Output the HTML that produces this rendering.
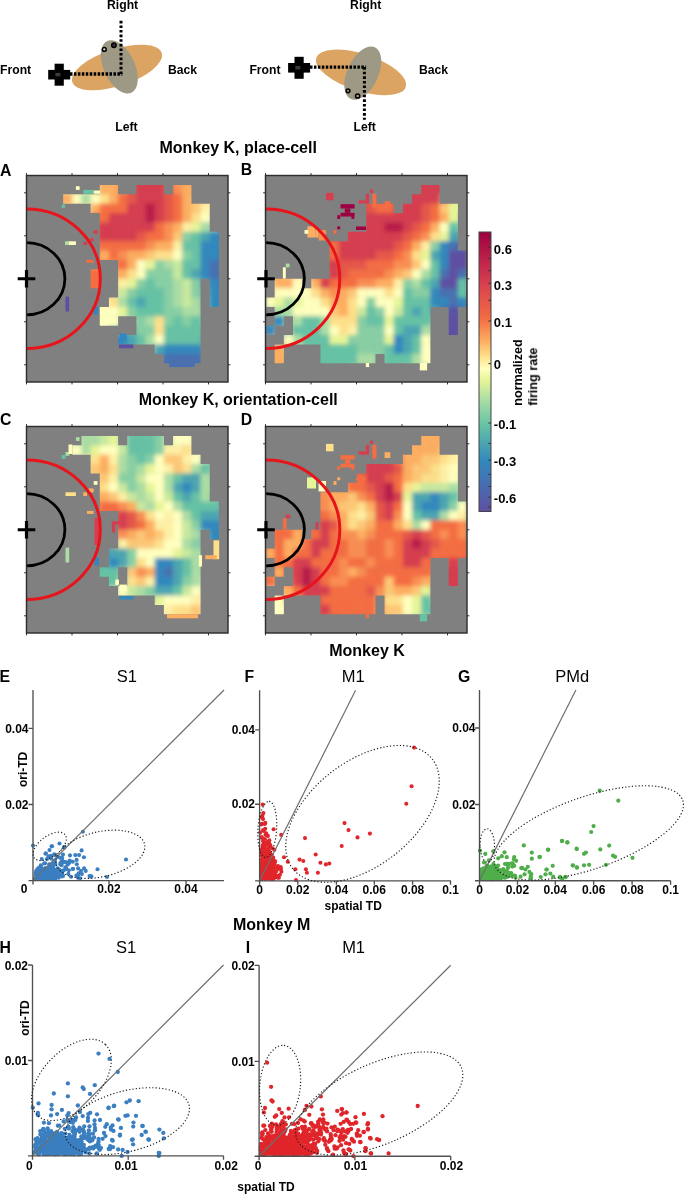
<!DOCTYPE html><html><head><meta charset="utf-8"><style>html,body{margin:0;padding:0;background:#fff;width:685px;height:1194px;overflow:hidden;}svg{display:block;}text{-webkit-font-smoothing:antialiased;}</style></head><body><svg width="685" height="1194" viewBox="0 0 685 1194" font-family="'Liberation Sans', sans-serif"><defs><filter id="blur" x="0" y="0" width="1" height="1"><feGaussianBlur stdDeviation="2.2" edgeMode="duplicate"/></filter><clipPath id="mA"><rect x="99.77" y="184.89" width="18.37" height="9.44"/><rect x="136.41" y="184.89" width="27.53" height="9.44"/><rect x="173.05" y="184.89" width="18.37" height="9.44"/><rect x="63.14" y="194.27" width="128.28" height="9.44"/><rect x="90.61" y="203.66" width="119.12" height="9.44"/><rect x="99.77" y="213.05" width="109.96" height="9.44"/><rect x="99.77" y="222.43" width="109.96" height="9.44"/><rect x="99.77" y="231.82" width="119.12" height="9.44"/><rect x="99.77" y="241.20" width="119.12" height="9.44"/><rect x="99.77" y="250.59" width="119.12" height="9.44"/><rect x="118.09" y="259.98" width="100.80" height="9.44"/><rect x="90.61" y="269.36" width="9.21" height="9.44"/><rect x="118.09" y="269.36" width="100.80" height="9.44"/><rect x="90.61" y="278.75" width="9.21" height="9.44"/><rect x="118.09" y="278.75" width="82.48" height="9.44"/><rect x="209.68" y="278.75" width="9.21" height="9.44"/><rect x="118.09" y="288.14" width="82.48" height="9.44"/><rect x="209.68" y="288.14" width="9.21" height="9.44"/><rect x="108.93" y="297.52" width="91.64" height="9.44"/><rect x="209.68" y="297.52" width="9.21" height="9.44"/><rect x="99.77" y="306.91" width="100.80" height="9.44"/><rect x="99.77" y="316.30" width="18.37" height="9.44"/><rect x="136.41" y="316.30" width="64.16" height="9.44"/><rect x="136.41" y="325.68" width="64.16" height="9.44"/><rect x="118.09" y="335.07" width="82.48" height="9.44"/><rect x="154.73" y="344.45" width="45.85" height="9.44"/><rect x="163.89" y="353.84" width="36.69" height="9.44"/></clipPath><clipPath id="pA"><rect x="26.5" y="175.5" width="201.5" height="206.5"/></clipPath><clipPath id="mB"><rect x="421.20" y="184.89" width="18.37" height="9.44"/><rect x="412.05" y="194.27" width="27.53" height="9.44"/><rect x="366.25" y="203.66" width="27.53" height="9.44"/><rect x="402.89" y="203.66" width="55.00" height="9.44"/><rect x="366.25" y="213.05" width="91.64" height="9.44"/><rect x="366.25" y="222.43" width="91.64" height="9.44"/><rect x="347.93" y="231.82" width="109.96" height="9.44"/><rect x="329.61" y="241.20" width="128.28" height="9.44"/><rect x="329.61" y="250.59" width="137.44" height="9.44"/><rect x="329.61" y="259.98" width="137.44" height="9.44"/><rect x="329.61" y="269.36" width="137.44" height="9.44"/><rect x="274.66" y="278.75" width="27.53" height="9.44"/><rect x="311.30" y="278.75" width="155.75" height="9.44"/><rect x="274.66" y="288.14" width="192.39" height="9.44"/><rect x="265.50" y="297.52" width="201.55" height="9.44"/><rect x="274.66" y="306.91" width="155.75" height="9.44"/><rect x="448.68" y="306.91" width="9.21" height="9.44"/><rect x="274.66" y="316.30" width="9.21" height="9.44"/><rect x="292.98" y="316.30" width="137.44" height="9.44"/><rect x="448.68" y="316.30" width="9.21" height="9.44"/><rect x="265.50" y="325.68" width="9.21" height="9.44"/><rect x="292.98" y="325.68" width="137.44" height="9.44"/><rect x="448.68" y="325.68" width="9.21" height="9.44"/><rect x="283.82" y="335.07" width="146.60" height="9.44"/><rect x="274.66" y="344.45" width="9.21" height="9.44"/><rect x="320.45" y="344.45" width="109.96" height="9.44"/><rect x="274.66" y="353.84" width="9.21" height="9.44"/><rect x="320.45" y="353.84" width="55.00" height="9.44"/><rect x="384.57" y="353.84" width="45.85" height="9.44"/></clipPath><clipPath id="pB"><rect x="265.5" y="175.5" width="201.5" height="206.5"/></clipPath><clipPath id="mC"><rect x="81.45" y="435.89" width="36.69" height="9.44"/><rect x="127.25" y="435.89" width="36.69" height="9.44"/><rect x="173.05" y="435.89" width="18.37" height="9.44"/><rect x="72.30" y="445.27" width="119.12" height="9.44"/><rect x="90.61" y="454.66" width="109.96" height="9.44"/><rect x="90.61" y="464.05" width="119.12" height="9.44"/><rect x="99.77" y="473.43" width="109.96" height="9.44"/><rect x="99.77" y="482.82" width="109.96" height="9.44"/><rect x="99.77" y="492.20" width="109.96" height="9.44"/><rect x="99.77" y="501.59" width="119.12" height="9.44"/><rect x="118.09" y="510.98" width="100.80" height="9.44"/><rect x="118.09" y="520.36" width="100.80" height="9.44"/><rect x="118.09" y="529.75" width="82.48" height="9.44"/><rect x="209.68" y="529.75" width="9.21" height="9.44"/><rect x="118.09" y="539.14" width="82.48" height="9.44"/><rect x="108.93" y="548.52" width="91.64" height="9.44"/><rect x="108.93" y="557.91" width="91.64" height="9.44"/><rect x="99.77" y="567.30" width="18.37" height="9.44"/><rect x="127.25" y="567.30" width="73.32" height="9.44"/><rect x="108.93" y="576.68" width="9.21" height="9.44"/><rect x="127.25" y="576.68" width="73.32" height="9.44"/><rect x="118.09" y="586.07" width="82.48" height="9.44"/><rect x="154.73" y="595.45" width="45.85" height="9.44"/><rect x="163.89" y="604.84" width="36.69" height="9.44"/></clipPath><clipPath id="pC"><rect x="26.5" y="426.5" width="201.5" height="206.5"/></clipPath><clipPath id="mD"><rect x="421.20" y="435.89" width="18.37" height="9.44"/><rect x="412.05" y="445.27" width="27.53" height="9.44"/><rect x="402.89" y="454.66" width="55.00" height="9.44"/><rect x="366.25" y="464.05" width="91.64" height="9.44"/><rect x="357.09" y="473.43" width="100.80" height="9.44"/><rect x="347.93" y="482.82" width="109.96" height="9.44"/><rect x="320.45" y="492.20" width="137.44" height="9.44"/><rect x="320.45" y="501.59" width="146.60" height="9.44"/><rect x="320.45" y="510.98" width="146.60" height="9.44"/><rect x="320.45" y="520.36" width="146.60" height="9.44"/><rect x="274.66" y="529.75" width="27.53" height="9.44"/><rect x="311.30" y="529.75" width="155.75" height="9.44"/><rect x="274.66" y="539.14" width="192.39" height="9.44"/><rect x="265.50" y="548.52" width="201.55" height="9.44"/><rect x="274.66" y="557.91" width="155.75" height="9.44"/><rect x="448.68" y="557.91" width="9.21" height="9.44"/><rect x="274.66" y="567.30" width="9.21" height="9.44"/><rect x="292.98" y="567.30" width="137.44" height="9.44"/><rect x="448.68" y="567.30" width="9.21" height="9.44"/><rect x="265.50" y="576.68" width="9.21" height="9.44"/><rect x="292.98" y="576.68" width="137.44" height="9.44"/><rect x="448.68" y="576.68" width="9.21" height="9.44"/><rect x="283.82" y="586.07" width="146.60" height="9.44"/><rect x="274.66" y="595.45" width="9.21" height="9.44"/><rect x="320.45" y="595.45" width="55.00" height="9.44"/><rect x="384.57" y="595.45" width="45.85" height="9.44"/><rect x="274.66" y="604.84" width="9.21" height="9.44"/><rect x="320.45" y="604.84" width="55.00" height="9.44"/><rect x="384.57" y="604.84" width="45.85" height="9.44"/></clipPath><clipPath id="pD"><rect x="265.5" y="426.5" width="201.5" height="206.5"/></clipPath><linearGradient id="cb" x1="0" y1="0" x2="0" y2="1"><stop offset="0" stop-color="#9e0142"/><stop offset="0.18" stop-color="#d53e4f"/><stop offset="0.31" stop-color="#f46d43"/><stop offset="0.39" stop-color="#fdae61"/><stop offset="0.445" stop-color="#fee08b"/><stop offset="0.49" stop-color="#ffffbf"/><stop offset="0.53" stop-color="#e6f598"/><stop offset="0.6" stop-color="#abdda4"/><stop offset="0.69" stop-color="#66c2a5"/><stop offset="0.82" stop-color="#3288bd"/><stop offset="1.0" stop-color="#5e4fa2"/></linearGradient></defs><ellipse cx="117" cy="67.5" rx="47" ry="18.5" transform="rotate(-18 117 67.5)" fill="#dba463"/>
<ellipse cx="119.3" cy="66.8" rx="15.5" ry="28.5" transform="rotate(-25 119.3 66.8)" fill="#9d9984"/>
<rect x="54.6" y="63.7" width="9.2" height="22" fill="#000"/>
<rect x="48.2" y="69.9" width="22" height="9.6" fill="#000"/>
<rect x="55.400000000000006" y="72.9" width="5" height="3.4" fill="#3a3a3a"/>
<line x1="70" y1="74" x2="122.3" y2="74" stroke="#000" stroke-width="3.4" stroke-dasharray="2.5 1.45"/>
<line x1="121" y1="20.8" x2="121" y2="74" stroke="#000" stroke-width="3" stroke-dasharray="2.6 2"/>
<circle cx="104.3" cy="49.4" r="1.9" fill="#d8d4c8" stroke="#000" stroke-width="1.5"/>
<circle cx="113.9" cy="45.3" r="2.2" fill="#333" stroke="#000" stroke-width="1.5"/>
<ellipse cx="361" cy="72.4" rx="47" ry="18.5" transform="rotate(18 361 72.4)" fill="#dba463"/>
<ellipse cx="362.8" cy="73.2" rx="15.5" ry="28.5" transform="rotate(25 362.8 73.2)" fill="#9d9984"/>
<rect x="294.5" y="56.8" width="9.2" height="22" fill="#000"/>
<rect x="288.1" y="63.0" width="22" height="9.6" fill="#000"/>
<rect x="295.3" y="66.0" width="5" height="3.4" fill="#3a3a3a"/>
<line x1="310" y1="67.1" x2="366.1" y2="67.1" stroke="#000" stroke-width="3.4" stroke-dasharray="2.5 1.45"/>
<line x1="364.4" y1="67.1" x2="364.4" y2="119.7" stroke="#000" stroke-width="3" stroke-dasharray="2.6 2"/>
<circle cx="348" cy="90.8" r="1.9" fill="none" stroke="#000" stroke-width="1.5"/>
<circle cx="357.6" cy="96" r="2.1" fill="none" stroke="#000" stroke-width="1.5"/>
<rect x="26.5" y="175.5" width="201.5" height="206.5" fill="#808080"/>
<g clip-path="url(#mA)"><g filter="url(#blur)"><rect x="26.50" y="175.50" width="9.46" height="9.69" fill="#fdae61"/><rect x="35.66" y="175.50" width="9.46" height="9.69" fill="#fdae61"/><rect x="44.82" y="175.50" width="9.46" height="9.69" fill="#fdae61"/><rect x="53.98" y="175.50" width="9.46" height="9.69" fill="#fec278"/><rect x="63.14" y="175.50" width="9.46" height="9.69" fill="#f4ca83"/><rect x="72.30" y="175.50" width="9.46" height="9.69" fill="#ece19f"/><rect x="81.45" y="175.50" width="9.46" height="9.69" fill="#ebd590"/><rect x="90.61" y="175.50" width="9.46" height="9.69" fill="#fdae61"/><rect x="99.77" y="175.50" width="9.46" height="9.69" fill="#fdae61"/><rect x="108.93" y="175.50" width="9.46" height="9.69" fill="#fdae61"/><rect x="118.09" y="175.50" width="9.46" height="9.69" fill="#fdae61"/><rect x="127.25" y="175.50" width="9.46" height="9.69" fill="#d53e4f"/><rect x="136.41" y="175.50" width="9.46" height="9.69" fill="#d53e4f"/><rect x="145.57" y="175.50" width="9.46" height="9.69" fill="#d53e4f"/><rect x="154.73" y="175.50" width="9.46" height="9.69" fill="#d53e4f"/><rect x="163.89" y="175.50" width="9.46" height="9.69" fill="#e76650"/><rect x="173.05" y="175.50" width="9.46" height="9.69" fill="#fb9e5a"/><rect x="182.20" y="175.50" width="9.46" height="9.69" fill="#fb9e5a"/><rect x="191.36" y="175.50" width="9.46" height="9.69" fill="#fdae61"/><rect x="200.52" y="175.50" width="9.46" height="9.69" fill="#fdae61"/><rect x="209.68" y="175.50" width="9.46" height="9.69" fill="#fed387"/><rect x="218.84" y="175.50" width="9.46" height="9.69" fill="#feeb9f"/><rect x="26.50" y="184.89" width="9.46" height="9.69" fill="#fdae61"/><rect x="35.66" y="184.89" width="9.46" height="9.69" fill="#fdae61"/><rect x="44.82" y="184.89" width="9.46" height="9.69" fill="#fdae61"/><rect x="53.98" y="184.89" width="9.46" height="9.69" fill="#fdae61"/><rect x="63.14" y="184.89" width="9.46" height="9.69" fill="#fed690"/><rect x="72.30" y="184.89" width="9.46" height="9.69" fill="#e2d997"/><rect x="81.45" y="184.89" width="9.46" height="9.69" fill="#e3f4b6"/><rect x="90.61" y="184.89" width="9.46" height="9.69" fill="#e9da94"/><rect x="99.77" y="184.89" width="9.46" height="9.69" fill="#fdae61"/><rect x="108.93" y="184.89" width="9.46" height="9.69" fill="#fdae61"/><rect x="118.09" y="184.89" width="9.46" height="9.69" fill="#f58854"/><rect x="127.25" y="184.89" width="9.46" height="9.69" fill="#e1504b"/><rect x="136.41" y="184.89" width="9.46" height="9.69" fill="#d53e4f"/><rect x="145.57" y="184.89" width="9.46" height="9.69" fill="#d53e4f"/><rect x="154.73" y="184.89" width="9.46" height="9.69" fill="#d53e4f"/><rect x="163.89" y="184.89" width="9.46" height="9.69" fill="#e65c4c"/><rect x="173.05" y="184.89" width="9.46" height="9.69" fill="#f98e52"/><rect x="182.20" y="184.89" width="9.46" height="9.69" fill="#fdae61"/><rect x="191.36" y="184.89" width="9.46" height="9.69" fill="#fdae61"/><rect x="200.52" y="184.89" width="9.46" height="9.69" fill="#fdc87b"/><rect x="209.68" y="184.89" width="9.46" height="9.69" fill="#fee699"/><rect x="218.84" y="184.89" width="9.46" height="9.69" fill="#fef0a5"/><rect x="26.50" y="194.27" width="9.46" height="9.69" fill="#fdae61"/><rect x="35.66" y="194.27" width="9.46" height="9.69" fill="#fdae61"/><rect x="44.82" y="194.27" width="9.46" height="9.69" fill="#fdae61"/><rect x="53.98" y="194.27" width="9.46" height="9.69" fill="#fdae61"/><rect x="63.14" y="194.27" width="9.46" height="9.69" fill="#fdae61"/><rect x="72.30" y="194.27" width="9.46" height="9.69" fill="#ffffbf"/><rect x="81.45" y="194.27" width="9.46" height="9.69" fill="#abdda4"/><rect x="90.61" y="194.27" width="9.46" height="9.69" fill="#ffffbf"/><rect x="99.77" y="194.27" width="9.46" height="9.69" fill="#fee08b"/><rect x="108.93" y="194.27" width="9.46" height="9.69" fill="#fdae61"/><rect x="118.09" y="194.27" width="9.46" height="9.69" fill="#f46d43"/><rect x="127.25" y="194.27" width="9.46" height="9.69" fill="#e5564a"/><rect x="136.41" y="194.27" width="9.46" height="9.69" fill="#d53e4f"/><rect x="145.57" y="194.27" width="9.46" height="9.69" fill="#d53e4f"/><rect x="154.73" y="194.27" width="9.46" height="9.69" fill="#d53e4f"/><rect x="163.89" y="194.27" width="9.46" height="9.69" fill="#e5564a"/><rect x="173.05" y="194.27" width="9.46" height="9.69" fill="#f46d43"/><rect x="182.20" y="194.27" width="9.46" height="9.69" fill="#fdae61"/><rect x="191.36" y="194.27" width="9.46" height="9.69" fill="#fdc073"/><rect x="200.52" y="194.27" width="9.46" height="9.69" fill="#fedc8e"/><rect x="209.68" y="194.27" width="9.46" height="9.69" fill="#fef0a5"/><rect x="218.84" y="194.27" width="9.46" height="9.69" fill="#fef4ac"/><rect x="26.50" y="203.66" width="9.46" height="9.69" fill="#fdae61"/><rect x="35.66" y="203.66" width="9.46" height="9.69" fill="#fdae61"/><rect x="44.82" y="203.66" width="9.46" height="9.69" fill="#fdae61"/><rect x="53.98" y="203.66" width="9.46" height="9.69" fill="#fdae61"/><rect x="63.14" y="203.66" width="9.46" height="9.69" fill="#fed690"/><rect x="72.30" y="203.66" width="9.46" height="9.69" fill="#e2d997"/><rect x="81.45" y="203.66" width="9.46" height="9.69" fill="#eae2a1"/><rect x="90.61" y="203.66" width="9.46" height="9.69" fill="#fdae61"/><rect x="99.77" y="203.66" width="9.46" height="9.69" fill="#f46d43"/><rect x="108.93" y="203.66" width="9.46" height="9.69" fill="#f46d43"/><rect x="118.09" y="203.66" width="9.46" height="9.69" fill="#f46d43"/><rect x="127.25" y="203.66" width="9.46" height="9.69" fill="#d53e4f"/><rect x="136.41" y="203.66" width="9.46" height="9.69" fill="#d53e4f"/><rect x="145.57" y="203.66" width="9.46" height="9.69" fill="#b81e4a"/><rect x="154.73" y="203.66" width="9.46" height="9.69" fill="#d53e4f"/><rect x="163.89" y="203.66" width="9.46" height="9.69" fill="#e5564a"/><rect x="173.05" y="203.66" width="9.46" height="9.69" fill="#f46d43"/><rect x="182.20" y="203.66" width="9.46" height="9.69" fill="#fdae61"/><rect x="191.36" y="203.66" width="9.46" height="9.69" fill="#fdc776"/><rect x="200.52" y="203.66" width="9.46" height="9.69" fill="#fef0a5"/><rect x="209.68" y="203.66" width="9.46" height="9.69" fill="#fef8b2"/><rect x="218.84" y="203.66" width="9.46" height="9.69" fill="#f5f2ac"/><rect x="26.50" y="213.05" width="9.46" height="9.69" fill="#fdae61"/><rect x="35.66" y="213.05" width="9.46" height="9.69" fill="#fdae61"/><rect x="44.82" y="213.05" width="9.46" height="9.69" fill="#fdae61"/><rect x="53.98" y="213.05" width="9.46" height="9.69" fill="#fec278"/><rect x="63.14" y="213.05" width="9.46" height="9.69" fill="#f4ca83"/><rect x="72.30" y="213.05" width="9.46" height="9.69" fill="#f2d08a"/><rect x="81.45" y="213.05" width="9.46" height="9.69" fill="#fdae61"/><rect x="90.61" y="213.05" width="9.46" height="9.69" fill="#ee724e"/><rect x="99.77" y="213.05" width="9.46" height="9.69" fill="#f46d43"/><rect x="108.93" y="213.05" width="9.46" height="9.69" fill="#d53e4f"/><rect x="118.09" y="213.05" width="9.46" height="9.69" fill="#d53e4f"/><rect x="127.25" y="213.05" width="9.46" height="9.69" fill="#d53e4f"/><rect x="136.41" y="213.05" width="9.46" height="9.69" fill="#d53e4f"/><rect x="145.57" y="213.05" width="9.46" height="9.69" fill="#b81e4a"/><rect x="154.73" y="213.05" width="9.46" height="9.69" fill="#d53e4f"/><rect x="163.89" y="213.05" width="9.46" height="9.69" fill="#e5564a"/><rect x="173.05" y="213.05" width="9.46" height="9.69" fill="#f46d43"/><rect x="182.20" y="213.05" width="9.46" height="9.69" fill="#fdae61"/><rect x="191.36" y="213.05" width="9.46" height="9.69" fill="#fee08b"/><rect x="200.52" y="213.05" width="9.46" height="9.69" fill="#ffffbf"/><rect x="209.68" y="213.05" width="9.46" height="9.69" fill="#e3efad"/><rect x="218.84" y="213.05" width="9.46" height="9.69" fill="#a7ccb4"/><rect x="26.50" y="222.43" width="9.46" height="9.69" fill="#fdae61"/><rect x="35.66" y="222.43" width="9.46" height="9.69" fill="#fdae61"/><rect x="44.82" y="222.43" width="9.46" height="9.69" fill="#fdb86d"/><rect x="53.98" y="222.43" width="9.46" height="9.69" fill="#fabe74"/><rect x="63.14" y="222.43" width="9.46" height="9.69" fill="#f8c27a"/><rect x="72.30" y="222.43" width="9.46" height="9.69" fill="#fdae61"/><rect x="81.45" y="222.43" width="9.46" height="9.69" fill="#eb6f51"/><rect x="90.61" y="222.43" width="9.46" height="9.69" fill="#df4e4b"/><rect x="99.77" y="222.43" width="9.46" height="9.69" fill="#d53e4f"/><rect x="108.93" y="222.43" width="9.46" height="9.69" fill="#d53e4f"/><rect x="118.09" y="222.43" width="9.46" height="9.69" fill="#d53e4f"/><rect x="127.25" y="222.43" width="9.46" height="9.69" fill="#d53e4f"/><rect x="136.41" y="222.43" width="9.46" height="9.69" fill="#d53e4f"/><rect x="145.57" y="222.43" width="9.46" height="9.69" fill="#d53e4f"/><rect x="154.73" y="222.43" width="9.46" height="9.69" fill="#f46d43"/><rect x="163.89" y="222.43" width="9.46" height="9.69" fill="#f98e52"/><rect x="173.05" y="222.43" width="9.46" height="9.69" fill="#fdae61"/><rect x="182.20" y="222.43" width="9.46" height="9.69" fill="#fef0a5"/><rect x="191.36" y="222.43" width="9.46" height="9.69" fill="#e6f598"/><rect x="200.52" y="222.43" width="9.46" height="9.69" fill="#abdda4"/><rect x="209.68" y="222.43" width="9.46" height="9.69" fill="#8ac2b4"/><rect x="218.84" y="222.43" width="9.46" height="9.69" fill="#3288bd"/><rect x="26.50" y="231.82" width="9.46" height="9.69" fill="#fdae61"/><rect x="35.66" y="231.82" width="9.46" height="9.69" fill="#fdb367"/><rect x="44.82" y="231.82" width="9.46" height="9.69" fill="#fcb76b"/><rect x="53.98" y="231.82" width="9.46" height="9.69" fill="#faaa66"/><rect x="63.14" y="231.82" width="9.46" height="9.69" fill="#fdae61"/><rect x="72.30" y="231.82" width="9.46" height="9.69" fill="#ee7a54"/><rect x="81.45" y="231.82" width="9.46" height="9.69" fill="#e45a4d"/><rect x="90.61" y="231.82" width="9.46" height="9.69" fill="#df4e4b"/><rect x="99.77" y="231.82" width="9.46" height="9.69" fill="#d53e4f"/><rect x="108.93" y="231.82" width="9.46" height="9.69" fill="#d53e4f"/><rect x="118.09" y="231.82" width="9.46" height="9.69" fill="#d53e4f"/><rect x="127.25" y="231.82" width="9.46" height="9.69" fill="#d53e4f"/><rect x="136.41" y="231.82" width="9.46" height="9.69" fill="#e5564a"/><rect x="145.57" y="231.82" width="9.46" height="9.69" fill="#f46d43"/><rect x="154.73" y="231.82" width="9.46" height="9.69" fill="#f46d43"/><rect x="163.89" y="231.82" width="9.46" height="9.69" fill="#f98e52"/><rect x="173.05" y="231.82" width="9.46" height="9.69" fill="#fdc776"/><rect x="182.20" y="231.82" width="9.46" height="9.69" fill="#88cfa4"/><rect x="191.36" y="231.82" width="9.46" height="9.69" fill="#66c2a5"/><rect x="200.52" y="231.82" width="9.46" height="9.69" fill="#4ca5b1"/><rect x="209.68" y="231.82" width="9.46" height="9.69" fill="#3288bd"/><rect x="218.84" y="231.82" width="9.46" height="9.69" fill="#3288bd"/><rect x="26.50" y="241.20" width="9.46" height="9.69" fill="#fdb164"/><rect x="35.66" y="241.20" width="9.46" height="9.69" fill="#fdb366"/><rect x="44.82" y="241.20" width="9.46" height="9.69" fill="#f99a5b"/><rect x="53.98" y="241.20" width="9.46" height="9.69" fill="#f7834d"/><rect x="63.14" y="241.20" width="9.46" height="9.69" fill="#f46d43"/><rect x="72.30" y="241.20" width="9.46" height="9.69" fill="#ee6d4b"/><rect x="81.45" y="241.20" width="9.46" height="9.69" fill="#ec6f4f"/><rect x="90.61" y="241.20" width="9.46" height="9.69" fill="#ed7351"/><rect x="99.77" y="241.20" width="9.46" height="9.69" fill="#f46d43"/><rect x="108.93" y="241.20" width="9.46" height="9.69" fill="#f46d43"/><rect x="118.09" y="241.20" width="9.46" height="9.69" fill="#f46d43"/><rect x="127.25" y="241.20" width="9.46" height="9.69" fill="#f46d43"/><rect x="136.41" y="241.20" width="9.46" height="9.69" fill="#f46d43"/><rect x="145.57" y="241.20" width="9.46" height="9.69" fill="#f98e52"/><rect x="154.73" y="241.20" width="9.46" height="9.69" fill="#fdae61"/><rect x="163.89" y="241.20" width="9.46" height="9.69" fill="#fdae61"/><rect x="173.05" y="241.20" width="9.46" height="9.69" fill="#fef0a5"/><rect x="182.20" y="241.20" width="9.46" height="9.69" fill="#66c2a5"/><rect x="191.36" y="241.20" width="9.46" height="9.69" fill="#66c2a5"/><rect x="200.52" y="241.20" width="9.46" height="9.69" fill="#3288bd"/><rect x="209.68" y="241.20" width="9.46" height="9.69" fill="#3288bd"/><rect x="218.84" y="241.20" width="9.46" height="9.69" fill="#3288bd"/><rect x="26.50" y="250.59" width="9.46" height="9.69" fill="#fdb265"/><rect x="35.66" y="250.59" width="9.46" height="9.69" fill="#f99356"/><rect x="44.82" y="250.59" width="9.46" height="9.69" fill="#f57446"/><rect x="53.98" y="250.59" width="9.46" height="9.69" fill="#f46d43"/><rect x="63.14" y="250.59" width="9.46" height="9.69" fill="#f46d43"/><rect x="72.30" y="250.59" width="9.46" height="9.69" fill="#f46d43"/><rect x="81.45" y="250.59" width="9.46" height="9.69" fill="#f47f4e"/><rect x="90.61" y="250.59" width="9.46" height="9.69" fill="#f88e52"/><rect x="99.77" y="250.59" width="9.46" height="9.69" fill="#fdae61"/><rect x="108.93" y="250.59" width="9.46" height="9.69" fill="#f46d43"/><rect x="118.09" y="250.59" width="9.46" height="9.69" fill="#f98e52"/><rect x="127.25" y="250.59" width="9.46" height="9.69" fill="#fdae61"/><rect x="136.41" y="250.59" width="9.46" height="9.69" fill="#fdae61"/><rect x="145.57" y="250.59" width="9.46" height="9.69" fill="#fdc776"/><rect x="154.73" y="250.59" width="9.46" height="9.69" fill="#fee08b"/><rect x="163.89" y="250.59" width="9.46" height="9.69" fill="#fee08b"/><rect x="173.05" y="250.59" width="9.46" height="9.69" fill="#ffffbf"/><rect x="182.20" y="250.59" width="9.46" height="9.69" fill="#88cfa4"/><rect x="191.36" y="250.59" width="9.46" height="9.69" fill="#66c2a5"/><rect x="200.52" y="250.59" width="9.46" height="9.69" fill="#3288bd"/><rect x="209.68" y="250.59" width="9.46" height="9.69" fill="#3288bd"/><rect x="218.84" y="250.59" width="9.46" height="9.69" fill="#3980b9"/><rect x="26.50" y="259.98" width="9.46" height="9.69" fill="#f88851"/><rect x="35.66" y="259.98" width="9.46" height="9.69" fill="#f46f44"/><rect x="44.82" y="259.98" width="9.46" height="9.69" fill="#f46d43"/><rect x="53.98" y="259.98" width="9.46" height="9.69" fill="#f46d43"/><rect x="63.14" y="259.98" width="9.46" height="9.69" fill="#f46d43"/><rect x="72.30" y="259.98" width="9.46" height="9.69" fill="#f46d43"/><rect x="81.45" y="259.98" width="9.46" height="9.69" fill="#f46d43"/><rect x="90.61" y="259.98" width="9.46" height="9.69" fill="#f88e52"/><rect x="99.77" y="259.98" width="9.46" height="9.69" fill="#f7834d"/><rect x="108.93" y="259.98" width="9.46" height="9.69" fill="#f98e52"/><rect x="118.09" y="259.98" width="9.46" height="9.69" fill="#f46d43"/><rect x="127.25" y="259.98" width="9.46" height="9.69" fill="#fdae61"/><rect x="136.41" y="259.98" width="9.46" height="9.69" fill="#ffffbf"/><rect x="145.57" y="259.98" width="9.46" height="9.69" fill="#e6f598"/><rect x="154.73" y="259.98" width="9.46" height="9.69" fill="#88cfa4"/><rect x="163.89" y="259.98" width="9.46" height="9.69" fill="#abdda4"/><rect x="173.05" y="259.98" width="9.46" height="9.69" fill="#c8e99e"/><rect x="182.20" y="259.98" width="9.46" height="9.69" fill="#66c2a5"/><rect x="191.36" y="259.98" width="9.46" height="9.69" fill="#66c2a5"/><rect x="200.52" y="259.98" width="9.46" height="9.69" fill="#3288bd"/><rect x="209.68" y="259.98" width="9.46" height="9.69" fill="#4870b0"/><rect x="218.84" y="259.98" width="9.46" height="9.69" fill="#4178b4"/><rect x="26.50" y="269.36" width="9.46" height="9.69" fill="#f46e43"/><rect x="35.66" y="269.36" width="9.46" height="9.69" fill="#f46d43"/><rect x="44.82" y="269.36" width="9.46" height="9.69" fill="#f46d43"/><rect x="53.98" y="269.36" width="9.46" height="9.69" fill="#f46d43"/><rect x="63.14" y="269.36" width="9.46" height="9.69" fill="#f46d43"/><rect x="72.30" y="269.36" width="9.46" height="9.69" fill="#f46d43"/><rect x="81.45" y="269.36" width="9.46" height="9.69" fill="#f46d43"/><rect x="90.61" y="269.36" width="9.46" height="9.69" fill="#f46d43"/><rect x="99.77" y="269.36" width="9.46" height="9.69" fill="#f46d43"/><rect x="108.93" y="269.36" width="9.46" height="9.69" fill="#faae6e"/><rect x="118.09" y="269.36" width="9.46" height="9.69" fill="#fdae61"/><rect x="127.25" y="269.36" width="9.46" height="9.69" fill="#fee08b"/><rect x="136.41" y="269.36" width="9.46" height="9.69" fill="#ffffbf"/><rect x="145.57" y="269.36" width="9.46" height="9.69" fill="#88cfa4"/><rect x="154.73" y="269.36" width="9.46" height="9.69" fill="#88cfa4"/><rect x="163.89" y="269.36" width="9.46" height="9.69" fill="#88cfa4"/><rect x="173.05" y="269.36" width="9.46" height="9.69" fill="#c8e99e"/><rect x="182.20" y="269.36" width="9.46" height="9.69" fill="#66c2a5"/><rect x="191.36" y="269.36" width="9.46" height="9.69" fill="#4ca5b1"/><rect x="200.52" y="269.36" width="9.46" height="9.69" fill="#3288bd"/><rect x="209.68" y="269.36" width="9.46" height="9.69" fill="#4870b0"/><rect x="218.84" y="269.36" width="9.46" height="9.69" fill="#4178b4"/><rect x="26.50" y="278.75" width="9.46" height="9.69" fill="#f46d43"/><rect x="35.66" y="278.75" width="9.46" height="9.69" fill="#f46d43"/><rect x="44.82" y="278.75" width="9.46" height="9.69" fill="#f46d43"/><rect x="53.98" y="278.75" width="9.46" height="9.69" fill="#f46d43"/><rect x="63.14" y="278.75" width="9.46" height="9.69" fill="#f46d43"/><rect x="72.30" y="278.75" width="9.46" height="9.69" fill="#f46d43"/><rect x="81.45" y="278.75" width="9.46" height="9.69" fill="#f46d43"/><rect x="90.61" y="278.75" width="9.46" height="9.69" fill="#f46d43"/><rect x="99.77" y="278.75" width="9.46" height="9.69" fill="#f46d43"/><rect x="108.93" y="278.75" width="9.46" height="9.69" fill="#ecd88c"/><rect x="118.09" y="278.75" width="9.46" height="9.69" fill="#fef0a5"/><rect x="127.25" y="278.75" width="9.46" height="9.69" fill="#e6f598"/><rect x="136.41" y="278.75" width="9.46" height="9.69" fill="#88cfa4"/><rect x="145.57" y="278.75" width="9.46" height="9.69" fill="#66c2a5"/><rect x="154.73" y="278.75" width="9.46" height="9.69" fill="#88cfa4"/><rect x="163.89" y="278.75" width="9.46" height="9.69" fill="#88cfa4"/><rect x="173.05" y="278.75" width="9.46" height="9.69" fill="#abdda4"/><rect x="182.20" y="278.75" width="9.46" height="9.69" fill="#c8e99e"/><rect x="191.36" y="278.75" width="9.46" height="9.69" fill="#88cfa4"/><rect x="200.52" y="278.75" width="9.46" height="9.69" fill="#519db2"/><rect x="209.68" y="278.75" width="9.46" height="9.69" fill="#3288bd"/><rect x="218.84" y="278.75" width="9.46" height="9.69" fill="#3980b9"/><rect x="26.50" y="288.14" width="9.46" height="9.69" fill="#f46d43"/><rect x="35.66" y="288.14" width="9.46" height="9.69" fill="#f46d43"/><rect x="44.82" y="288.14" width="9.46" height="9.69" fill="#f46d43"/><rect x="53.98" y="288.14" width="9.46" height="9.69" fill="#f46d43"/><rect x="63.14" y="288.14" width="9.46" height="9.69" fill="#f46d43"/><rect x="72.30" y="288.14" width="9.46" height="9.69" fill="#f46d43"/><rect x="81.45" y="288.14" width="9.46" height="9.69" fill="#f46d43"/><rect x="90.61" y="288.14" width="9.46" height="9.69" fill="#f46d43"/><rect x="99.77" y="288.14" width="9.46" height="9.69" fill="#f9a667"/><rect x="108.93" y="288.14" width="9.46" height="9.69" fill="#dce69c"/><rect x="118.09" y="288.14" width="9.46" height="9.69" fill="#c8e99e"/><rect x="127.25" y="288.14" width="9.46" height="9.69" fill="#88cfa4"/><rect x="136.41" y="288.14" width="9.46" height="9.69" fill="#66c2a5"/><rect x="145.57" y="288.14" width="9.46" height="9.69" fill="#66c2a5"/><rect x="154.73" y="288.14" width="9.46" height="9.69" fill="#66c2a5"/><rect x="163.89" y="288.14" width="9.46" height="9.69" fill="#88cfa4"/><rect x="173.05" y="288.14" width="9.46" height="9.69" fill="#abdda4"/><rect x="182.20" y="288.14" width="9.46" height="9.69" fill="#c8e99e"/><rect x="191.36" y="288.14" width="9.46" height="9.69" fill="#88cfa4"/><rect x="200.52" y="288.14" width="9.46" height="9.69" fill="#63aeb0"/><rect x="209.68" y="288.14" width="9.46" height="9.69" fill="#3288bd"/><rect x="218.84" y="288.14" width="9.46" height="9.69" fill="#3288bd"/><rect x="26.50" y="297.52" width="9.46" height="9.69" fill="#f46d43"/><rect x="35.66" y="297.52" width="9.46" height="9.69" fill="#f46d43"/><rect x="44.82" y="297.52" width="9.46" height="9.69" fill="#f46d43"/><rect x="53.98" y="297.52" width="9.46" height="9.69" fill="#f46d43"/><rect x="63.14" y="297.52" width="9.46" height="9.69" fill="#f46d43"/><rect x="72.30" y="297.52" width="9.46" height="9.69" fill="#f46d43"/><rect x="81.45" y="297.52" width="9.46" height="9.69" fill="#fab681"/><rect x="90.61" y="297.52" width="9.46" height="9.69" fill="#ffffbf"/><rect x="99.77" y="297.52" width="9.46" height="9.69" fill="#fff5ae"/><rect x="108.93" y="297.52" width="9.46" height="9.69" fill="#fee08b"/><rect x="118.09" y="297.52" width="9.46" height="9.69" fill="#abdda4"/><rect x="127.25" y="297.52" width="9.46" height="9.69" fill="#66c2a5"/><rect x="136.41" y="297.52" width="9.46" height="9.69" fill="#4ca5b1"/><rect x="145.57" y="297.52" width="9.46" height="9.69" fill="#66c2a5"/><rect x="154.73" y="297.52" width="9.46" height="9.69" fill="#66c2a5"/><rect x="163.89" y="297.52" width="9.46" height="9.69" fill="#88cfa4"/><rect x="173.05" y="297.52" width="9.46" height="9.69" fill="#abdda4"/><rect x="182.20" y="297.52" width="9.46" height="9.69" fill="#c8e99e"/><rect x="191.36" y="297.52" width="9.46" height="9.69" fill="#abdda4"/><rect x="200.52" y="297.52" width="9.46" height="9.69" fill="#74b8ae"/><rect x="209.68" y="297.52" width="9.46" height="9.69" fill="#3288bd"/><rect x="218.84" y="297.52" width="9.46" height="9.69" fill="#3288bd"/><rect x="26.50" y="306.91" width="9.46" height="9.69" fill="#f46d43"/><rect x="35.66" y="306.91" width="9.46" height="9.69" fill="#f46d43"/><rect x="44.82" y="306.91" width="9.46" height="9.69" fill="#f46d43"/><rect x="53.98" y="306.91" width="9.46" height="9.69" fill="#f46d43"/><rect x="63.14" y="306.91" width="9.46" height="9.69" fill="#f46d43"/><rect x="72.30" y="306.91" width="9.46" height="9.69" fill="#fbc890"/><rect x="81.45" y="306.91" width="9.46" height="9.69" fill="#ffffbf"/><rect x="90.61" y="306.91" width="9.46" height="9.69" fill="#ffffbf"/><rect x="99.77" y="306.91" width="9.46" height="9.69" fill="#ffffbf"/><rect x="108.93" y="306.91" width="9.46" height="9.69" fill="#ffffbf"/><rect x="118.09" y="306.91" width="9.46" height="9.69" fill="#e6f598"/><rect x="127.25" y="306.91" width="9.46" height="9.69" fill="#88cfa4"/><rect x="136.41" y="306.91" width="9.46" height="9.69" fill="#66c2a5"/><rect x="145.57" y="306.91" width="9.46" height="9.69" fill="#66c2a5"/><rect x="154.73" y="306.91" width="9.46" height="9.69" fill="#66c2a5"/><rect x="163.89" y="306.91" width="9.46" height="9.69" fill="#88cfa4"/><rect x="173.05" y="306.91" width="9.46" height="9.69" fill="#88cfa4"/><rect x="182.20" y="306.91" width="9.46" height="9.69" fill="#abdda4"/><rect x="191.36" y="306.91" width="9.46" height="9.69" fill="#abdda4"/><rect x="200.52" y="306.91" width="9.46" height="9.69" fill="#7cc1aa"/><rect x="209.68" y="306.91" width="9.46" height="9.69" fill="#3288bd"/><rect x="218.84" y="306.91" width="9.46" height="9.69" fill="#3288bd"/><rect x="26.50" y="316.30" width="9.46" height="9.69" fill="#f46d43"/><rect x="35.66" y="316.30" width="9.46" height="9.69" fill="#f46d43"/><rect x="44.82" y="316.30" width="9.46" height="9.69" fill="#f46d43"/><rect x="53.98" y="316.30" width="9.46" height="9.69" fill="#f46d43"/><rect x="63.14" y="316.30" width="9.46" height="9.69" fill="#fbcd94"/><rect x="72.30" y="316.30" width="9.46" height="9.69" fill="#ffffbf"/><rect x="81.45" y="316.30" width="9.46" height="9.69" fill="#ffffbf"/><rect x="90.61" y="316.30" width="9.46" height="9.69" fill="#ffffbf"/><rect x="99.77" y="316.30" width="9.46" height="9.69" fill="#ffffbf"/><rect x="108.93" y="316.30" width="9.46" height="9.69" fill="#ffffbf"/><rect x="118.09" y="316.30" width="9.46" height="9.69" fill="#dbf0ae"/><rect x="127.25" y="316.30" width="9.46" height="9.69" fill="#94d4a2"/><rect x="136.41" y="316.30" width="9.46" height="9.69" fill="#88cfa4"/><rect x="145.57" y="316.30" width="9.46" height="9.69" fill="#abdda4"/><rect x="154.73" y="316.30" width="9.46" height="9.69" fill="#fee08b"/><rect x="163.89" y="316.30" width="9.46" height="9.69" fill="#88cfa4"/><rect x="173.05" y="316.30" width="9.46" height="9.69" fill="#66c2a5"/><rect x="182.20" y="316.30" width="9.46" height="9.69" fill="#88cfa4"/><rect x="191.36" y="316.30" width="9.46" height="9.69" fill="#66c2a5"/><rect x="200.52" y="316.30" width="9.46" height="9.69" fill="#7dcba5"/><rect x="209.68" y="316.30" width="9.46" height="9.69" fill="#5aacb0"/><rect x="218.84" y="316.30" width="9.46" height="9.69" fill="#3288bd"/><rect x="26.50" y="325.68" width="9.46" height="9.69" fill="#f46d43"/><rect x="35.66" y="325.68" width="9.46" height="9.69" fill="#f46d43"/><rect x="44.82" y="325.68" width="9.46" height="9.69" fill="#f46d43"/><rect x="53.98" y="325.68" width="9.46" height="9.69" fill="#fbce95"/><rect x="63.14" y="325.68" width="9.46" height="9.69" fill="#ffffbf"/><rect x="72.30" y="325.68" width="9.46" height="9.69" fill="#ffffbf"/><rect x="81.45" y="325.68" width="9.46" height="9.69" fill="#ffffbf"/><rect x="90.61" y="325.68" width="9.46" height="9.69" fill="#ffffbf"/><rect x="99.77" y="325.68" width="9.46" height="9.69" fill="#ffffbf"/><rect x="108.93" y="325.68" width="9.46" height="9.69" fill="#bbd7be"/><rect x="118.09" y="325.68" width="9.46" height="9.69" fill="#7fb9ba"/><rect x="127.25" y="325.68" width="9.46" height="9.69" fill="#64b6ac"/><rect x="136.41" y="325.68" width="9.46" height="9.69" fill="#88cfa4"/><rect x="145.57" y="325.68" width="9.46" height="9.69" fill="#88cfa4"/><rect x="154.73" y="325.68" width="9.46" height="9.69" fill="#fee08b"/><rect x="163.89" y="325.68" width="9.46" height="9.69" fill="#66c2a5"/><rect x="173.05" y="325.68" width="9.46" height="9.69" fill="#66c2a5"/><rect x="182.20" y="325.68" width="9.46" height="9.69" fill="#66c2a5"/><rect x="191.36" y="325.68" width="9.46" height="9.69" fill="#66c2a5"/><rect x="200.52" y="325.68" width="9.46" height="9.69" fill="#66c2a5"/><rect x="209.68" y="325.68" width="9.46" height="9.69" fill="#68bfa8"/><rect x="218.84" y="325.68" width="9.46" height="9.69" fill="#53a8b0"/><rect x="26.50" y="335.07" width="9.46" height="9.69" fill="#f46d43"/><rect x="35.66" y="335.07" width="9.46" height="9.69" fill="#f46d43"/><rect x="44.82" y="335.07" width="9.46" height="9.69" fill="#fbce96"/><rect x="53.98" y="335.07" width="9.46" height="9.69" fill="#ffffbf"/><rect x="63.14" y="335.07" width="9.46" height="9.69" fill="#ffffbf"/><rect x="72.30" y="335.07" width="9.46" height="9.69" fill="#ffffbf"/><rect x="81.45" y="335.07" width="9.46" height="9.69" fill="#ffffbf"/><rect x="90.61" y="335.07" width="9.46" height="9.69" fill="#ffffbf"/><rect x="99.77" y="335.07" width="9.46" height="9.69" fill="#9fc7be"/><rect x="108.93" y="335.07" width="9.46" height="9.69" fill="#3288bd"/><rect x="118.09" y="335.07" width="9.46" height="9.69" fill="#3288bd"/><rect x="127.25" y="335.07" width="9.46" height="9.69" fill="#4ca5b1"/><rect x="136.41" y="335.07" width="9.46" height="9.69" fill="#66c2a5"/><rect x="145.57" y="335.07" width="9.46" height="9.69" fill="#abdda4"/><rect x="154.73" y="335.07" width="9.46" height="9.69" fill="#ffffbf"/><rect x="163.89" y="335.07" width="9.46" height="9.69" fill="#66c2a5"/><rect x="173.05" y="335.07" width="9.46" height="9.69" fill="#66c2a5"/><rect x="182.20" y="335.07" width="9.46" height="9.69" fill="#66c2a5"/><rect x="191.36" y="335.07" width="9.46" height="9.69" fill="#66c2a5"/><rect x="200.52" y="335.07" width="9.46" height="9.69" fill="#55afad"/><rect x="209.68" y="335.07" width="9.46" height="9.69" fill="#57acac"/><rect x="218.84" y="335.07" width="9.46" height="9.69" fill="#58aaac"/><rect x="26.50" y="344.45" width="9.46" height="9.69" fill="#f46d43"/><rect x="35.66" y="344.45" width="9.46" height="9.69" fill="#fbce96"/><rect x="44.82" y="344.45" width="9.46" height="9.69" fill="#ffffbf"/><rect x="53.98" y="344.45" width="9.46" height="9.69" fill="#ffffbf"/><rect x="63.14" y="344.45" width="9.46" height="9.69" fill="#ffffbf"/><rect x="72.30" y="344.45" width="9.46" height="9.69" fill="#ffffbf"/><rect x="81.45" y="344.45" width="9.46" height="9.69" fill="#ffffbf"/><rect x="90.61" y="344.45" width="9.46" height="9.69" fill="#9ac4be"/><rect x="99.77" y="344.45" width="9.46" height="9.69" fill="#3288bd"/><rect x="108.93" y="344.45" width="9.46" height="9.69" fill="#3288bd"/><rect x="118.09" y="344.45" width="9.46" height="9.69" fill="#3f96b7"/><rect x="127.25" y="344.45" width="9.46" height="9.69" fill="#4ca5b1"/><rect x="136.41" y="344.45" width="9.46" height="9.69" fill="#74c1a9"/><rect x="145.57" y="344.45" width="9.46" height="9.69" fill="#97d1ae"/><rect x="154.73" y="344.45" width="9.46" height="9.69" fill="#4ca5b1"/><rect x="163.89" y="344.45" width="9.46" height="9.69" fill="#3288bd"/><rect x="173.05" y="344.45" width="9.46" height="9.69" fill="#3288bd"/><rect x="182.20" y="344.45" width="9.46" height="9.69" fill="#3288bd"/><rect x="191.36" y="344.45" width="9.46" height="9.69" fill="#3288bd"/><rect x="200.52" y="344.45" width="9.46" height="9.69" fill="#4b93b1"/><rect x="209.68" y="344.45" width="9.46" height="9.69" fill="#4995b1"/><rect x="218.84" y="344.45" width="9.46" height="9.69" fill="#4d95b0"/><rect x="26.50" y="353.84" width="9.46" height="9.69" fill="#fbce96"/><rect x="35.66" y="353.84" width="9.46" height="9.69" fill="#ffffbf"/><rect x="44.82" y="353.84" width="9.46" height="9.69" fill="#ffffbf"/><rect x="53.98" y="353.84" width="9.46" height="9.69" fill="#ffffbf"/><rect x="63.14" y="353.84" width="9.46" height="9.69" fill="#ffffbf"/><rect x="72.30" y="353.84" width="9.46" height="9.69" fill="#ffffbf"/><rect x="81.45" y="353.84" width="9.46" height="9.69" fill="#99c4be"/><rect x="90.61" y="353.84" width="9.46" height="9.69" fill="#3288bd"/><rect x="99.77" y="353.84" width="9.46" height="9.69" fill="#3288bd"/><rect x="108.93" y="353.84" width="9.46" height="9.69" fill="#388fba"/><rect x="118.09" y="353.84" width="9.46" height="9.69" fill="#3f96b7"/><rect x="127.25" y="353.84" width="9.46" height="9.69" fill="#55aab0"/><rect x="136.41" y="353.84" width="9.46" height="9.69" fill="#69b7ae"/><rect x="145.57" y="353.84" width="9.46" height="9.69" fill="#4ca5b1"/><rect x="154.73" y="353.84" width="9.46" height="9.69" fill="#428ab5"/><rect x="163.89" y="353.84" width="9.46" height="9.69" fill="#4870b0"/><rect x="173.05" y="353.84" width="9.46" height="9.69" fill="#4870b0"/><rect x="182.20" y="353.84" width="9.46" height="9.69" fill="#4870b0"/><rect x="191.36" y="353.84" width="9.46" height="9.69" fill="#4870b0"/><rect x="200.52" y="353.84" width="9.46" height="9.69" fill="#3d7cb6"/><rect x="209.68" y="353.84" width="9.46" height="9.69" fill="#4580b2"/><rect x="218.84" y="353.84" width="9.46" height="9.69" fill="#4683b2"/><rect x="26.50" y="363.23" width="9.46" height="9.69" fill="#ffffbf"/><rect x="35.66" y="363.23" width="9.46" height="9.69" fill="#ffffbf"/><rect x="44.82" y="363.23" width="9.46" height="9.69" fill="#ffffbf"/><rect x="53.98" y="363.23" width="9.46" height="9.69" fill="#ffffbf"/><rect x="63.14" y="363.23" width="9.46" height="9.69" fill="#ffffbf"/><rect x="72.30" y="363.23" width="9.46" height="9.69" fill="#99c4be"/><rect x="81.45" y="363.23" width="9.46" height="9.69" fill="#3288bd"/><rect x="90.61" y="363.23" width="9.46" height="9.69" fill="#3288bd"/><rect x="99.77" y="363.23" width="9.46" height="9.69" fill="#358cbc"/><rect x="108.93" y="363.23" width="9.46" height="9.69" fill="#388fba"/><rect x="118.09" y="363.23" width="9.46" height="9.69" fill="#449ab6"/><rect x="127.25" y="363.23" width="9.46" height="9.69" fill="#52a7b2"/><rect x="136.41" y="363.23" width="9.46" height="9.69" fill="#4ca5b1"/><rect x="145.57" y="363.23" width="9.46" height="9.69" fill="#478ab2"/><rect x="154.73" y="363.23" width="9.46" height="9.69" fill="#4870b0"/><rect x="163.89" y="363.23" width="9.46" height="9.69" fill="#4870b0"/><rect x="173.05" y="363.23" width="9.46" height="9.69" fill="#4870b0"/><rect x="182.20" y="363.23" width="9.46" height="9.69" fill="#4870b0"/><rect x="191.36" y="363.23" width="9.46" height="9.69" fill="#4870b0"/><rect x="200.52" y="363.23" width="9.46" height="9.69" fill="#4870b0"/><rect x="209.68" y="363.23" width="9.46" height="9.69" fill="#4276b3"/><rect x="218.84" y="363.23" width="9.46" height="9.69" fill="#4577b2"/><rect x="26.50" y="372.61" width="9.46" height="9.69" fill="#ffffbf"/><rect x="35.66" y="372.61" width="9.46" height="9.69" fill="#ffffbf"/><rect x="44.82" y="372.61" width="9.46" height="9.69" fill="#ffffbf"/><rect x="53.98" y="372.61" width="9.46" height="9.69" fill="#ffffbf"/><rect x="63.14" y="372.61" width="9.46" height="9.69" fill="#b2d2be"/><rect x="72.30" y="372.61" width="9.46" height="9.69" fill="#3288bd"/><rect x="81.45" y="372.61" width="9.46" height="9.69" fill="#3288bd"/><rect x="90.61" y="372.61" width="9.46" height="9.69" fill="#348abc"/><rect x="99.77" y="372.61" width="9.46" height="9.69" fill="#358cbc"/><rect x="108.93" y="372.61" width="9.46" height="9.69" fill="#3b92b9"/><rect x="118.09" y="372.61" width="9.46" height="9.69" fill="#479db5"/><rect x="127.25" y="372.61" width="9.46" height="9.69" fill="#4ca5b1"/><rect x="136.41" y="372.61" width="9.46" height="9.69" fill="#498ab1"/><rect x="145.57" y="372.61" width="9.46" height="9.69" fill="#4870b0"/><rect x="154.73" y="372.61" width="9.46" height="9.69" fill="#4870b0"/><rect x="163.89" y="372.61" width="9.46" height="9.69" fill="#4870b0"/><rect x="173.05" y="372.61" width="9.46" height="9.69" fill="#4870b0"/><rect x="182.20" y="372.61" width="9.46" height="9.69" fill="#4870b0"/><rect x="191.36" y="372.61" width="9.46" height="9.69" fill="#4870b0"/><rect x="200.52" y="372.61" width="9.46" height="9.69" fill="#4870b0"/><rect x="209.68" y="372.61" width="9.46" height="9.69" fill="#4870b0"/><rect x="218.84" y="372.61" width="9.46" height="9.69" fill="#4573b2"/></g></g>
<rect x="75.9" y="186.2" width="3.70" height="3.70" fill="#ffffbf"/>
<rect x="83.3" y="189.9" width="10.40" height="3.90" fill="#66c2a5"/>
<rect x="93.7" y="190.5" width="6.30" height="3.30" fill="#ffffbf"/>
<rect x="61.7" y="204.5" width="3.30" height="3.30" fill="#66c2a5"/>
<rect x="65" y="241.3" width="3.50" height="3.70" fill="#abdda4"/>
<rect x="68.5" y="241.3" width="7.40" height="3.70" fill="#ffffbf"/>
<rect x="93.7" y="230" width="3.80" height="3.80" fill="#d53e4f"/>
<rect x="90" y="238.3" width="3.70" height="3.00" fill="#d53e4f"/>
<rect x="83.3" y="242" width="3.70" height="3.00" fill="#d53e4f"/>
<rect x="86.3" y="259.9" width="7.40" height="2.90" fill="#f46d43"/>
<rect x="65.5" y="296.6" width="3.70" height="14.90" fill="#5e4fa2"/>
<rect x="93.7" y="306.3" width="4.50" height="8.20" fill="#3288bd"/>
<rect x="119" y="344.5" width="14.40" height="3.80" fill="#5e4fa2"/>
<rect x="119.5" y="333.6" width="7.30" height="6.50" fill="#3288bd"/>
<rect x="169.3" y="363" width="25.40" height="4.10" fill="#4870b0"/>
<g clip-path="url(#pA)" fill="none"><ellipse cx="26.5" cy="278.75" rx="38.4" ry="36.2" stroke="#000" stroke-width="2.8"/><ellipse cx="26.5" cy="278.75" rx="73.8" ry="69.7" stroke="#e8141c" stroke-width="3"/></g>
<rect x="26.5" y="175.5" width="201.5" height="206.5" fill="none" stroke="#2e2e2e" stroke-width="1.45"/>
<path d="M26.5,175.5v-2.4M26.5,382.0v2.4M72.0,175.5v-2.4M72.0,382.0v2.4M117.5,175.5v-2.4M117.5,382.0v2.4M163.0,175.5v-2.4M163.0,382.0v2.4M208.5,175.5v-2.4M208.5,382.0v2.4M26.5,192.8h-2.4M228.0,192.8h2.4M26.5,235.8h-2.4M228.0,235.8h2.4M26.5,278.8h-2.4M228.0,278.8h2.4M26.5,321.8h-2.4M228.0,321.8h2.4M26.5,364.8h-2.4M228.0,364.8h2.4" stroke="#2e2e2e" stroke-width="1" fill="none"/>
<path d="M17.7,278.75h17.6M26.5,269.95v17.6" stroke="#000" stroke-width="3.2"/>
<rect x="265.5" y="175.5" width="201.5" height="206.5" fill="#808080"/>
<g clip-path="url(#mB)"><g filter="url(#blur)"><rect x="265.50" y="175.50" width="9.46" height="9.69" fill="#f46d43"/><rect x="274.66" y="175.50" width="9.46" height="9.69" fill="#f46d43"/><rect x="283.82" y="175.50" width="9.46" height="9.69" fill="#e95d47"/><rect x="292.98" y="175.50" width="9.46" height="9.69" fill="#d53e4f"/><rect x="302.14" y="175.50" width="9.46" height="9.69" fill="#d53e4f"/><rect x="311.30" y="175.50" width="9.46" height="9.69" fill="#da464d"/><rect x="320.45" y="175.50" width="9.46" height="9.69" fill="#e4544a"/><rect x="329.61" y="175.50" width="9.46" height="9.69" fill="#e4544a"/><rect x="338.77" y="175.50" width="9.46" height="9.69" fill="#e5564a"/><rect x="347.93" y="175.50" width="9.46" height="9.69" fill="#e75949"/><rect x="357.09" y="175.50" width="9.46" height="9.69" fill="#e85b49"/><rect x="366.25" y="175.50" width="9.46" height="9.69" fill="#ec6047"/><rect x="375.41" y="175.50" width="9.46" height="9.69" fill="#ed6346"/><rect x="384.57" y="175.50" width="9.46" height="9.69" fill="#e55649"/><rect x="393.73" y="175.50" width="9.46" height="9.69" fill="#d53e4f"/><rect x="402.89" y="175.50" width="9.46" height="9.69" fill="#d53e4f"/><rect x="412.05" y="175.50" width="9.46" height="9.69" fill="#d53e4f"/><rect x="421.20" y="175.50" width="9.46" height="9.69" fill="#d53e4f"/><rect x="430.36" y="175.50" width="9.46" height="9.69" fill="#d53e4f"/><rect x="439.52" y="175.50" width="9.46" height="9.69" fill="#d53e4f"/><rect x="448.68" y="175.50" width="9.46" height="9.69" fill="#d53e4f"/><rect x="457.84" y="175.50" width="9.46" height="9.69" fill="#e1936e"/><rect x="265.50" y="184.89" width="9.46" height="9.69" fill="#f46d43"/><rect x="274.66" y="184.89" width="9.46" height="9.69" fill="#f46d43"/><rect x="283.82" y="184.89" width="9.46" height="9.69" fill="#f46c43"/><rect x="292.98" y="184.89" width="9.46" height="9.69" fill="#e95d47"/><rect x="302.14" y="184.89" width="9.46" height="9.69" fill="#d53e4f"/><rect x="311.30" y="184.89" width="9.46" height="9.69" fill="#d53e4f"/><rect x="320.45" y="184.89" width="9.46" height="9.69" fill="#dc494d"/><rect x="329.61" y="184.89" width="9.46" height="9.69" fill="#e3534b"/><rect x="338.77" y="184.89" width="9.46" height="9.69" fill="#e3534b"/><rect x="347.93" y="184.89" width="9.46" height="9.69" fill="#e5564a"/><rect x="357.09" y="184.89" width="9.46" height="9.69" fill="#e95c48"/><rect x="366.25" y="184.89" width="9.46" height="9.69" fill="#eb5f47"/><rect x="375.41" y="184.89" width="9.46" height="9.69" fill="#f06745"/><rect x="384.57" y="184.89" width="9.46" height="9.69" fill="#ed6346"/><rect x="393.73" y="184.89" width="9.46" height="9.69" fill="#e1504a"/><rect x="402.89" y="184.89" width="9.46" height="9.69" fill="#d53e4f"/><rect x="412.05" y="184.89" width="9.46" height="9.69" fill="#d53e4f"/><rect x="421.20" y="184.89" width="9.46" height="9.69" fill="#d53e4f"/><rect x="430.36" y="184.89" width="9.46" height="9.69" fill="#d53e4f"/><rect x="439.52" y="184.89" width="9.46" height="9.69" fill="#d53e4f"/><rect x="448.68" y="184.89" width="9.46" height="9.69" fill="#e2916d"/><rect x="457.84" y="184.89" width="9.46" height="9.69" fill="#ecea90"/><rect x="265.50" y="194.27" width="9.46" height="9.69" fill="#f46d43"/><rect x="274.66" y="194.27" width="9.46" height="9.69" fill="#f46d43"/><rect x="283.82" y="194.27" width="9.46" height="9.69" fill="#f46d43"/><rect x="292.98" y="194.27" width="9.46" height="9.69" fill="#f36c43"/><rect x="302.14" y="194.27" width="9.46" height="9.69" fill="#e95c47"/><rect x="311.30" y="194.27" width="9.46" height="9.69" fill="#d53e4f"/><rect x="320.45" y="194.27" width="9.46" height="9.69" fill="#d53e4f"/><rect x="329.61" y="194.27" width="9.46" height="9.69" fill="#db474d"/><rect x="338.77" y="194.27" width="9.46" height="9.69" fill="#e2514b"/><rect x="347.93" y="194.27" width="9.46" height="9.69" fill="#e1504b"/><rect x="357.09" y="194.27" width="9.46" height="9.69" fill="#e5564a"/><rect x="366.25" y="194.27" width="9.46" height="9.69" fill="#ec6246"/><rect x="375.41" y="194.27" width="9.46" height="9.69" fill="#ef6545"/><rect x="384.57" y="194.27" width="9.46" height="9.69" fill="#f46d43"/><rect x="393.73" y="194.27" width="9.46" height="9.69" fill="#e45649"/><rect x="402.89" y="194.27" width="9.46" height="9.69" fill="#d53e4f"/><rect x="412.05" y="194.27" width="9.46" height="9.69" fill="#d53e4f"/><rect x="421.20" y="194.27" width="9.46" height="9.69" fill="#d53e4f"/><rect x="430.36" y="194.27" width="9.46" height="9.69" fill="#d53e4f"/><rect x="439.52" y="194.27" width="9.46" height="9.69" fill="#e78763"/><rect x="448.68" y="194.27" width="9.46" height="9.69" fill="#f2de87"/><rect x="457.84" y="194.27" width="9.46" height="9.69" fill="#e6f598"/><rect x="265.50" y="203.66" width="9.46" height="9.69" fill="#f46d43"/><rect x="274.66" y="203.66" width="9.46" height="9.69" fill="#f46d43"/><rect x="283.82" y="203.66" width="9.46" height="9.69" fill="#f46d43"/><rect x="292.98" y="203.66" width="9.46" height="9.69" fill="#f46d43"/><rect x="302.14" y="203.66" width="9.46" height="9.69" fill="#f26a44"/><rect x="311.30" y="203.66" width="9.46" height="9.69" fill="#e85a48"/><rect x="320.45" y="203.66" width="9.46" height="9.69" fill="#d53e4f"/><rect x="329.61" y="203.66" width="9.46" height="9.69" fill="#d53e4f"/><rect x="338.77" y="203.66" width="9.46" height="9.69" fill="#da454d"/><rect x="347.93" y="203.66" width="9.46" height="9.69" fill="#df4d4c"/><rect x="357.09" y="203.66" width="9.46" height="9.69" fill="#dd4a4c"/><rect x="366.25" y="203.66" width="9.46" height="9.69" fill="#e5564a"/><rect x="375.41" y="203.66" width="9.46" height="9.69" fill="#f46d43"/><rect x="384.57" y="203.66" width="9.46" height="9.69" fill="#f46d43"/><rect x="393.73" y="203.66" width="9.46" height="9.69" fill="#db474d"/><rect x="402.89" y="203.66" width="9.46" height="9.69" fill="#d53e4f"/><rect x="412.05" y="203.66" width="9.46" height="9.69" fill="#d53e4f"/><rect x="421.20" y="203.66" width="9.46" height="9.69" fill="#e5564a"/><rect x="430.36" y="203.66" width="9.46" height="9.69" fill="#f46d43"/><rect x="439.52" y="203.66" width="9.46" height="9.69" fill="#fdc776"/><rect x="448.68" y="203.66" width="9.46" height="9.69" fill="#e6f598"/><rect x="457.84" y="203.66" width="9.46" height="9.69" fill="#e6f598"/><rect x="265.50" y="213.05" width="9.46" height="9.69" fill="#f78a54"/><rect x="274.66" y="213.05" width="9.46" height="9.69" fill="#f46d43"/><rect x="283.82" y="213.05" width="9.46" height="9.69" fill="#f46d43"/><rect x="292.98" y="213.05" width="9.46" height="9.69" fill="#f46d43"/><rect x="302.14" y="213.05" width="9.46" height="9.69" fill="#f46d43"/><rect x="311.30" y="213.05" width="9.46" height="9.69" fill="#f06744"/><rect x="320.45" y="213.05" width="9.46" height="9.69" fill="#e65848"/><rect x="329.61" y="213.05" width="9.46" height="9.69" fill="#d53e4f"/><rect x="338.77" y="213.05" width="9.46" height="9.69" fill="#d53e4f"/><rect x="347.93" y="213.05" width="9.46" height="9.69" fill="#d8424e"/><rect x="357.09" y="213.05" width="9.46" height="9.69" fill="#da464d"/><rect x="366.25" y="213.05" width="9.46" height="9.69" fill="#d53e4f"/><rect x="375.41" y="213.05" width="9.46" height="9.69" fill="#d53e4f"/><rect x="384.57" y="213.05" width="9.46" height="9.69" fill="#d53e4f"/><rect x="393.73" y="213.05" width="9.46" height="9.69" fill="#d53e4f"/><rect x="402.89" y="213.05" width="9.46" height="9.69" fill="#d53e4f"/><rect x="412.05" y="213.05" width="9.46" height="9.69" fill="#d53e4f"/><rect x="421.20" y="213.05" width="9.46" height="9.69" fill="#e5564a"/><rect x="430.36" y="213.05" width="9.46" height="9.69" fill="#f46d43"/><rect x="439.52" y="213.05" width="9.46" height="9.69" fill="#fdae61"/><rect x="448.68" y="213.05" width="9.46" height="9.69" fill="#e6f598"/><rect x="457.84" y="213.05" width="9.46" height="9.69" fill="#bbe49c"/><rect x="265.50" y="222.43" width="9.46" height="9.69" fill="#fdb96f"/><rect x="274.66" y="222.43" width="9.46" height="9.69" fill="#f8935a"/><rect x="283.82" y="222.43" width="9.46" height="9.69" fill="#f36c43"/><rect x="292.98" y="222.43" width="9.46" height="9.69" fill="#f46c43"/><rect x="302.14" y="222.43" width="9.46" height="9.69" fill="#f46d43"/><rect x="311.30" y="222.43" width="9.46" height="9.69" fill="#f46d43"/><rect x="320.45" y="222.43" width="9.46" height="9.69" fill="#ec6146"/><rect x="329.61" y="222.43" width="9.46" height="9.69" fill="#e3534a"/><rect x="338.77" y="222.43" width="9.46" height="9.69" fill="#d53e4f"/><rect x="347.93" y="222.43" width="9.46" height="9.69" fill="#d53e4f"/><rect x="357.09" y="222.43" width="9.46" height="9.69" fill="#d53e4f"/><rect x="366.25" y="222.43" width="9.46" height="9.69" fill="#d53e4f"/><rect x="375.41" y="222.43" width="9.46" height="9.69" fill="#d53e4f"/><rect x="384.57" y="222.43" width="9.46" height="9.69" fill="#b81e4a"/><rect x="393.73" y="222.43" width="9.46" height="9.69" fill="#b81e4a"/><rect x="402.89" y="222.43" width="9.46" height="9.69" fill="#d53e4f"/><rect x="412.05" y="222.43" width="9.46" height="9.69" fill="#e5564a"/><rect x="421.20" y="222.43" width="9.46" height="9.69" fill="#f46d43"/><rect x="430.36" y="222.43" width="9.46" height="9.69" fill="#fdae61"/><rect x="439.52" y="222.43" width="9.46" height="9.69" fill="#ffffbf"/><rect x="448.68" y="222.43" width="9.46" height="9.69" fill="#66c2a5"/><rect x="457.84" y="222.43" width="9.46" height="9.69" fill="#88c9a5"/><rect x="265.50" y="231.82" width="9.46" height="9.69" fill="#fdb86d"/><rect x="274.66" y="231.82" width="9.46" height="9.69" fill="#fdbb71"/><rect x="283.82" y="231.82" width="9.46" height="9.69" fill="#f8945d"/><rect x="292.98" y="231.82" width="9.46" height="9.69" fill="#f26a44"/><rect x="302.14" y="231.82" width="9.46" height="9.69" fill="#f36b43"/><rect x="311.30" y="231.82" width="9.46" height="9.69" fill="#f46d43"/><rect x="320.45" y="231.82" width="9.46" height="9.69" fill="#f46d43"/><rect x="329.61" y="231.82" width="9.46" height="9.69" fill="#e45649"/><rect x="338.77" y="231.82" width="9.46" height="9.69" fill="#dd4a4c"/><rect x="347.93" y="231.82" width="9.46" height="9.69" fill="#d53e4f"/><rect x="357.09" y="231.82" width="9.46" height="9.69" fill="#d53e4f"/><rect x="366.25" y="231.82" width="9.46" height="9.69" fill="#d53e4f"/><rect x="375.41" y="231.82" width="9.46" height="9.69" fill="#d53e4f"/><rect x="384.57" y="231.82" width="9.46" height="9.69" fill="#d53e4f"/><rect x="393.73" y="231.82" width="9.46" height="9.69" fill="#d53e4f"/><rect x="402.89" y="231.82" width="9.46" height="9.69" fill="#e5564a"/><rect x="412.05" y="231.82" width="9.46" height="9.69" fill="#f46d43"/><rect x="421.20" y="231.82" width="9.46" height="9.69" fill="#f98e52"/><rect x="430.36" y="231.82" width="9.46" height="9.69" fill="#fee08b"/><rect x="439.52" y="231.82" width="9.46" height="9.69" fill="#e6f598"/><rect x="448.68" y="231.82" width="9.46" height="9.69" fill="#4ca5b1"/><rect x="457.84" y="231.82" width="9.46" height="9.69" fill="#539dad"/><rect x="265.50" y="241.20" width="9.46" height="9.69" fill="#fdb66a"/><rect x="274.66" y="241.20" width="9.46" height="9.69" fill="#fdba70"/><rect x="283.82" y="241.20" width="9.46" height="9.69" fill="#fdc078"/><rect x="292.98" y="241.20" width="9.46" height="9.69" fill="#f69561"/><rect x="302.14" y="241.20" width="9.46" height="9.69" fill="#ef6645"/><rect x="311.30" y="241.20" width="9.46" height="9.69" fill="#f16844"/><rect x="320.45" y="241.20" width="9.46" height="9.69" fill="#f46d43"/><rect x="329.61" y="241.20" width="9.46" height="9.69" fill="#f46d43"/><rect x="338.77" y="241.20" width="9.46" height="9.69" fill="#d53e4f"/><rect x="347.93" y="241.20" width="9.46" height="9.69" fill="#d53e4f"/><rect x="357.09" y="241.20" width="9.46" height="9.69" fill="#d53e4f"/><rect x="366.25" y="241.20" width="9.46" height="9.69" fill="#d53e4f"/><rect x="375.41" y="241.20" width="9.46" height="9.69" fill="#d53e4f"/><rect x="384.57" y="241.20" width="9.46" height="9.69" fill="#d53e4f"/><rect x="393.73" y="241.20" width="9.46" height="9.69" fill="#e5564a"/><rect x="402.89" y="241.20" width="9.46" height="9.69" fill="#f46d43"/><rect x="412.05" y="241.20" width="9.46" height="9.69" fill="#fdae61"/><rect x="421.20" y="241.20" width="9.46" height="9.69" fill="#fef0a5"/><rect x="430.36" y="241.20" width="9.46" height="9.69" fill="#88cfa4"/><rect x="439.52" y="241.20" width="9.46" height="9.69" fill="#3288bd"/><rect x="448.68" y="241.20" width="9.46" height="9.69" fill="#4870b0"/><rect x="457.84" y="241.20" width="9.46" height="9.69" fill="#546da9"/><rect x="265.50" y="250.59" width="9.46" height="9.69" fill="#fdb266"/><rect x="274.66" y="250.59" width="9.46" height="9.69" fill="#fdb86d"/><rect x="283.82" y="250.59" width="9.46" height="9.69" fill="#fec47b"/><rect x="292.98" y="250.59" width="9.46" height="9.69" fill="#fbc481"/><rect x="302.14" y="250.59" width="9.46" height="9.69" fill="#f28e63"/><rect x="311.30" y="250.59" width="9.46" height="9.69" fill="#ea5d47"/><rect x="320.45" y="250.59" width="9.46" height="9.69" fill="#ea5d47"/><rect x="329.61" y="250.59" width="9.46" height="9.69" fill="#f46d43"/><rect x="338.77" y="250.59" width="9.46" height="9.69" fill="#d53e4f"/><rect x="347.93" y="250.59" width="9.46" height="9.69" fill="#d53e4f"/><rect x="357.09" y="250.59" width="9.46" height="9.69" fill="#d53e4f"/><rect x="366.25" y="250.59" width="9.46" height="9.69" fill="#d53e4f"/><rect x="375.41" y="250.59" width="9.46" height="9.69" fill="#e5564a"/><rect x="384.57" y="250.59" width="9.46" height="9.69" fill="#e5564a"/><rect x="393.73" y="250.59" width="9.46" height="9.69" fill="#f46d43"/><rect x="402.89" y="250.59" width="9.46" height="9.69" fill="#f98e52"/><rect x="412.05" y="250.59" width="9.46" height="9.69" fill="#fee08b"/><rect x="421.20" y="250.59" width="9.46" height="9.69" fill="#e6f598"/><rect x="430.36" y="250.59" width="9.46" height="9.69" fill="#4ca5b1"/><rect x="439.52" y="250.59" width="9.46" height="9.69" fill="#3288bd"/><rect x="448.68" y="250.59" width="9.46" height="9.69" fill="#5e4fa2"/><rect x="457.84" y="250.59" width="9.46" height="9.69" fill="#5e4fa2"/><rect x="265.50" y="259.98" width="9.46" height="9.69" fill="#fdae61"/><rect x="274.66" y="259.98" width="9.46" height="9.69" fill="#fdb76b"/><rect x="283.82" y="259.98" width="9.46" height="9.69" fill="#fec47b"/><rect x="292.98" y="259.98" width="9.46" height="9.69" fill="#fed28b"/><rect x="302.14" y="259.98" width="9.46" height="9.69" fill="#f7b67d"/><rect x="311.30" y="259.98" width="9.46" height="9.69" fill="#ea775c"/><rect x="320.45" y="259.98" width="9.46" height="9.69" fill="#df4e4b"/><rect x="329.61" y="259.98" width="9.46" height="9.69" fill="#d53e4f"/><rect x="338.77" y="259.98" width="9.46" height="9.69" fill="#e5564a"/><rect x="347.93" y="259.98" width="9.46" height="9.69" fill="#e5564a"/><rect x="357.09" y="259.98" width="9.46" height="9.69" fill="#e5564a"/><rect x="366.25" y="259.98" width="9.46" height="9.69" fill="#f46d43"/><rect x="375.41" y="259.98" width="9.46" height="9.69" fill="#f46d43"/><rect x="384.57" y="259.98" width="9.46" height="9.69" fill="#f46d43"/><rect x="393.73" y="259.98" width="9.46" height="9.69" fill="#f98e52"/><rect x="402.89" y="259.98" width="9.46" height="9.69" fill="#f98e52"/><rect x="412.05" y="259.98" width="9.46" height="9.69" fill="#fdc776"/><rect x="421.20" y="259.98" width="9.46" height="9.69" fill="#ffffbf"/><rect x="430.36" y="259.98" width="9.46" height="9.69" fill="#66c2a5"/><rect x="439.52" y="259.98" width="9.46" height="9.69" fill="#3288bd"/><rect x="448.68" y="259.98" width="9.46" height="9.69" fill="#5e4fa2"/><rect x="457.84" y="259.98" width="9.46" height="9.69" fill="#5e4fa2"/><rect x="265.50" y="269.36" width="9.46" height="9.69" fill="#fdae61"/><rect x="274.66" y="269.36" width="9.46" height="9.69" fill="#fdae61"/><rect x="283.82" y="269.36" width="9.46" height="9.69" fill="#fec980"/><rect x="292.98" y="269.36" width="9.46" height="9.69" fill="#fed690"/><rect x="302.14" y="269.36" width="9.46" height="9.69" fill="#fed690"/><rect x="311.30" y="269.36" width="9.46" height="9.69" fill="#e97658"/><rect x="320.45" y="269.36" width="9.46" height="9.69" fill="#e35e50"/><rect x="329.61" y="269.36" width="9.46" height="9.69" fill="#d53e4f"/><rect x="338.77" y="269.36" width="9.46" height="9.69" fill="#e5564a"/><rect x="347.93" y="269.36" width="9.46" height="9.69" fill="#f46d43"/><rect x="357.09" y="269.36" width="9.46" height="9.69" fill="#f46d43"/><rect x="366.25" y="269.36" width="9.46" height="9.69" fill="#f46d43"/><rect x="375.41" y="269.36" width="9.46" height="9.69" fill="#f46d43"/><rect x="384.57" y="269.36" width="9.46" height="9.69" fill="#f98e52"/><rect x="393.73" y="269.36" width="9.46" height="9.69" fill="#fdae61"/><rect x="402.89" y="269.36" width="9.46" height="9.69" fill="#fdc776"/><rect x="412.05" y="269.36" width="9.46" height="9.69" fill="#ffffbf"/><rect x="421.20" y="269.36" width="9.46" height="9.69" fill="#abdda4"/><rect x="430.36" y="269.36" width="9.46" height="9.69" fill="#66c2a5"/><rect x="439.52" y="269.36" width="9.46" height="9.69" fill="#4870b0"/><rect x="448.68" y="269.36" width="9.46" height="9.69" fill="#5e4fa2"/><rect x="457.84" y="269.36" width="9.46" height="9.69" fill="#4870b0"/><rect x="265.50" y="278.75" width="9.46" height="9.69" fill="#fed690"/><rect x="274.66" y="278.75" width="9.46" height="9.69" fill="#fdae61"/><rect x="283.82" y="278.75" width="9.46" height="9.69" fill="#fdae61"/><rect x="292.98" y="278.75" width="9.46" height="9.69" fill="#ffffbf"/><rect x="302.14" y="278.75" width="9.46" height="9.69" fill="#fee9a2"/><rect x="311.30" y="278.75" width="9.46" height="9.69" fill="#fdae61"/><rect x="320.45" y="278.75" width="9.46" height="9.69" fill="#d53e4f"/><rect x="329.61" y="278.75" width="9.46" height="9.69" fill="#f46d43"/><rect x="338.77" y="278.75" width="9.46" height="9.69" fill="#f46d43"/><rect x="347.93" y="278.75" width="9.46" height="9.69" fill="#f46d43"/><rect x="357.09" y="278.75" width="9.46" height="9.69" fill="#f98e52"/><rect x="366.25" y="278.75" width="9.46" height="9.69" fill="#f98e52"/><rect x="375.41" y="278.75" width="9.46" height="9.69" fill="#fdae61"/><rect x="384.57" y="278.75" width="9.46" height="9.69" fill="#fdae61"/><rect x="393.73" y="278.75" width="9.46" height="9.69" fill="#fef0a5"/><rect x="402.89" y="278.75" width="9.46" height="9.69" fill="#88cfa4"/><rect x="412.05" y="278.75" width="9.46" height="9.69" fill="#abdda4"/><rect x="421.20" y="278.75" width="9.46" height="9.69" fill="#66c2a5"/><rect x="430.36" y="278.75" width="9.46" height="9.69" fill="#4ca5b1"/><rect x="439.52" y="278.75" width="9.46" height="9.69" fill="#5e4fa2"/><rect x="448.68" y="278.75" width="9.46" height="9.69" fill="#5e4fa2"/><rect x="457.84" y="278.75" width="9.46" height="9.69" fill="#66c2a5"/><rect x="265.50" y="288.14" width="9.46" height="9.69" fill="#f8e89e"/><rect x="274.66" y="288.14" width="9.46" height="9.69" fill="#ffffbf"/><rect x="283.82" y="288.14" width="9.46" height="9.69" fill="#ffffbf"/><rect x="292.98" y="288.14" width="9.46" height="9.69" fill="#ffffbf"/><rect x="302.14" y="288.14" width="9.46" height="9.69" fill="#ffffbf"/><rect x="311.30" y="288.14" width="9.46" height="9.69" fill="#fee08b"/><rect x="320.45" y="288.14" width="9.46" height="9.69" fill="#fdae61"/><rect x="329.61" y="288.14" width="9.46" height="9.69" fill="#f98e52"/><rect x="338.77" y="288.14" width="9.46" height="9.69" fill="#fdae61"/><rect x="347.93" y="288.14" width="9.46" height="9.69" fill="#fdc776"/><rect x="357.09" y="288.14" width="9.46" height="9.69" fill="#ffffbf"/><rect x="366.25" y="288.14" width="9.46" height="9.69" fill="#ffffbf"/><rect x="375.41" y="288.14" width="9.46" height="9.69" fill="#ffffbf"/><rect x="384.57" y="288.14" width="9.46" height="9.69" fill="#fee08b"/><rect x="393.73" y="288.14" width="9.46" height="9.69" fill="#ffffbf"/><rect x="402.89" y="288.14" width="9.46" height="9.69" fill="#66c2a5"/><rect x="412.05" y="288.14" width="9.46" height="9.69" fill="#88cfa4"/><rect x="421.20" y="288.14" width="9.46" height="9.69" fill="#88cfa4"/><rect x="430.36" y="288.14" width="9.46" height="9.69" fill="#3288bd"/><rect x="439.52" y="288.14" width="9.46" height="9.69" fill="#4870b0"/><rect x="448.68" y="288.14" width="9.46" height="9.69" fill="#4870b0"/><rect x="457.84" y="288.14" width="9.46" height="9.69" fill="#66c2a5"/><rect x="265.50" y="297.52" width="9.46" height="9.69" fill="#ffffbf"/><rect x="274.66" y="297.52" width="9.46" height="9.69" fill="#e6f598"/><rect x="283.82" y="297.52" width="9.46" height="9.69" fill="#abdda4"/><rect x="292.98" y="297.52" width="9.46" height="9.69" fill="#e6f598"/><rect x="302.14" y="297.52" width="9.46" height="9.69" fill="#ffffbf"/><rect x="311.30" y="297.52" width="9.46" height="9.69" fill="#ffffbf"/><rect x="320.45" y="297.52" width="9.46" height="9.69" fill="#fee08b"/><rect x="329.61" y="297.52" width="9.46" height="9.69" fill="#fdae61"/><rect x="338.77" y="297.52" width="9.46" height="9.69" fill="#fdae61"/><rect x="347.93" y="297.52" width="9.46" height="9.69" fill="#fee08b"/><rect x="357.09" y="297.52" width="9.46" height="9.69" fill="#ffffbf"/><rect x="366.25" y="297.52" width="9.46" height="9.69" fill="#88cfa4"/><rect x="375.41" y="297.52" width="9.46" height="9.69" fill="#ffffbf"/><rect x="384.57" y="297.52" width="9.46" height="9.69" fill="#ffffbf"/><rect x="393.73" y="297.52" width="9.46" height="9.69" fill="#e6f598"/><rect x="402.89" y="297.52" width="9.46" height="9.69" fill="#66c2a5"/><rect x="412.05" y="297.52" width="9.46" height="9.69" fill="#66c2a5"/><rect x="421.20" y="297.52" width="9.46" height="9.69" fill="#66c2a5"/><rect x="430.36" y="297.52" width="9.46" height="9.69" fill="#3288bd"/><rect x="439.52" y="297.52" width="9.46" height="9.69" fill="#3288bd"/><rect x="448.68" y="297.52" width="9.46" height="9.69" fill="#4870b0"/><rect x="457.84" y="297.52" width="9.46" height="9.69" fill="#3288bd"/><rect x="265.50" y="306.91" width="9.46" height="9.69" fill="#b0d6ae"/><rect x="274.66" y="306.91" width="9.46" height="9.69" fill="#abdda4"/><rect x="283.82" y="306.91" width="9.46" height="9.69" fill="#abdda4"/><rect x="292.98" y="306.91" width="9.46" height="9.69" fill="#ffffbf"/><rect x="302.14" y="306.91" width="9.46" height="9.69" fill="#ffffbf"/><rect x="311.30" y="306.91" width="9.46" height="9.69" fill="#ffffbf"/><rect x="320.45" y="306.91" width="9.46" height="9.69" fill="#ffffbf"/><rect x="329.61" y="306.91" width="9.46" height="9.69" fill="#fdc776"/><rect x="338.77" y="306.91" width="9.46" height="9.69" fill="#fdae61"/><rect x="347.93" y="306.91" width="9.46" height="9.69" fill="#fee08b"/><rect x="357.09" y="306.91" width="9.46" height="9.69" fill="#c8e99e"/><rect x="366.25" y="306.91" width="9.46" height="9.69" fill="#66c2a5"/><rect x="375.41" y="306.91" width="9.46" height="9.69" fill="#88cfa4"/><rect x="384.57" y="306.91" width="9.46" height="9.69" fill="#ffffbf"/><rect x="393.73" y="306.91" width="9.46" height="9.69" fill="#c8e99e"/><rect x="402.89" y="306.91" width="9.46" height="9.69" fill="#66c2a5"/><rect x="412.05" y="306.91" width="9.46" height="9.69" fill="#4ca5b1"/><rect x="421.20" y="306.91" width="9.46" height="9.69" fill="#66c2a5"/><rect x="430.36" y="306.91" width="9.46" height="9.69" fill="#51abaf"/><rect x="439.52" y="306.91" width="9.46" height="9.69" fill="#486cb0"/><rect x="448.68" y="306.91" width="9.46" height="9.69" fill="#5e4fa2"/><rect x="457.84" y="306.91" width="9.46" height="9.69" fill="#4e66ac"/><rect x="265.50" y="316.30" width="9.46" height="9.69" fill="#5aa4b5"/><rect x="274.66" y="316.30" width="9.46" height="9.69" fill="#3288bd"/><rect x="283.82" y="316.30" width="9.46" height="9.69" fill="#99d0ad"/><rect x="292.98" y="316.30" width="9.46" height="9.69" fill="#abdda4"/><rect x="302.14" y="316.30" width="9.46" height="9.69" fill="#66c2a5"/><rect x="311.30" y="316.30" width="9.46" height="9.69" fill="#66c2a5"/><rect x="320.45" y="316.30" width="9.46" height="9.69" fill="#abdda4"/><rect x="329.61" y="316.30" width="9.46" height="9.69" fill="#fee08b"/><rect x="338.77" y="316.30" width="9.46" height="9.69" fill="#fee08b"/><rect x="347.93" y="316.30" width="9.46" height="9.69" fill="#fee08b"/><rect x="357.09" y="316.30" width="9.46" height="9.69" fill="#88cfa4"/><rect x="366.25" y="316.30" width="9.46" height="9.69" fill="#66c2a5"/><rect x="375.41" y="316.30" width="9.46" height="9.69" fill="#66c2a5"/><rect x="384.57" y="316.30" width="9.46" height="9.69" fill="#e6f598"/><rect x="393.73" y="316.30" width="9.46" height="9.69" fill="#66c2a5"/><rect x="402.89" y="316.30" width="9.46" height="9.69" fill="#66c2a5"/><rect x="412.05" y="316.30" width="9.46" height="9.69" fill="#66c2a5"/><rect x="421.20" y="316.30" width="9.46" height="9.69" fill="#66c2a5"/><rect x="430.36" y="316.30" width="9.46" height="9.69" fill="#7dcba5"/><rect x="439.52" y="316.30" width="9.46" height="9.69" fill="#5e4fa2"/><rect x="448.68" y="316.30" width="9.46" height="9.69" fill="#5e4fa2"/><rect x="457.84" y="316.30" width="9.46" height="9.69" fill="#5e4fa2"/><rect x="265.50" y="325.68" width="9.46" height="9.69" fill="#3288bd"/><rect x="274.66" y="325.68" width="9.46" height="9.69" fill="#76b0be"/><rect x="283.82" y="325.68" width="9.46" height="9.69" fill="#96cdaf"/><rect x="292.98" y="325.68" width="9.46" height="9.69" fill="#66c2a5"/><rect x="302.14" y="325.68" width="9.46" height="9.69" fill="#66c2a5"/><rect x="311.30" y="325.68" width="9.46" height="9.69" fill="#66c2a5"/><rect x="320.45" y="325.68" width="9.46" height="9.69" fill="#abdda4"/><rect x="329.61" y="325.68" width="9.46" height="9.69" fill="#ffffbf"/><rect x="338.77" y="325.68" width="9.46" height="9.69" fill="#fee08b"/><rect x="347.93" y="325.68" width="9.46" height="9.69" fill="#fef0a5"/><rect x="357.09" y="325.68" width="9.46" height="9.69" fill="#88cfa4"/><rect x="366.25" y="325.68" width="9.46" height="9.69" fill="#88cfa4"/><rect x="375.41" y="325.68" width="9.46" height="9.69" fill="#88cfa4"/><rect x="384.57" y="325.68" width="9.46" height="9.69" fill="#ffffbf"/><rect x="393.73" y="325.68" width="9.46" height="9.69" fill="#66c2a5"/><rect x="402.89" y="325.68" width="9.46" height="9.69" fill="#4ca5b1"/><rect x="412.05" y="325.68" width="9.46" height="9.69" fill="#4ca5b1"/><rect x="421.20" y="325.68" width="9.46" height="9.69" fill="#abdda4"/><rect x="430.36" y="325.68" width="9.46" height="9.69" fill="#b0dfad"/><rect x="439.52" y="325.68" width="9.46" height="9.69" fill="#5e4fa2"/><rect x="448.68" y="325.68" width="9.46" height="9.69" fill="#5e4fa2"/><rect x="457.84" y="325.68" width="9.46" height="9.69" fill="#5e4fa2"/><rect x="265.50" y="335.07" width="9.46" height="9.69" fill="#989b8f"/><rect x="274.66" y="335.07" width="9.46" height="9.69" fill="#babc9f"/><rect x="283.82" y="335.07" width="9.46" height="9.69" fill="#ffffbf"/><rect x="292.98" y="335.07" width="9.46" height="9.69" fill="#abdda4"/><rect x="302.14" y="335.07" width="9.46" height="9.69" fill="#66c2a5"/><rect x="311.30" y="335.07" width="9.46" height="9.69" fill="#66c2a5"/><rect x="320.45" y="335.07" width="9.46" height="9.69" fill="#66c2a5"/><rect x="329.61" y="335.07" width="9.46" height="9.69" fill="#e6f598"/><rect x="338.77" y="335.07" width="9.46" height="9.69" fill="#e6f598"/><rect x="347.93" y="335.07" width="9.46" height="9.69" fill="#88cfa4"/><rect x="357.09" y="335.07" width="9.46" height="9.69" fill="#88cfa4"/><rect x="366.25" y="335.07" width="9.46" height="9.69" fill="#88cfa4"/><rect x="375.41" y="335.07" width="9.46" height="9.69" fill="#88cfa4"/><rect x="384.57" y="335.07" width="9.46" height="9.69" fill="#e6f598"/><rect x="393.73" y="335.07" width="9.46" height="9.69" fill="#3288bd"/><rect x="402.89" y="335.07" width="9.46" height="9.69" fill="#4ca5b1"/><rect x="412.05" y="335.07" width="9.46" height="9.69" fill="#66c2a5"/><rect x="421.20" y="335.07" width="9.46" height="9.69" fill="#ffffbf"/><rect x="430.36" y="335.07" width="9.46" height="9.69" fill="#e3f4b6"/><rect x="439.52" y="335.07" width="9.46" height="9.69" fill="#5e4fa2"/><rect x="448.68" y="335.07" width="9.46" height="9.69" fill="#5e4fa2"/><rect x="457.84" y="335.07" width="9.46" height="9.69" fill="#5e4fa2"/><rect x="265.50" y="344.45" width="9.46" height="9.69" fill="#fdae61"/><rect x="274.66" y="344.45" width="9.46" height="9.69" fill="#fdae61"/><rect x="283.82" y="344.45" width="9.46" height="9.69" fill="#e9ce89"/><rect x="292.98" y="344.45" width="9.46" height="9.69" fill="#b0dfad"/><rect x="302.14" y="344.45" width="9.46" height="9.69" fill="#7dcba5"/><rect x="311.30" y="344.45" width="9.46" height="9.69" fill="#66c2a5"/><rect x="320.45" y="344.45" width="9.46" height="9.69" fill="#66c2a5"/><rect x="329.61" y="344.45" width="9.46" height="9.69" fill="#66c2a5"/><rect x="338.77" y="344.45" width="9.46" height="9.69" fill="#66c2a5"/><rect x="347.93" y="344.45" width="9.46" height="9.69" fill="#66c2a5"/><rect x="357.09" y="344.45" width="9.46" height="9.69" fill="#88cfa4"/><rect x="366.25" y="344.45" width="9.46" height="9.69" fill="#88cfa4"/><rect x="375.41" y="344.45" width="9.46" height="9.69" fill="#88cfa4"/><rect x="384.57" y="344.45" width="9.46" height="9.69" fill="#66c2a5"/><rect x="393.73" y="344.45" width="9.46" height="9.69" fill="#3288bd"/><rect x="402.89" y="344.45" width="9.46" height="9.69" fill="#4ca5b1"/><rect x="412.05" y="344.45" width="9.46" height="9.69" fill="#66c2a5"/><rect x="421.20" y="344.45" width="9.46" height="9.69" fill="#ffffbf"/><rect x="430.36" y="344.45" width="9.46" height="9.69" fill="#ffffbf"/><rect x="439.52" y="344.45" width="9.46" height="9.69" fill="#b9b6b2"/><rect x="448.68" y="344.45" width="9.46" height="9.69" fill="#5e4fa2"/><rect x="457.84" y="344.45" width="9.46" height="9.69" fill="#5e4fa2"/><rect x="265.50" y="353.84" width="9.46" height="9.69" fill="#fdae61"/><rect x="274.66" y="353.84" width="9.46" height="9.69" fill="#fdae61"/><rect x="283.82" y="353.84" width="9.46" height="9.69" fill="#fdae61"/><rect x="292.98" y="353.84" width="9.46" height="9.69" fill="#d0c486"/><rect x="302.14" y="353.84" width="9.46" height="9.69" fill="#79caa7"/><rect x="311.30" y="353.84" width="9.46" height="9.69" fill="#66c2a5"/><rect x="320.45" y="353.84" width="9.46" height="9.69" fill="#66c2a5"/><rect x="329.61" y="353.84" width="9.46" height="9.69" fill="#66c2a5"/><rect x="338.77" y="353.84" width="9.46" height="9.69" fill="#66c2a5"/><rect x="347.93" y="353.84" width="9.46" height="9.69" fill="#66c2a5"/><rect x="357.09" y="353.84" width="9.46" height="9.69" fill="#abdda4"/><rect x="366.25" y="353.84" width="9.46" height="9.69" fill="#abdda4"/><rect x="375.41" y="353.84" width="9.46" height="9.69" fill="#81cda4"/><rect x="384.57" y="353.84" width="9.46" height="9.69" fill="#66c2a5"/><rect x="393.73" y="353.84" width="9.46" height="9.69" fill="#66c2a5"/><rect x="402.89" y="353.84" width="9.46" height="9.69" fill="#66c2a5"/><rect x="412.05" y="353.84" width="9.46" height="9.69" fill="#abdda4"/><rect x="421.20" y="353.84" width="9.46" height="9.69" fill="#ffffbf"/><rect x="430.36" y="353.84" width="9.46" height="9.69" fill="#ffffbf"/><rect x="439.52" y="353.84" width="9.46" height="9.69" fill="#ffffbf"/><rect x="448.68" y="353.84" width="9.46" height="9.69" fill="#b1aab1"/><rect x="457.84" y="353.84" width="9.46" height="9.69" fill="#5e4fa2"/><rect x="265.50" y="363.23" width="9.46" height="9.69" fill="#fdae61"/><rect x="274.66" y="363.23" width="9.46" height="9.69" fill="#fdae61"/><rect x="283.82" y="363.23" width="9.46" height="9.69" fill="#fdae61"/><rect x="292.98" y="363.23" width="9.46" height="9.69" fill="#fdae61"/><rect x="302.14" y="363.23" width="9.46" height="9.69" fill="#66c2a5"/><rect x="311.30" y="363.23" width="9.46" height="9.69" fill="#66c2a5"/><rect x="320.45" y="363.23" width="9.46" height="9.69" fill="#66c2a5"/><rect x="329.61" y="363.23" width="9.46" height="9.69" fill="#66c2a5"/><rect x="338.77" y="363.23" width="9.46" height="9.69" fill="#66c2a5"/><rect x="347.93" y="363.23" width="9.46" height="9.69" fill="#7dcba5"/><rect x="357.09" y="363.23" width="9.46" height="9.69" fill="#94d4a4"/><rect x="366.25" y="363.23" width="9.46" height="9.69" fill="#abdda4"/><rect x="375.41" y="363.23" width="9.46" height="9.69" fill="#88d0a4"/><rect x="384.57" y="363.23" width="9.46" height="9.69" fill="#66c2a5"/><rect x="393.73" y="363.23" width="9.46" height="9.69" fill="#66c2a5"/><rect x="402.89" y="363.23" width="9.46" height="9.69" fill="#7dcba5"/><rect x="412.05" y="363.23" width="9.46" height="9.69" fill="#b0dfad"/><rect x="421.20" y="363.23" width="9.46" height="9.69" fill="#d5eeb2"/><rect x="430.36" y="363.23" width="9.46" height="9.69" fill="#ffffbf"/><rect x="439.52" y="363.23" width="9.46" height="9.69" fill="#ffffbf"/><rect x="448.68" y="363.23" width="9.46" height="9.69" fill="#ffffbf"/><rect x="457.84" y="363.23" width="9.46" height="9.69" fill="#c3beb4"/><rect x="265.50" y="372.61" width="9.46" height="9.69" fill="#fdae61"/><rect x="274.66" y="372.61" width="9.46" height="9.69" fill="#fdae61"/><rect x="283.82" y="372.61" width="9.46" height="9.69" fill="#fdae61"/><rect x="292.98" y="372.61" width="9.46" height="9.69" fill="#fdae61"/><rect x="302.14" y="372.61" width="9.46" height="9.69" fill="#66c2a5"/><rect x="311.30" y="372.61" width="9.46" height="9.69" fill="#66c2a5"/><rect x="320.45" y="372.61" width="9.46" height="9.69" fill="#66c2a5"/><rect x="329.61" y="372.61" width="9.46" height="9.69" fill="#66c2a5"/><rect x="338.77" y="372.61" width="9.46" height="9.69" fill="#6ec5a5"/><rect x="347.93" y="372.61" width="9.46" height="9.69" fill="#7dcba5"/><rect x="357.09" y="372.61" width="9.46" height="9.69" fill="#94d4a4"/><rect x="366.25" y="372.61" width="9.46" height="9.69" fill="#98d6a4"/><rect x="375.41" y="372.61" width="9.46" height="9.69" fill="#88d0a4"/><rect x="384.57" y="372.61" width="9.46" height="9.69" fill="#72c6a5"/><rect x="393.73" y="372.61" width="9.46" height="9.69" fill="#6ec5a5"/><rect x="402.89" y="372.61" width="9.46" height="9.69" fill="#86cfa8"/><rect x="412.05" y="372.61" width="9.46" height="9.69" fill="#abddac"/><rect x="421.20" y="372.61" width="9.46" height="9.69" fill="#d7efb5"/><rect x="430.36" y="372.61" width="9.46" height="9.69" fill="#eaf6b8"/><rect x="439.52" y="372.61" width="9.46" height="9.69" fill="#ffffbf"/><rect x="448.68" y="372.61" width="9.46" height="9.69" fill="#ffffbf"/><rect x="457.84" y="372.61" width="9.46" height="9.69" fill="#ffffbf"/></g></g>
<rect x="326" y="192.9" width="7.50" height="7.40" fill="#d53e4f"/>
<rect x="307.4" y="226.4" width="8.20" height="11.10" fill="#fdae61"/>
<rect x="315.6" y="230" width="3.00" height="7.50" fill="#fdae61"/>
<rect x="318.6" y="230" width="7.40" height="10.50" fill="#f98e52"/>
<rect x="356" y="226.5" width="10.00" height="3.50" fill="#9e0142"/>
<rect x="358.5" y="200.3" width="7.30" height="3.30" fill="#d53e4f"/>
<rect x="365.8" y="193.8" width="3.30" height="9.80" fill="#d53e4f"/>
<rect x="369.9" y="189.7" width="3.30" height="3.30" fill="#d53e4f"/>
<rect x="372.4" y="193.8" width="4.00" height="13.90" fill="#f46d43"/>
<rect x="337.2" y="215.2" width="3.00" height="3.70" fill="#9e0142"/>
<rect x="337.2" y="226.4" width="3.00" height="2.90" fill="#9e0142"/>
<rect x="333.5" y="230" width="3.00" height="3.80" fill="#f46d43"/>
<rect x="285.8" y="263.6" width="3.80" height="3.70" fill="#abdda4"/>
<rect x="282.9" y="267.3" width="2.90" height="11.20" fill="#ffffbf"/>
<rect x="365.8" y="363" width="3.30" height="4.10" fill="#ffffbf"/>
<rect x="419.8" y="363" width="7.30" height="7.40" fill="#ffffbf"/>
<rect x="384.6" y="201.2" width="5.70" height="6.50" fill="#f46d43"/>
<rect x="304.5" y="230" width="3.70" height="3.80" fill="#ffffbf"/>
<rect x="340.5" y="204.2" width="14.10" height="4.30" fill="#9e0142"/>
<rect x="344.8" y="208.5" width="5.50" height="4.30" fill="#9e0142"/>
<rect x="340.5" y="212.8" width="14.10" height="3.70" fill="#9e0142"/>
<rect x="351.4" y="215.2" width="2.90" height="3.70" fill="#9e0142"/>
<g clip-path="url(#pB)" fill="none"><ellipse cx="266" cy="278.75" rx="38.4" ry="36.2" stroke="#000" stroke-width="2.8"/><ellipse cx="266" cy="278.75" rx="73.8" ry="69.7" stroke="#e8141c" stroke-width="3"/></g>
<rect x="265.5" y="175.5" width="201.5" height="206.5" fill="none" stroke="#2e2e2e" stroke-width="1.45"/>
<path d="M265.5,175.5v-2.4M265.5,382.0v2.4M311.0,175.5v-2.4M311.0,382.0v2.4M356.5,175.5v-2.4M356.5,382.0v2.4M402.0,175.5v-2.4M402.0,382.0v2.4M447.5,175.5v-2.4M447.5,382.0v2.4M265.5,192.8h-2.4M467.0,192.8h2.4M265.5,235.8h-2.4M467.0,235.8h2.4M265.5,278.8h-2.4M467.0,278.8h2.4M265.5,321.8h-2.4M467.0,321.8h2.4M265.5,364.8h-2.4M467.0,364.8h2.4" stroke="#2e2e2e" stroke-width="1" fill="none"/>
<path d="M257.2,278.75h17.6M266,269.95v17.6" stroke="#000" stroke-width="3.2"/>
<rect x="26.5" y="426.5" width="201.5" height="206.5" fill="#808080"/>
<g clip-path="url(#mC)"><g filter="url(#blur)"><rect x="26.50" y="426.50" width="9.46" height="9.69" fill="#ffffbf"/><rect x="35.66" y="426.50" width="9.46" height="9.69" fill="#ffffbf"/><rect x="44.82" y="426.50" width="9.46" height="9.69" fill="#ffffbf"/><rect x="53.98" y="426.50" width="9.46" height="9.69" fill="#ffffbf"/><rect x="63.14" y="426.50" width="9.46" height="9.69" fill="#d0ecb0"/><rect x="72.30" y="426.50" width="9.46" height="9.69" fill="#abdda4"/><rect x="81.45" y="426.50" width="9.46" height="9.69" fill="#abdda4"/><rect x="90.61" y="426.50" width="9.46" height="9.69" fill="#b5e1a2"/><rect x="99.77" y="426.50" width="9.46" height="9.69" fill="#c8e99e"/><rect x="108.93" y="426.50" width="9.46" height="9.69" fill="#d7ef9b"/><rect x="118.09" y="426.50" width="9.46" height="9.69" fill="#a6dc9e"/><rect x="127.25" y="426.50" width="9.46" height="9.69" fill="#66c2a5"/><rect x="136.41" y="426.50" width="9.46" height="9.69" fill="#66c2a5"/><rect x="145.57" y="426.50" width="9.46" height="9.69" fill="#71c6a5"/><rect x="154.73" y="426.50" width="9.46" height="9.69" fill="#77c8a4"/><rect x="163.89" y="426.50" width="9.46" height="9.69" fill="#c4e7b2"/><rect x="173.05" y="426.50" width="9.46" height="9.69" fill="#ffffbf"/><rect x="182.20" y="426.50" width="9.46" height="9.69" fill="#ffffbf"/><rect x="191.36" y="426.50" width="9.46" height="9.69" fill="#ffffbf"/><rect x="200.52" y="426.50" width="9.46" height="9.69" fill="#fff7b2"/><rect x="209.68" y="426.50" width="9.46" height="9.69" fill="#fffab7"/><rect x="218.84" y="426.50" width="9.46" height="9.69" fill="#ffffbf"/><rect x="26.50" y="435.89" width="9.46" height="9.69" fill="#ffffbf"/><rect x="35.66" y="435.89" width="9.46" height="9.69" fill="#ffffbf"/><rect x="44.82" y="435.89" width="9.46" height="9.69" fill="#ffffbf"/><rect x="53.98" y="435.89" width="9.46" height="9.69" fill="#ffffbf"/><rect x="63.14" y="435.89" width="9.46" height="9.69" fill="#ffffbf"/><rect x="72.30" y="435.89" width="9.46" height="9.69" fill="#c7e8ad"/><rect x="81.45" y="435.89" width="9.46" height="9.69" fill="#abdda4"/><rect x="90.61" y="435.89" width="9.46" height="9.69" fill="#abdda4"/><rect x="99.77" y="435.89" width="9.46" height="9.69" fill="#c8e99e"/><rect x="108.93" y="435.89" width="9.46" height="9.69" fill="#e6f598"/><rect x="118.09" y="435.89" width="9.46" height="9.69" fill="#b2e0a6"/><rect x="127.25" y="435.89" width="9.46" height="9.69" fill="#66c2a5"/><rect x="136.41" y="435.89" width="9.46" height="9.69" fill="#66c2a5"/><rect x="145.57" y="435.89" width="9.46" height="9.69" fill="#66c2a5"/><rect x="154.73" y="435.89" width="9.46" height="9.69" fill="#88cfa4"/><rect x="163.89" y="435.89" width="9.46" height="9.69" fill="#cfe6aa"/><rect x="173.05" y="435.89" width="9.46" height="9.69" fill="#ffffbf"/><rect x="182.20" y="435.89" width="9.46" height="9.69" fill="#ffffbf"/><rect x="191.36" y="435.89" width="9.46" height="9.69" fill="#fef0a5"/><rect x="200.52" y="435.89" width="9.46" height="9.69" fill="#fff8b4"/><rect x="209.68" y="435.89" width="9.46" height="9.69" fill="#ffffbf"/><rect x="218.84" y="435.89" width="9.46" height="9.69" fill="#b2e0b1"/><rect x="26.50" y="445.27" width="9.46" height="9.69" fill="#ffffbf"/><rect x="35.66" y="445.27" width="9.46" height="9.69" fill="#ffffbf"/><rect x="44.82" y="445.27" width="9.46" height="9.69" fill="#ffffbf"/><rect x="53.98" y="445.27" width="9.46" height="9.69" fill="#ffffbf"/><rect x="63.14" y="445.27" width="9.46" height="9.69" fill="#ffffbf"/><rect x="72.30" y="445.27" width="9.46" height="9.69" fill="#ffffbf"/><rect x="81.45" y="445.27" width="9.46" height="9.69" fill="#abdda4"/><rect x="90.61" y="445.27" width="9.46" height="9.69" fill="#e6f598"/><rect x="99.77" y="445.27" width="9.46" height="9.69" fill="#ffffbf"/><rect x="108.93" y="445.27" width="9.46" height="9.69" fill="#ffffbf"/><rect x="118.09" y="445.27" width="9.46" height="9.69" fill="#c8e99e"/><rect x="127.25" y="445.27" width="9.46" height="9.69" fill="#66c2a5"/><rect x="136.41" y="445.27" width="9.46" height="9.69" fill="#66c2a5"/><rect x="145.57" y="445.27" width="9.46" height="9.69" fill="#66c2a5"/><rect x="154.73" y="445.27" width="9.46" height="9.69" fill="#88cfa4"/><rect x="163.89" y="445.27" width="9.46" height="9.69" fill="#fef0a5"/><rect x="173.05" y="445.27" width="9.46" height="9.69" fill="#fef0a5"/><rect x="182.20" y="445.27" width="9.46" height="9.69" fill="#fee08b"/><rect x="191.36" y="445.27" width="9.46" height="9.69" fill="#fef4ac"/><rect x="200.52" y="445.27" width="9.46" height="9.69" fill="#ffffbf"/><rect x="209.68" y="445.27" width="9.46" height="9.69" fill="#b2e0b0"/><rect x="218.84" y="445.27" width="9.46" height="9.69" fill="#66c2a5"/><rect x="26.50" y="454.66" width="9.46" height="9.69" fill="#ffffbf"/><rect x="35.66" y="454.66" width="9.46" height="9.69" fill="#ffffbf"/><rect x="44.82" y="454.66" width="9.46" height="9.69" fill="#ffffbf"/><rect x="53.98" y="454.66" width="9.46" height="9.69" fill="#ffffbf"/><rect x="63.14" y="454.66" width="9.46" height="9.69" fill="#ffffbf"/><rect x="72.30" y="454.66" width="9.46" height="9.69" fill="#d5eeb2"/><rect x="81.45" y="454.66" width="9.46" height="9.69" fill="#e9e599"/><rect x="90.61" y="454.66" width="9.46" height="9.69" fill="#fee08b"/><rect x="99.77" y="454.66" width="9.46" height="9.69" fill="#fdae61"/><rect x="108.93" y="454.66" width="9.46" height="9.69" fill="#fef0a5"/><rect x="118.09" y="454.66" width="9.46" height="9.69" fill="#abdda4"/><rect x="127.25" y="454.66" width="9.46" height="9.69" fill="#88cfa4"/><rect x="136.41" y="454.66" width="9.46" height="9.69" fill="#66c2a5"/><rect x="145.57" y="454.66" width="9.46" height="9.69" fill="#88cfa4"/><rect x="154.73" y="454.66" width="9.46" height="9.69" fill="#ffffbf"/><rect x="163.89" y="454.66" width="9.46" height="9.69" fill="#fdc776"/><rect x="173.05" y="454.66" width="9.46" height="9.69" fill="#fdc776"/><rect x="182.20" y="454.66" width="9.46" height="9.69" fill="#fef0a5"/><rect x="191.36" y="454.66" width="9.46" height="9.69" fill="#ffffbf"/><rect x="200.52" y="454.66" width="9.46" height="9.69" fill="#b0dfad"/><rect x="209.68" y="454.66" width="9.46" height="9.69" fill="#66c2a5"/><rect x="218.84" y="454.66" width="9.46" height="9.69" fill="#77c9a5"/><rect x="26.50" y="464.05" width="9.46" height="9.69" fill="#ffffbf"/><rect x="35.66" y="464.05" width="9.46" height="9.69" fill="#ffffbf"/><rect x="44.82" y="464.05" width="9.46" height="9.69" fill="#ffffbf"/><rect x="53.98" y="464.05" width="9.46" height="9.69" fill="#ffffbf"/><rect x="63.14" y="464.05" width="9.46" height="9.69" fill="#eaf6b8"/><rect x="72.30" y="464.05" width="9.46" height="9.69" fill="#f1e29a"/><rect x="81.45" y="464.05" width="9.46" height="9.69" fill="#fed480"/><rect x="90.61" y="464.05" width="9.46" height="9.69" fill="#fdc776"/><rect x="99.77" y="464.05" width="9.46" height="9.69" fill="#fdae61"/><rect x="108.93" y="464.05" width="9.46" height="9.69" fill="#fee08b"/><rect x="118.09" y="464.05" width="9.46" height="9.69" fill="#abdda4"/><rect x="127.25" y="464.05" width="9.46" height="9.69" fill="#88cfa4"/><rect x="136.41" y="464.05" width="9.46" height="9.69" fill="#abdda4"/><rect x="145.57" y="464.05" width="9.46" height="9.69" fill="#e6f598"/><rect x="154.73" y="464.05" width="9.46" height="9.69" fill="#ffffbf"/><rect x="163.89" y="464.05" width="9.46" height="9.69" fill="#fef0a5"/><rect x="173.05" y="464.05" width="9.46" height="9.69" fill="#fdc776"/><rect x="182.20" y="464.05" width="9.46" height="9.69" fill="#fee08b"/><rect x="191.36" y="464.05" width="9.46" height="9.69" fill="#abdda4"/><rect x="200.52" y="464.05" width="9.46" height="9.69" fill="#66c2a5"/><rect x="209.68" y="464.05" width="9.46" height="9.69" fill="#88d0a4"/><rect x="218.84" y="464.05" width="9.46" height="9.69" fill="#81cca5"/><rect x="26.50" y="473.43" width="9.46" height="9.69" fill="#ffffbf"/><rect x="35.66" y="473.43" width="9.46" height="9.69" fill="#ffffbf"/><rect x="44.82" y="473.43" width="9.46" height="9.69" fill="#ffffbf"/><rect x="53.98" y="473.43" width="9.46" height="9.69" fill="#f4fbbc"/><rect x="63.14" y="473.43" width="9.46" height="9.69" fill="#f7e29a"/><rect x="72.30" y="473.43" width="9.46" height="9.69" fill="#fdcd7b"/><rect x="81.45" y="473.43" width="9.46" height="9.69" fill="#fdc776"/><rect x="90.61" y="473.43" width="9.46" height="9.69" fill="#fdc776"/><rect x="99.77" y="473.43" width="9.46" height="9.69" fill="#fdc776"/><rect x="108.93" y="473.43" width="9.46" height="9.69" fill="#fef0a5"/><rect x="118.09" y="473.43" width="9.46" height="9.69" fill="#88cfa4"/><rect x="127.25" y="473.43" width="9.46" height="9.69" fill="#88cfa4"/><rect x="136.41" y="473.43" width="9.46" height="9.69" fill="#c8e99e"/><rect x="145.57" y="473.43" width="9.46" height="9.69" fill="#ffffbf"/><rect x="154.73" y="473.43" width="9.46" height="9.69" fill="#ffffbf"/><rect x="163.89" y="473.43" width="9.46" height="9.69" fill="#abdda4"/><rect x="173.05" y="473.43" width="9.46" height="9.69" fill="#66c2a5"/><rect x="182.20" y="473.43" width="9.46" height="9.69" fill="#4ca5b1"/><rect x="191.36" y="473.43" width="9.46" height="9.69" fill="#4ca5b1"/><rect x="200.52" y="473.43" width="9.46" height="9.69" fill="#abdda4"/><rect x="209.68" y="473.43" width="9.46" height="9.69" fill="#94d4a4"/><rect x="218.84" y="473.43" width="9.46" height="9.69" fill="#98d6a4"/><rect x="26.50" y="482.82" width="9.46" height="9.69" fill="#ffffbf"/><rect x="35.66" y="482.82" width="9.46" height="9.69" fill="#ffffbf"/><rect x="44.82" y="482.82" width="9.46" height="9.69" fill="#fafdbd"/><rect x="53.98" y="482.82" width="9.46" height="9.69" fill="#fbe39a"/><rect x="63.14" y="482.82" width="9.46" height="9.69" fill="#fdca79"/><rect x="72.30" y="482.82" width="9.46" height="9.69" fill="#fdc776"/><rect x="81.45" y="482.82" width="9.46" height="9.69" fill="#fcc072"/><rect x="90.61" y="482.82" width="9.46" height="9.69" fill="#fdc776"/><rect x="99.77" y="482.82" width="9.46" height="9.69" fill="#fee08b"/><rect x="108.93" y="482.82" width="9.46" height="9.69" fill="#ffffbf"/><rect x="118.09" y="482.82" width="9.46" height="9.69" fill="#c8e99e"/><rect x="127.25" y="482.82" width="9.46" height="9.69" fill="#88cfa4"/><rect x="136.41" y="482.82" width="9.46" height="9.69" fill="#abdda4"/><rect x="145.57" y="482.82" width="9.46" height="9.69" fill="#e6f598"/><rect x="154.73" y="482.82" width="9.46" height="9.69" fill="#ffffbf"/><rect x="163.89" y="482.82" width="9.46" height="9.69" fill="#abdda4"/><rect x="173.05" y="482.82" width="9.46" height="9.69" fill="#4ca5b1"/><rect x="182.20" y="482.82" width="9.46" height="9.69" fill="#3288bd"/><rect x="191.36" y="482.82" width="9.46" height="9.69" fill="#4ca5b1"/><rect x="200.52" y="482.82" width="9.46" height="9.69" fill="#abdda4"/><rect x="209.68" y="482.82" width="9.46" height="9.69" fill="#abdda4"/><rect x="218.84" y="482.82" width="9.46" height="9.69" fill="#8bd1a4"/><rect x="26.50" y="492.20" width="9.46" height="9.69" fill="#ffffbf"/><rect x="35.66" y="492.20" width="9.46" height="9.69" fill="#fcfebe"/><rect x="44.82" y="492.20" width="9.46" height="9.69" fill="#fce39a"/><rect x="53.98" y="492.20" width="9.46" height="9.69" fill="#fdc977"/><rect x="63.14" y="492.20" width="9.46" height="9.69" fill="#fdc776"/><rect x="72.30" y="492.20" width="9.46" height="9.69" fill="#fbaf68"/><rect x="81.45" y="492.20" width="9.46" height="9.69" fill="#fbaa64"/><rect x="90.61" y="492.20" width="9.46" height="9.69" fill="#faa965"/><rect x="99.77" y="492.20" width="9.46" height="9.69" fill="#fdae61"/><rect x="108.93" y="492.20" width="9.46" height="9.69" fill="#fdc776"/><rect x="118.09" y="492.20" width="9.46" height="9.69" fill="#fef0a5"/><rect x="127.25" y="492.20" width="9.46" height="9.69" fill="#c8e99e"/><rect x="136.41" y="492.20" width="9.46" height="9.69" fill="#abdda4"/><rect x="145.57" y="492.20" width="9.46" height="9.69" fill="#c8e99e"/><rect x="154.73" y="492.20" width="9.46" height="9.69" fill="#ffffbf"/><rect x="163.89" y="492.20" width="9.46" height="9.69" fill="#c8e99e"/><rect x="173.05" y="492.20" width="9.46" height="9.69" fill="#66c2a5"/><rect x="182.20" y="492.20" width="9.46" height="9.69" fill="#4ca5b1"/><rect x="191.36" y="492.20" width="9.46" height="9.69" fill="#66c2a5"/><rect x="200.52" y="492.20" width="9.46" height="9.69" fill="#abdda4"/><rect x="209.68" y="492.20" width="9.46" height="9.69" fill="#88d0a4"/><rect x="218.84" y="492.20" width="9.46" height="9.69" fill="#66c2a5"/><rect x="26.50" y="501.59" width="9.46" height="9.69" fill="#fefebf"/><rect x="35.66" y="501.59" width="9.46" height="9.69" fill="#fde39a"/><rect x="44.82" y="501.59" width="9.46" height="9.69" fill="#fdc877"/><rect x="53.98" y="501.59" width="9.46" height="9.69" fill="#fdc776"/><rect x="63.14" y="501.59" width="9.46" height="9.69" fill="#faa160"/><rect x="72.30" y="501.59" width="9.46" height="9.69" fill="#f89156"/><rect x="81.45" y="501.59" width="9.46" height="9.69" fill="#f88c53"/><rect x="90.61" y="501.59" width="9.46" height="9.69" fill="#f88e52"/><rect x="99.77" y="501.59" width="9.46" height="9.69" fill="#f46d43"/><rect x="108.93" y="501.59" width="9.46" height="9.69" fill="#f46d43"/><rect x="118.09" y="501.59" width="9.46" height="9.69" fill="#f98e52"/><rect x="127.25" y="501.59" width="9.46" height="9.69" fill="#fdae61"/><rect x="136.41" y="501.59" width="9.46" height="9.69" fill="#c8e99e"/><rect x="145.57" y="501.59" width="9.46" height="9.69" fill="#abdda4"/><rect x="154.73" y="501.59" width="9.46" height="9.69" fill="#e6f598"/><rect x="163.89" y="501.59" width="9.46" height="9.69" fill="#ffffbf"/><rect x="173.05" y="501.59" width="9.46" height="9.69" fill="#abdda4"/><rect x="182.20" y="501.59" width="9.46" height="9.69" fill="#66c2a5"/><rect x="191.36" y="501.59" width="9.46" height="9.69" fill="#66c2a5"/><rect x="200.52" y="501.59" width="9.46" height="9.69" fill="#66c2a5"/><rect x="209.68" y="501.59" width="9.46" height="9.69" fill="#66c2a5"/><rect x="218.84" y="501.59" width="9.46" height="9.69" fill="#59b4ab"/><rect x="26.50" y="510.98" width="9.46" height="9.69" fill="#fddc91"/><rect x="35.66" y="510.98" width="9.46" height="9.69" fill="#fdc776"/><rect x="44.82" y="510.98" width="9.46" height="9.69" fill="#fdc776"/><rect x="53.98" y="510.98" width="9.46" height="9.69" fill="#f8975a"/><rect x="63.14" y="510.98" width="9.46" height="9.69" fill="#f6814d"/><rect x="72.30" y="510.98" width="9.46" height="9.69" fill="#f67d4b"/><rect x="81.45" y="510.98" width="9.46" height="9.69" fill="#f67d4a"/><rect x="90.61" y="510.98" width="9.46" height="9.69" fill="#f46d43"/><rect x="99.77" y="510.98" width="9.46" height="9.69" fill="#f46d43"/><rect x="108.93" y="510.98" width="9.46" height="9.69" fill="#e9614b"/><rect x="118.09" y="510.98" width="9.46" height="9.69" fill="#d53e4f"/><rect x="127.25" y="510.98" width="9.46" height="9.69" fill="#e5564a"/><rect x="136.41" y="510.98" width="9.46" height="9.69" fill="#f98e52"/><rect x="145.57" y="510.98" width="9.46" height="9.69" fill="#fee08b"/><rect x="154.73" y="510.98" width="9.46" height="9.69" fill="#ffffbf"/><rect x="163.89" y="510.98" width="9.46" height="9.69" fill="#fef0a5"/><rect x="173.05" y="510.98" width="9.46" height="9.69" fill="#ffffbf"/><rect x="182.20" y="510.98" width="9.46" height="9.69" fill="#abdda4"/><rect x="191.36" y="510.98" width="9.46" height="9.69" fill="#66c2a5"/><rect x="200.52" y="510.98" width="9.46" height="9.69" fill="#4ca5b1"/><rect x="209.68" y="510.98" width="9.46" height="9.69" fill="#4ca5b1"/><rect x="218.84" y="510.98" width="9.46" height="9.69" fill="#4ca5b1"/><rect x="26.50" y="520.36" width="9.46" height="9.69" fill="#fdc776"/><rect x="35.66" y="520.36" width="9.46" height="9.69" fill="#fdc776"/><rect x="44.82" y="520.36" width="9.46" height="9.69" fill="#e89b62"/><rect x="53.98" y="520.36" width="9.46" height="9.69" fill="#e58153"/><rect x="63.14" y="520.36" width="9.46" height="9.69" fill="#f57547"/><rect x="72.30" y="520.36" width="9.46" height="9.69" fill="#f57547"/><rect x="81.45" y="520.36" width="9.46" height="9.69" fill="#f46d43"/><rect x="90.61" y="520.36" width="9.46" height="9.69" fill="#f46d43"/><rect x="99.77" y="520.36" width="9.46" height="9.69" fill="#ed6e4f"/><rect x="108.93" y="520.36" width="9.46" height="9.69" fill="#e15950"/><rect x="118.09" y="520.36" width="9.46" height="9.69" fill="#d53e4f"/><rect x="127.25" y="520.36" width="9.46" height="9.69" fill="#e5564a"/><rect x="136.41" y="520.36" width="9.46" height="9.69" fill="#f46d43"/><rect x="145.57" y="520.36" width="9.46" height="9.69" fill="#fdae61"/><rect x="154.73" y="520.36" width="9.46" height="9.69" fill="#fef0a5"/><rect x="163.89" y="520.36" width="9.46" height="9.69" fill="#fef0a5"/><rect x="173.05" y="520.36" width="9.46" height="9.69" fill="#ffffbf"/><rect x="182.20" y="520.36" width="9.46" height="9.69" fill="#c8e99e"/><rect x="191.36" y="520.36" width="9.46" height="9.69" fill="#88cfa4"/><rect x="200.52" y="520.36" width="9.46" height="9.69" fill="#3288bd"/><rect x="209.68" y="520.36" width="9.46" height="9.69" fill="#3288bd"/><rect x="218.84" y="520.36" width="9.46" height="9.69" fill="#3b92b9"/><rect x="26.50" y="529.75" width="9.46" height="9.69" fill="#fdc776"/><rect x="35.66" y="529.75" width="9.46" height="9.69" fill="#d0a671"/><rect x="44.82" y="529.75" width="9.46" height="9.69" fill="#c0916a"/><rect x="53.98" y="529.75" width="9.46" height="9.69" fill="#c58d65"/><rect x="63.14" y="529.75" width="9.46" height="9.69" fill="#c58c65"/><rect x="72.30" y="529.75" width="9.46" height="9.69" fill="#f46d43"/><rect x="81.45" y="529.75" width="9.46" height="9.69" fill="#9e877b"/><rect x="90.61" y="529.75" width="9.46" height="9.69" fill="#4ca5b1"/><rect x="99.77" y="529.75" width="9.46" height="9.69" fill="#b09181"/><rect x="108.93" y="529.75" width="9.46" height="9.69" fill="#ef946d"/><rect x="118.09" y="529.75" width="9.46" height="9.69" fill="#f98e52"/><rect x="127.25" y="529.75" width="9.46" height="9.69" fill="#fdae61"/><rect x="136.41" y="529.75" width="9.46" height="9.69" fill="#fdc776"/><rect x="145.57" y="529.75" width="9.46" height="9.69" fill="#fdae61"/><rect x="154.73" y="529.75" width="9.46" height="9.69" fill="#fdc776"/><rect x="163.89" y="529.75" width="9.46" height="9.69" fill="#fef0a5"/><rect x="173.05" y="529.75" width="9.46" height="9.69" fill="#ffffbf"/><rect x="182.20" y="529.75" width="9.46" height="9.69" fill="#c8e99e"/><rect x="191.36" y="529.75" width="9.46" height="9.69" fill="#abdda4"/><rect x="200.52" y="529.75" width="9.46" height="9.69" fill="#63aeb0"/><rect x="209.68" y="529.75" width="9.46" height="9.69" fill="#3288bd"/><rect x="218.84" y="529.75" width="9.46" height="9.69" fill="#3288bd"/><rect x="26.50" y="539.14" width="9.46" height="9.69" fill="#bab17f"/><rect x="35.66" y="539.14" width="9.46" height="9.69" fill="#9da481"/><rect x="44.82" y="539.14" width="9.46" height="9.69" fill="#9ba481"/><rect x="53.98" y="539.14" width="9.46" height="9.69" fill="#95a785"/><rect x="63.14" y="539.14" width="9.46" height="9.69" fill="#95a684"/><rect x="72.30" y="539.14" width="9.46" height="9.69" fill="#66c2a5"/><rect x="81.45" y="539.14" width="9.46" height="9.69" fill="#52acae"/><rect x="90.61" y="539.14" width="9.46" height="9.69" fill="#469eb4"/><rect x="99.77" y="539.14" width="9.46" height="9.69" fill="#4ca5b1"/><rect x="108.93" y="539.14" width="9.46" height="9.69" fill="#a4b296"/><rect x="118.09" y="539.14" width="9.46" height="9.69" fill="#fef0a5"/><rect x="127.25" y="539.14" width="9.46" height="9.69" fill="#fdc776"/><rect x="136.41" y="539.14" width="9.46" height="9.69" fill="#fdc776"/><rect x="145.57" y="539.14" width="9.46" height="9.69" fill="#fdc776"/><rect x="154.73" y="539.14" width="9.46" height="9.69" fill="#fee08b"/><rect x="163.89" y="539.14" width="9.46" height="9.69" fill="#ffffbf"/><rect x="173.05" y="539.14" width="9.46" height="9.69" fill="#ffffbf"/><rect x="182.20" y="539.14" width="9.46" height="9.69" fill="#abdda4"/><rect x="191.36" y="539.14" width="9.46" height="9.69" fill="#88cfa4"/><rect x="200.52" y="539.14" width="9.46" height="9.69" fill="#84c4aa"/><rect x="209.68" y="539.14" width="9.46" height="9.69" fill="#3288bd"/><rect x="218.84" y="539.14" width="9.46" height="9.69" fill="#3288bd"/><rect x="26.50" y="548.52" width="9.46" height="9.69" fill="#84b191"/><rect x="35.66" y="548.52" width="9.46" height="9.69" fill="#80b393"/><rect x="44.82" y="548.52" width="9.46" height="9.69" fill="#7bb697"/><rect x="53.98" y="548.52" width="9.46" height="9.69" fill="#76b99a"/><rect x="63.14" y="548.52" width="9.46" height="9.69" fill="#66c2a5"/><rect x="72.30" y="548.52" width="9.46" height="9.69" fill="#66c2a5"/><rect x="81.45" y="548.52" width="9.46" height="9.69" fill="#66c2a5"/><rect x="90.61" y="548.52" width="9.46" height="9.69" fill="#51aaaf"/><rect x="99.77" y="548.52" width="9.46" height="9.69" fill="#3f96b7"/><rect x="108.93" y="548.52" width="9.46" height="9.69" fill="#4ca5b1"/><rect x="118.09" y="548.52" width="9.46" height="9.69" fill="#4ca5b1"/><rect x="127.25" y="548.52" width="9.46" height="9.69" fill="#88cfa4"/><rect x="136.41" y="548.52" width="9.46" height="9.69" fill="#ffffbf"/><rect x="145.57" y="548.52" width="9.46" height="9.69" fill="#ffffbf"/><rect x="154.73" y="548.52" width="9.46" height="9.69" fill="#ffffbf"/><rect x="163.89" y="548.52" width="9.46" height="9.69" fill="#ffffbf"/><rect x="173.05" y="548.52" width="9.46" height="9.69" fill="#e6f598"/><rect x="182.20" y="548.52" width="9.46" height="9.69" fill="#c8e99e"/><rect x="191.36" y="548.52" width="9.46" height="9.69" fill="#abdda4"/><rect x="200.52" y="548.52" width="9.46" height="9.69" fill="#9fd8a4"/><rect x="209.68" y="548.52" width="9.46" height="9.69" fill="#70b5af"/><rect x="218.84" y="548.52" width="9.46" height="9.69" fill="#3288bd"/><rect x="26.50" y="557.91" width="9.46" height="9.69" fill="#72bb9d"/><rect x="35.66" y="557.91" width="9.46" height="9.69" fill="#6fbd9f"/><rect x="44.82" y="557.91" width="9.46" height="9.69" fill="#6bbfa1"/><rect x="53.98" y="557.91" width="9.46" height="9.69" fill="#66c2a5"/><rect x="63.14" y="557.91" width="9.46" height="9.69" fill="#66c2a5"/><rect x="72.30" y="557.91" width="9.46" height="9.69" fill="#66c2a5"/><rect x="81.45" y="557.91" width="9.46" height="9.69" fill="#66c2a5"/><rect x="90.61" y="557.91" width="9.46" height="9.69" fill="#66c2a5"/><rect x="99.77" y="557.91" width="9.46" height="9.69" fill="#52acae"/><rect x="108.93" y="557.91" width="9.46" height="9.69" fill="#3288bd"/><rect x="118.09" y="557.91" width="9.46" height="9.69" fill="#4ca5b1"/><rect x="127.25" y="557.91" width="9.46" height="9.69" fill="#88cfa4"/><rect x="136.41" y="557.91" width="9.46" height="9.69" fill="#fee08b"/><rect x="145.57" y="557.91" width="9.46" height="9.69" fill="#ffffbf"/><rect x="154.73" y="557.91" width="9.46" height="9.69" fill="#3288bd"/><rect x="163.89" y="557.91" width="9.46" height="9.69" fill="#3288bd"/><rect x="173.05" y="557.91" width="9.46" height="9.69" fill="#4ca5b1"/><rect x="182.20" y="557.91" width="9.46" height="9.69" fill="#66c2a5"/><rect x="191.36" y="557.91" width="9.46" height="9.69" fill="#abdda4"/><rect x="200.52" y="557.91" width="9.46" height="9.69" fill="#abdda4"/><rect x="209.68" y="557.91" width="9.46" height="9.69" fill="#a7dba4"/><rect x="218.84" y="557.91" width="9.46" height="9.69" fill="#7fbeae"/><rect x="26.50" y="567.30" width="9.46" height="9.69" fill="#6ac0a3"/><rect x="35.66" y="567.30" width="9.46" height="9.69" fill="#68c1a4"/><rect x="44.82" y="567.30" width="9.46" height="9.69" fill="#66c2a5"/><rect x="53.98" y="567.30" width="9.46" height="9.69" fill="#66c2a5"/><rect x="63.14" y="567.30" width="9.46" height="9.69" fill="#66c2a5"/><rect x="72.30" y="567.30" width="9.46" height="9.69" fill="#66c2a5"/><rect x="81.45" y="567.30" width="9.46" height="9.69" fill="#66c2a5"/><rect x="90.61" y="567.30" width="9.46" height="9.69" fill="#66c2a5"/><rect x="99.77" y="567.30" width="9.46" height="9.69" fill="#66c2a5"/><rect x="108.93" y="567.30" width="9.46" height="9.69" fill="#66c2a5"/><rect x="118.09" y="567.30" width="9.46" height="9.69" fill="#8bbca0"/><rect x="127.25" y="567.30" width="9.46" height="9.69" fill="#fdc776"/><rect x="136.41" y="567.30" width="9.46" height="9.69" fill="#f98e52"/><rect x="145.57" y="567.30" width="9.46" height="9.69" fill="#fdae61"/><rect x="154.73" y="567.30" width="9.46" height="9.69" fill="#3288bd"/><rect x="163.89" y="567.30" width="9.46" height="9.69" fill="#4870b0"/><rect x="173.05" y="567.30" width="9.46" height="9.69" fill="#4ca5b1"/><rect x="182.20" y="567.30" width="9.46" height="9.69" fill="#66c2a5"/><rect x="191.36" y="567.30" width="9.46" height="9.69" fill="#abdda4"/><rect x="200.52" y="567.30" width="9.46" height="9.69" fill="#abdda4"/><rect x="209.68" y="567.30" width="9.46" height="9.69" fill="#b4e1a7"/><rect x="218.84" y="567.30" width="9.46" height="9.69" fill="#b6e1a7"/><rect x="26.50" y="576.68" width="9.46" height="9.69" fill="#67c2a5"/><rect x="35.66" y="576.68" width="9.46" height="9.69" fill="#66c2a5"/><rect x="44.82" y="576.68" width="9.46" height="9.69" fill="#66c2a5"/><rect x="53.98" y="576.68" width="9.46" height="9.69" fill="#66c2a5"/><rect x="63.14" y="576.68" width="9.46" height="9.69" fill="#66c2a5"/><rect x="72.30" y="576.68" width="9.46" height="9.69" fill="#66c2a5"/><rect x="81.45" y="576.68" width="9.46" height="9.69" fill="#66c2a5"/><rect x="90.61" y="576.68" width="9.46" height="9.69" fill="#66c2a5"/><rect x="99.77" y="576.68" width="9.46" height="9.69" fill="#66c2a5"/><rect x="108.93" y="576.68" width="9.46" height="9.69" fill="#66c2a5"/><rect x="118.09" y="576.68" width="9.46" height="9.69" fill="#c2d89c"/><rect x="127.25" y="576.68" width="9.46" height="9.69" fill="#fee08b"/><rect x="136.41" y="576.68" width="9.46" height="9.69" fill="#fdc776"/><rect x="145.57" y="576.68" width="9.46" height="9.69" fill="#fef0a5"/><rect x="154.73" y="576.68" width="9.46" height="9.69" fill="#3288bd"/><rect x="163.89" y="576.68" width="9.46" height="9.69" fill="#3288bd"/><rect x="173.05" y="576.68" width="9.46" height="9.69" fill="#4ca5b1"/><rect x="182.20" y="576.68" width="9.46" height="9.69" fill="#88cfa4"/><rect x="191.36" y="576.68" width="9.46" height="9.69" fill="#abdda4"/><rect x="200.52" y="576.68" width="9.46" height="9.69" fill="#c7e8ad"/><rect x="209.68" y="576.68" width="9.46" height="9.69" fill="#c7e7aa"/><rect x="218.84" y="576.68" width="9.46" height="9.69" fill="#cae6a8"/><rect x="26.50" y="586.07" width="9.46" height="9.69" fill="#66c2a5"/><rect x="35.66" y="586.07" width="9.46" height="9.69" fill="#66c2a5"/><rect x="44.82" y="586.07" width="9.46" height="9.69" fill="#66c2a5"/><rect x="53.98" y="586.07" width="9.46" height="9.69" fill="#66c2a5"/><rect x="63.14" y="586.07" width="9.46" height="9.69" fill="#66c2a5"/><rect x="72.30" y="586.07" width="9.46" height="9.69" fill="#66c2a5"/><rect x="81.45" y="586.07" width="9.46" height="9.69" fill="#66c2a5"/><rect x="90.61" y="586.07" width="9.46" height="9.69" fill="#66c2a5"/><rect x="99.77" y="586.07" width="9.46" height="9.69" fill="#66c2a5"/><rect x="108.93" y="586.07" width="9.46" height="9.69" fill="#b2e0b2"/><rect x="118.09" y="586.07" width="9.46" height="9.69" fill="#ffffbf"/><rect x="127.25" y="586.07" width="9.46" height="9.69" fill="#c8e99e"/><rect x="136.41" y="586.07" width="9.46" height="9.69" fill="#abdda4"/><rect x="145.57" y="586.07" width="9.46" height="9.69" fill="#88cfa4"/><rect x="154.73" y="586.07" width="9.46" height="9.69" fill="#4ca5b1"/><rect x="163.89" y="586.07" width="9.46" height="9.69" fill="#4ca5b1"/><rect x="173.05" y="586.07" width="9.46" height="9.69" fill="#66c2a5"/><rect x="182.20" y="586.07" width="9.46" height="9.69" fill="#c8e99e"/><rect x="191.36" y="586.07" width="9.46" height="9.69" fill="#ffffbf"/><rect x="200.52" y="586.07" width="9.46" height="9.69" fill="#e3efad"/><rect x="209.68" y="586.07" width="9.46" height="9.69" fill="#e3eaa8"/><rect x="218.84" y="586.07" width="9.46" height="9.69" fill="#dfe8a5"/><rect x="26.50" y="595.45" width="9.46" height="9.69" fill="#66c2a5"/><rect x="35.66" y="595.45" width="9.46" height="9.69" fill="#66c2a5"/><rect x="44.82" y="595.45" width="9.46" height="9.69" fill="#66c2a5"/><rect x="53.98" y="595.45" width="9.46" height="9.69" fill="#66c2a5"/><rect x="63.14" y="595.45" width="9.46" height="9.69" fill="#66c2a5"/><rect x="72.30" y="595.45" width="9.46" height="9.69" fill="#66c2a5"/><rect x="81.45" y="595.45" width="9.46" height="9.69" fill="#66c2a5"/><rect x="90.61" y="595.45" width="9.46" height="9.69" fill="#66c2a5"/><rect x="99.77" y="595.45" width="9.46" height="9.69" fill="#b2e0b2"/><rect x="108.93" y="595.45" width="9.46" height="9.69" fill="#ffffbf"/><rect x="118.09" y="595.45" width="9.46" height="9.69" fill="#e4f4ae"/><rect x="127.25" y="595.45" width="9.46" height="9.69" fill="#d1ecab"/><rect x="136.41" y="595.45" width="9.46" height="9.69" fill="#a9dca2"/><rect x="145.57" y="595.45" width="9.46" height="9.69" fill="#99d2a4"/><rect x="154.73" y="595.45" width="9.46" height="9.69" fill="#e6f598"/><rect x="163.89" y="595.45" width="9.46" height="9.69" fill="#ffffbf"/><rect x="173.05" y="595.45" width="9.46" height="9.69" fill="#ffffbf"/><rect x="182.20" y="595.45" width="9.46" height="9.69" fill="#ffffbf"/><rect x="191.36" y="595.45" width="9.46" height="9.69" fill="#fef0a5"/><rect x="200.52" y="595.45" width="9.46" height="9.69" fill="#fee79e"/><rect x="209.68" y="595.45" width="9.46" height="9.69" fill="#f5e69e"/><rect x="218.84" y="595.45" width="9.46" height="9.69" fill="#f2e39b"/><rect x="26.50" y="604.84" width="9.46" height="9.69" fill="#66c2a5"/><rect x="35.66" y="604.84" width="9.46" height="9.69" fill="#66c2a5"/><rect x="44.82" y="604.84" width="9.46" height="9.69" fill="#66c2a5"/><rect x="53.98" y="604.84" width="9.46" height="9.69" fill="#66c2a5"/><rect x="63.14" y="604.84" width="9.46" height="9.69" fill="#66c2a5"/><rect x="72.30" y="604.84" width="9.46" height="9.69" fill="#66c2a5"/><rect x="81.45" y="604.84" width="9.46" height="9.69" fill="#66c2a5"/><rect x="90.61" y="604.84" width="9.46" height="9.69" fill="#b2e0b2"/><rect x="99.77" y="604.84" width="9.46" height="9.69" fill="#ffffbf"/><rect x="108.93" y="604.84" width="9.46" height="9.69" fill="#f1fab7"/><rect x="118.09" y="604.84" width="9.46" height="9.69" fill="#e6f5b3"/><rect x="127.25" y="604.84" width="9.46" height="9.69" fill="#caeaa9"/><rect x="136.41" y="604.84" width="9.46" height="9.69" fill="#bee4a2"/><rect x="145.57" y="604.84" width="9.46" height="9.69" fill="#e6f598"/><rect x="154.73" y="604.84" width="9.46" height="9.69" fill="#f6f7a9"/><rect x="163.89" y="604.84" width="9.46" height="9.69" fill="#fef0a5"/><rect x="173.05" y="604.84" width="9.46" height="9.69" fill="#fee08b"/><rect x="182.20" y="604.84" width="9.46" height="9.69" fill="#fee08b"/><rect x="191.36" y="604.84" width="9.46" height="9.69" fill="#fdc776"/><rect x="200.52" y="604.84" width="9.46" height="9.69" fill="#fedc8e"/><rect x="209.68" y="604.84" width="9.46" height="9.69" fill="#fed98b"/><rect x="218.84" y="604.84" width="9.46" height="9.69" fill="#fadb8e"/><rect x="26.50" y="614.23" width="9.46" height="9.69" fill="#66c2a5"/><rect x="35.66" y="614.23" width="9.46" height="9.69" fill="#66c2a5"/><rect x="44.82" y="614.23" width="9.46" height="9.69" fill="#66c2a5"/><rect x="53.98" y="614.23" width="9.46" height="9.69" fill="#66c2a5"/><rect x="63.14" y="614.23" width="9.46" height="9.69" fill="#66c2a5"/><rect x="72.30" y="614.23" width="9.46" height="9.69" fill="#66c2a5"/><rect x="81.45" y="614.23" width="9.46" height="9.69" fill="#b2e0b2"/><rect x="90.61" y="614.23" width="9.46" height="9.69" fill="#ffffbf"/><rect x="99.77" y="614.23" width="9.46" height="9.69" fill="#f8fcbb"/><rect x="108.93" y="614.23" width="9.46" height="9.69" fill="#f2fab8"/><rect x="118.09" y="614.23" width="9.46" height="9.69" fill="#e0f3b1"/><rect x="127.25" y="614.23" width="9.46" height="9.69" fill="#d5eea6"/><rect x="136.41" y="614.23" width="9.46" height="9.69" fill="#e6f598"/><rect x="145.57" y="614.23" width="9.46" height="9.69" fill="#f3f4a2"/><rect x="154.73" y="614.23" width="9.46" height="9.69" fill="#fef0a5"/><rect x="163.89" y="614.23" width="9.46" height="9.69" fill="#fee898"/><rect x="173.05" y="614.23" width="9.46" height="9.69" fill="#fee594"/><rect x="182.20" y="614.23" width="9.46" height="9.69" fill="#fed884"/><rect x="191.36" y="614.23" width="9.46" height="9.69" fill="#fed480"/><rect x="200.52" y="614.23" width="9.46" height="9.69" fill="#fdc776"/><rect x="209.68" y="614.23" width="9.46" height="9.69" fill="#fdd182"/><rect x="218.84" y="614.23" width="9.46" height="9.69" fill="#fdd081"/><rect x="26.50" y="623.61" width="9.46" height="9.69" fill="#66c2a5"/><rect x="35.66" y="623.61" width="9.46" height="9.69" fill="#66c2a5"/><rect x="44.82" y="623.61" width="9.46" height="9.69" fill="#66c2a5"/><rect x="53.98" y="623.61" width="9.46" height="9.69" fill="#66c2a5"/><rect x="63.14" y="623.61" width="9.46" height="9.69" fill="#66c2a5"/><rect x="72.30" y="623.61" width="9.46" height="9.69" fill="#b2e0b2"/><rect x="81.45" y="623.61" width="9.46" height="9.69" fill="#ffffbf"/><rect x="90.61" y="623.61" width="9.46" height="9.69" fill="#fcfebd"/><rect x="99.77" y="623.61" width="9.46" height="9.69" fill="#f8fcbb"/><rect x="108.93" y="623.61" width="9.46" height="9.69" fill="#eef8b7"/><rect x="118.09" y="623.61" width="9.46" height="9.69" fill="#e3f4aa"/><rect x="127.25" y="623.61" width="9.46" height="9.69" fill="#e6f598"/><rect x="136.41" y="623.61" width="9.46" height="9.69" fill="#f2f3a0"/><rect x="145.57" y="623.61" width="9.46" height="9.69" fill="#fef0a5"/><rect x="154.73" y="623.61" width="9.46" height="9.69" fill="#feec9e"/><rect x="163.89" y="623.61" width="9.46" height="9.69" fill="#feea9b"/><rect x="173.05" y="623.61" width="9.46" height="9.69" fill="#fee290"/><rect x="182.20" y="623.61" width="9.46" height="9.69" fill="#fedb88"/><rect x="191.36" y="623.61" width="9.46" height="9.69" fill="#fdd17e"/><rect x="200.52" y="623.61" width="9.46" height="9.69" fill="#fdcd7b"/><rect x="209.68" y="623.61" width="9.46" height="9.69" fill="#fdc776"/><rect x="218.84" y="623.61" width="9.46" height="9.69" fill="#fdcc7c"/></g></g>
<rect x="75.9" y="437.2" width="3.70" height="3.70" fill="#abdda4"/>
<rect x="61.7" y="455" width="3.80" height="3.80" fill="#66c2a5"/>
<rect x="65.5" y="452" width="3.70" height="3.80" fill="#abdda4"/>
<rect x="93.7" y="481.1" width="3.80" height="3.70" fill="#ffffbf"/>
<rect x="88.5" y="488.5" width="5.20" height="3.80" fill="#fdae61"/>
<rect x="65.5" y="492.3" width="10.40" height="3.70" fill="#fee08b"/>
<rect x="83.3" y="492.3" width="3.70" height="3.70" fill="#fdae61"/>
<rect x="87" y="510.9" width="6.70" height="3.00" fill="#fdae61"/>
<rect x="65.5" y="547.6" width="3.70" height="14.90" fill="#abdda4"/>
<rect x="94.5" y="557.3" width="4.50" height="8.20" fill="#3288bd"/>
<rect x="119.5" y="596" width="13.90" height="3.50" fill="#3288bd"/>
<rect x="115.3" y="579.6" width="3.70" height="5.20" fill="#ffffbf"/>
<rect x="119.5" y="584.6" width="7.30" height="6.50" fill="#ffffbf"/>
<rect x="213.5" y="540.4" width="5.70" height="18.80" fill="#fee08b"/>
<rect x="205.3" y="555.2" width="11.40" height="4.00" fill="#fdae61"/>
<rect x="198.8" y="555.2" width="3.20" height="11.40" fill="#ffffbf"/>
<rect x="167" y="614.2" width="31.00" height="4.10" fill="#fdae61"/>
<rect x="68.5" y="444.5" width="3.80" height="9.50" fill="#ffffbf"/>
<rect x="111.9" y="521.5" width="7.70" height="3.00" fill="#d53e4f"/>
<rect x="94.5" y="518" width="4.70" height="27.00" fill="#d53e4f"/>
<rect x="111.9" y="521.5" width="3.30" height="11.00" fill="#d53e4f"/>
<g clip-path="url(#pC)" fill="none"><ellipse cx="26.5" cy="529.75" rx="38.4" ry="36.2" stroke="#000" stroke-width="2.8"/><ellipse cx="26.5" cy="529.75" rx="73.8" ry="69.7" stroke="#e8141c" stroke-width="3"/></g>
<rect x="26.5" y="426.5" width="201.5" height="206.5" fill="none" stroke="#2e2e2e" stroke-width="1.45"/>
<path d="M26.5,426.5v-2.4M26.5,633.0v2.4M72.0,426.5v-2.4M72.0,633.0v2.4M117.5,426.5v-2.4M117.5,633.0v2.4M163.0,426.5v-2.4M163.0,633.0v2.4M208.5,426.5v-2.4M208.5,633.0v2.4M26.5,443.8h-2.4M228.0,443.8h2.4M26.5,486.8h-2.4M228.0,486.8h2.4M26.5,529.8h-2.4M228.0,529.8h2.4M26.5,572.8h-2.4M228.0,572.8h2.4M26.5,615.8h-2.4M228.0,615.8h2.4" stroke="#2e2e2e" stroke-width="1" fill="none"/>
<path d="M17.7,529.75h17.6M26.5,520.95v17.6" stroke="#000" stroke-width="3.2"/>
<rect x="265.5" y="426.5" width="201.5" height="206.5" fill="#808080"/>
<g clip-path="url(#mD)"><g filter="url(#blur)"><rect x="265.50" y="426.50" width="9.46" height="9.69" fill="#f98e52"/><rect x="274.66" y="426.50" width="9.46" height="9.69" fill="#f98e52"/><rect x="283.82" y="426.50" width="9.46" height="9.69" fill="#f7844d"/><rect x="292.98" y="426.50" width="9.46" height="9.69" fill="#f46d43"/><rect x="302.14" y="426.50" width="9.46" height="9.69" fill="#f46d43"/><rect x="311.30" y="426.50" width="9.46" height="9.69" fill="#f46d43"/><rect x="320.45" y="426.50" width="9.46" height="9.69" fill="#e45549"/><rect x="329.61" y="426.50" width="9.46" height="9.69" fill="#d53e4f"/><rect x="338.77" y="426.50" width="9.46" height="9.69" fill="#d53e4f"/><rect x="347.93" y="426.50" width="9.46" height="9.69" fill="#d53e4f"/><rect x="357.09" y="426.50" width="9.46" height="9.69" fill="#d53e4f"/><rect x="366.25" y="426.50" width="9.46" height="9.69" fill="#e36455"/><rect x="375.41" y="426.50" width="9.46" height="9.69" fill="#fdae61"/><rect x="384.57" y="426.50" width="9.46" height="9.69" fill="#fdae61"/><rect x="393.73" y="426.50" width="9.46" height="9.69" fill="#fdae61"/><rect x="402.89" y="426.50" width="9.46" height="9.69" fill="#fdae61"/><rect x="412.05" y="426.50" width="9.46" height="9.69" fill="#fdae61"/><rect x="421.20" y="426.50" width="9.46" height="9.69" fill="#fdae61"/><rect x="430.36" y="426.50" width="9.46" height="9.69" fill="#fdae61"/><rect x="439.52" y="426.50" width="9.46" height="9.69" fill="#fdae61"/><rect x="448.68" y="426.50" width="9.46" height="9.69" fill="#fdae61"/><rect x="457.84" y="426.50" width="9.46" height="9.69" fill="#fdcd7f"/><rect x="265.50" y="435.89" width="9.46" height="9.69" fill="#f98e52"/><rect x="274.66" y="435.89" width="9.46" height="9.69" fill="#f98e52"/><rect x="283.82" y="435.89" width="9.46" height="9.69" fill="#f98f52"/><rect x="292.98" y="435.89" width="9.46" height="9.69" fill="#f8844e"/><rect x="302.14" y="435.89" width="9.46" height="9.69" fill="#f46d43"/><rect x="311.30" y="435.89" width="9.46" height="9.69" fill="#f46d43"/><rect x="320.45" y="435.89" width="9.46" height="9.69" fill="#f46d43"/><rect x="329.61" y="435.89" width="9.46" height="9.69" fill="#e45549"/><rect x="338.77" y="435.89" width="9.46" height="9.69" fill="#d53e4f"/><rect x="347.93" y="435.89" width="9.46" height="9.69" fill="#d53e4f"/><rect x="357.09" y="435.89" width="9.46" height="9.69" fill="#d53e4f"/><rect x="366.25" y="435.89" width="9.46" height="9.69" fill="#d63f4f"/><rect x="375.41" y="435.89" width="9.46" height="9.69" fill="#e46655"/><rect x="384.57" y="435.89" width="9.46" height="9.69" fill="#fdae61"/><rect x="393.73" y="435.89" width="9.46" height="9.69" fill="#fdae61"/><rect x="402.89" y="435.89" width="9.46" height="9.69" fill="#fdae61"/><rect x="412.05" y="435.89" width="9.46" height="9.69" fill="#fdae61"/><rect x="421.20" y="435.89" width="9.46" height="9.69" fill="#fdae61"/><rect x="430.36" y="435.89" width="9.46" height="9.69" fill="#fdae61"/><rect x="439.52" y="435.89" width="9.46" height="9.69" fill="#fdae61"/><rect x="448.68" y="435.89" width="9.46" height="9.69" fill="#fdcc7f"/><rect x="457.84" y="435.89" width="9.46" height="9.69" fill="#feec9e"/><rect x="265.50" y="445.27" width="9.46" height="9.69" fill="#f98e52"/><rect x="274.66" y="445.27" width="9.46" height="9.69" fill="#f98e52"/><rect x="283.82" y="445.27" width="9.46" height="9.69" fill="#f98f52"/><rect x="292.98" y="445.27" width="9.46" height="9.69" fill="#f99053"/><rect x="302.14" y="445.27" width="9.46" height="9.69" fill="#f8864e"/><rect x="311.30" y="445.27" width="9.46" height="9.69" fill="#f46d43"/><rect x="320.45" y="445.27" width="9.46" height="9.69" fill="#f46d43"/><rect x="329.61" y="445.27" width="9.46" height="9.69" fill="#f46d43"/><rect x="338.77" y="445.27" width="9.46" height="9.69" fill="#e45549"/><rect x="347.93" y="445.27" width="9.46" height="9.69" fill="#d53e4f"/><rect x="357.09" y="445.27" width="9.46" height="9.69" fill="#d53e4f"/><rect x="366.25" y="445.27" width="9.46" height="9.69" fill="#d53e4f"/><rect x="375.41" y="445.27" width="9.46" height="9.69" fill="#d7414e"/><rect x="384.57" y="445.27" width="9.46" height="9.69" fill="#e66c55"/><rect x="393.73" y="445.27" width="9.46" height="9.69" fill="#fdae61"/><rect x="402.89" y="445.27" width="9.46" height="9.69" fill="#fdae61"/><rect x="412.05" y="445.27" width="9.46" height="9.69" fill="#fdae61"/><rect x="421.20" y="445.27" width="9.46" height="9.69" fill="#fdae61"/><rect x="430.36" y="445.27" width="9.46" height="9.69" fill="#fdae61"/><rect x="439.52" y="445.27" width="9.46" height="9.69" fill="#fdca7b"/><rect x="448.68" y="445.27" width="9.46" height="9.69" fill="#fee898"/><rect x="457.84" y="445.27" width="9.46" height="9.69" fill="#fef0a5"/><rect x="265.50" y="454.66" width="9.46" height="9.69" fill="#f98e52"/><rect x="274.66" y="454.66" width="9.46" height="9.69" fill="#f98e52"/><rect x="283.82" y="454.66" width="9.46" height="9.69" fill="#f98e52"/><rect x="292.98" y="454.66" width="9.46" height="9.69" fill="#f99053"/><rect x="302.14" y="454.66" width="9.46" height="9.69" fill="#f99254"/><rect x="311.30" y="454.66" width="9.46" height="9.69" fill="#f8884f"/><rect x="320.45" y="454.66" width="9.46" height="9.69" fill="#f46d43"/><rect x="329.61" y="454.66" width="9.46" height="9.69" fill="#f46d43"/><rect x="338.77" y="454.66" width="9.46" height="9.69" fill="#f46d43"/><rect x="347.93" y="454.66" width="9.46" height="9.69" fill="#e3534a"/><rect x="357.09" y="454.66" width="9.46" height="9.69" fill="#d53e4f"/><rect x="366.25" y="454.66" width="9.46" height="9.69" fill="#d53e4f"/><rect x="375.41" y="454.66" width="9.46" height="9.69" fill="#d53e4f"/><rect x="384.57" y="454.66" width="9.46" height="9.69" fill="#da464d"/><rect x="393.73" y="454.66" width="9.46" height="9.69" fill="#ed7c57"/><rect x="402.89" y="454.66" width="9.46" height="9.69" fill="#fdae61"/><rect x="412.05" y="454.66" width="9.46" height="9.69" fill="#fdae61"/><rect x="421.20" y="454.66" width="9.46" height="9.69" fill="#fdc776"/><rect x="430.36" y="454.66" width="9.46" height="9.69" fill="#fdc776"/><rect x="439.52" y="454.66" width="9.46" height="9.69" fill="#fee08b"/><rect x="448.68" y="454.66" width="9.46" height="9.69" fill="#fef0a5"/><rect x="457.84" y="454.66" width="9.46" height="9.69" fill="#fef8b2"/><rect x="265.50" y="464.05" width="9.46" height="9.69" fill="#f98e52"/><rect x="274.66" y="464.05" width="9.46" height="9.69" fill="#f98e52"/><rect x="283.82" y="464.05" width="9.46" height="9.69" fill="#f98e52"/><rect x="292.98" y="464.05" width="9.46" height="9.69" fill="#f98e52"/><rect x="302.14" y="464.05" width="9.46" height="9.69" fill="#fa9254"/><rect x="311.30" y="464.05" width="9.46" height="9.69" fill="#fa9555"/><rect x="320.45" y="464.05" width="9.46" height="9.69" fill="#f88d52"/><rect x="329.61" y="464.05" width="9.46" height="9.69" fill="#f46d43"/><rect x="338.77" y="464.05" width="9.46" height="9.69" fill="#f46d43"/><rect x="347.93" y="464.05" width="9.46" height="9.69" fill="#f46d43"/><rect x="357.09" y="464.05" width="9.46" height="9.69" fill="#df4e4b"/><rect x="366.25" y="464.05" width="9.46" height="9.69" fill="#d53e4f"/><rect x="375.41" y="464.05" width="9.46" height="9.69" fill="#d53e4f"/><rect x="384.57" y="464.05" width="9.46" height="9.69" fill="#d53e4f"/><rect x="393.73" y="464.05" width="9.46" height="9.69" fill="#e5564a"/><rect x="402.89" y="464.05" width="9.46" height="9.69" fill="#fdae61"/><rect x="412.05" y="464.05" width="9.46" height="9.69" fill="#fdc776"/><rect x="421.20" y="464.05" width="9.46" height="9.69" fill="#fdc776"/><rect x="430.36" y="464.05" width="9.46" height="9.69" fill="#fee08b"/><rect x="439.52" y="464.05" width="9.46" height="9.69" fill="#fef0a5"/><rect x="448.68" y="464.05" width="9.46" height="9.69" fill="#ffffbf"/><rect x="457.84" y="464.05" width="9.46" height="9.69" fill="#fffab6"/><rect x="265.50" y="473.43" width="9.46" height="9.69" fill="#f7844e"/><rect x="274.66" y="473.43" width="9.46" height="9.69" fill="#f98d52"/><rect x="283.82" y="473.43" width="9.46" height="9.69" fill="#f98e52"/><rect x="292.98" y="473.43" width="9.46" height="9.69" fill="#f98e52"/><rect x="302.14" y="473.43" width="9.46" height="9.69" fill="#f98e52"/><rect x="311.30" y="473.43" width="9.46" height="9.69" fill="#fa9656"/><rect x="320.45" y="473.43" width="9.46" height="9.69" fill="#fb9a58"/><rect x="329.61" y="473.43" width="9.46" height="9.69" fill="#f99556"/><rect x="338.77" y="473.43" width="9.46" height="9.69" fill="#f46d43"/><rect x="347.93" y="473.43" width="9.46" height="9.69" fill="#f46d43"/><rect x="357.09" y="473.43" width="9.46" height="9.69" fill="#f46d43"/><rect x="366.25" y="473.43" width="9.46" height="9.69" fill="#d53e4f"/><rect x="375.41" y="473.43" width="9.46" height="9.69" fill="#d53e4f"/><rect x="384.57" y="473.43" width="9.46" height="9.69" fill="#e5564a"/><rect x="393.73" y="473.43" width="9.46" height="9.69" fill="#f46d43"/><rect x="402.89" y="473.43" width="9.46" height="9.69" fill="#fdae61"/><rect x="412.05" y="473.43" width="9.46" height="9.69" fill="#fdc776"/><rect x="421.20" y="473.43" width="9.46" height="9.69" fill="#fee08b"/><rect x="430.36" y="473.43" width="9.46" height="9.69" fill="#fee08b"/><rect x="439.52" y="473.43" width="9.46" height="9.69" fill="#fef0a5"/><rect x="448.68" y="473.43" width="9.46" height="9.69" fill="#ffffbf"/><rect x="457.84" y="473.43" width="9.46" height="9.69" fill="#e3f4b6"/><rect x="265.50" y="482.82" width="9.46" height="9.69" fill="#f57547"/><rect x="274.66" y="482.82" width="9.46" height="9.69" fill="#f7814c"/><rect x="283.82" y="482.82" width="9.46" height="9.69" fill="#f88b51"/><rect x="292.98" y="482.82" width="9.46" height="9.69" fill="#f98d51"/><rect x="302.14" y="482.82" width="9.46" height="9.69" fill="#f98e52"/><rect x="311.30" y="482.82" width="9.46" height="9.69" fill="#f98e52"/><rect x="320.45" y="482.82" width="9.46" height="9.69" fill="#fb9e5a"/><rect x="329.61" y="482.82" width="9.46" height="9.69" fill="#fca35c"/><rect x="338.77" y="482.82" width="9.46" height="9.69" fill="#fba45f"/><rect x="347.93" y="482.82" width="9.46" height="9.69" fill="#f46d43"/><rect x="357.09" y="482.82" width="9.46" height="9.69" fill="#f46d43"/><rect x="366.25" y="482.82" width="9.46" height="9.69" fill="#e5564a"/><rect x="375.41" y="482.82" width="9.46" height="9.69" fill="#d53e4f"/><rect x="384.57" y="482.82" width="9.46" height="9.69" fill="#b81e4a"/><rect x="393.73" y="482.82" width="9.46" height="9.69" fill="#f46d43"/><rect x="402.89" y="482.82" width="9.46" height="9.69" fill="#fee08b"/><rect x="412.05" y="482.82" width="9.46" height="9.69" fill="#e6f598"/><rect x="421.20" y="482.82" width="9.46" height="9.69" fill="#c8e99e"/><rect x="430.36" y="482.82" width="9.46" height="9.69" fill="#c8e99e"/><rect x="439.52" y="482.82" width="9.46" height="9.69" fill="#c8e99e"/><rect x="448.68" y="482.82" width="9.46" height="9.69" fill="#abdda4"/><rect x="457.84" y="482.82" width="9.46" height="9.69" fill="#b0dfad"/><rect x="265.50" y="492.20" width="9.46" height="9.69" fill="#f57346"/><rect x="274.66" y="492.20" width="9.46" height="9.69" fill="#f57748"/><rect x="283.82" y="492.20" width="9.46" height="9.69" fill="#f7824d"/><rect x="292.98" y="492.20" width="9.46" height="9.69" fill="#f78750"/><rect x="302.14" y="492.20" width="9.46" height="9.69" fill="#f88a50"/><rect x="311.30" y="492.20" width="9.46" height="9.69" fill="#f98e52"/><rect x="320.45" y="492.20" width="9.46" height="9.69" fill="#f98e52"/><rect x="329.61" y="492.20" width="9.46" height="9.69" fill="#fdae61"/><rect x="338.77" y="492.20" width="9.46" height="9.69" fill="#fdae61"/><rect x="347.93" y="492.20" width="9.46" height="9.69" fill="#fdc776"/><rect x="357.09" y="492.20" width="9.46" height="9.69" fill="#f98e52"/><rect x="366.25" y="492.20" width="9.46" height="9.69" fill="#f46d43"/><rect x="375.41" y="492.20" width="9.46" height="9.69" fill="#d53e4f"/><rect x="384.57" y="492.20" width="9.46" height="9.69" fill="#b81e4a"/><rect x="393.73" y="492.20" width="9.46" height="9.69" fill="#d53e4f"/><rect x="402.89" y="492.20" width="9.46" height="9.69" fill="#e6f598"/><rect x="412.05" y="492.20" width="9.46" height="9.69" fill="#4ca5b1"/><rect x="421.20" y="492.20" width="9.46" height="9.69" fill="#4ca5b1"/><rect x="430.36" y="492.20" width="9.46" height="9.69" fill="#3288bd"/><rect x="439.52" y="492.20" width="9.46" height="9.69" fill="#4ca5b1"/><rect x="448.68" y="492.20" width="9.46" height="9.69" fill="#66c2a5"/><rect x="457.84" y="492.20" width="9.46" height="9.69" fill="#a6dbab"/><rect x="265.50" y="501.59" width="9.46" height="9.69" fill="#f47145"/><rect x="274.66" y="501.59" width="9.46" height="9.69" fill="#f57547"/><rect x="283.82" y="501.59" width="9.46" height="9.69" fill="#f67f4b"/><rect x="292.98" y="501.59" width="9.46" height="9.69" fill="#f6824e"/><rect x="302.14" y="501.59" width="9.46" height="9.69" fill="#f47e4e"/><rect x="311.30" y="501.59" width="9.46" height="9.69" fill="#f7834d"/><rect x="320.45" y="501.59" width="9.46" height="9.69" fill="#f98e52"/><rect x="329.61" y="501.59" width="9.46" height="9.69" fill="#fdae61"/><rect x="338.77" y="501.59" width="9.46" height="9.69" fill="#fdc776"/><rect x="347.93" y="501.59" width="9.46" height="9.69" fill="#fdc776"/><rect x="357.09" y="501.59" width="9.46" height="9.69" fill="#fee08b"/><rect x="366.25" y="501.59" width="9.46" height="9.69" fill="#fdae61"/><rect x="375.41" y="501.59" width="9.46" height="9.69" fill="#e5564a"/><rect x="384.57" y="501.59" width="9.46" height="9.69" fill="#d53e4f"/><rect x="393.73" y="501.59" width="9.46" height="9.69" fill="#f46d43"/><rect x="402.89" y="501.59" width="9.46" height="9.69" fill="#ffffbf"/><rect x="412.05" y="501.59" width="9.46" height="9.69" fill="#4ca5b1"/><rect x="421.20" y="501.59" width="9.46" height="9.69" fill="#3288bd"/><rect x="430.36" y="501.59" width="9.46" height="9.69" fill="#3288bd"/><rect x="439.52" y="501.59" width="9.46" height="9.69" fill="#4ca5b1"/><rect x="448.68" y="501.59" width="9.46" height="9.69" fill="#88cfa4"/><rect x="457.84" y="501.59" width="9.46" height="9.69" fill="#ffffbf"/><rect x="265.50" y="510.98" width="9.46" height="9.69" fill="#f46d43"/><rect x="274.66" y="510.98" width="9.46" height="9.69" fill="#f57446"/><rect x="283.82" y="510.98" width="9.46" height="9.69" fill="#f67f4b"/><rect x="292.98" y="510.98" width="9.46" height="9.69" fill="#f88a50"/><rect x="302.14" y="510.98" width="9.46" height="9.69" fill="#f2794e"/><rect x="311.30" y="510.98" width="9.46" height="9.69" fill="#eb684c"/><rect x="320.45" y="510.98" width="9.46" height="9.69" fill="#f46d43"/><rect x="329.61" y="510.98" width="9.46" height="9.69" fill="#f98e52"/><rect x="338.77" y="510.98" width="9.46" height="9.69" fill="#fdae61"/><rect x="347.93" y="510.98" width="9.46" height="9.69" fill="#fee08b"/><rect x="357.09" y="510.98" width="9.46" height="9.69" fill="#fef0a5"/><rect x="366.25" y="510.98" width="9.46" height="9.69" fill="#fdc776"/><rect x="375.41" y="510.98" width="9.46" height="9.69" fill="#e5564a"/><rect x="384.57" y="510.98" width="9.46" height="9.69" fill="#d53e4f"/><rect x="393.73" y="510.98" width="9.46" height="9.69" fill="#f98e52"/><rect x="402.89" y="510.98" width="9.46" height="9.69" fill="#ffffbf"/><rect x="412.05" y="510.98" width="9.46" height="9.69" fill="#66c2a5"/><rect x="421.20" y="510.98" width="9.46" height="9.69" fill="#4ca5b1"/><rect x="430.36" y="510.98" width="9.46" height="9.69" fill="#4ca5b1"/><rect x="439.52" y="510.98" width="9.46" height="9.69" fill="#abdda4"/><rect x="448.68" y="510.98" width="9.46" height="9.69" fill="#ffffbf"/><rect x="457.84" y="510.98" width="9.46" height="9.69" fill="#fef0a5"/><rect x="265.50" y="520.36" width="9.46" height="9.69" fill="#f46d43"/><rect x="274.66" y="520.36" width="9.46" height="9.69" fill="#f46d43"/><rect x="283.82" y="520.36" width="9.46" height="9.69" fill="#f7834d"/><rect x="292.98" y="520.36" width="9.46" height="9.69" fill="#f88e52"/><rect x="302.14" y="520.36" width="9.46" height="9.69" fill="#f88e52"/><rect x="311.30" y="520.36" width="9.46" height="9.69" fill="#e45649"/><rect x="320.45" y="520.36" width="9.46" height="9.69" fill="#d53e4f"/><rect x="329.61" y="520.36" width="9.46" height="9.69" fill="#e5564a"/><rect x="338.77" y="520.36" width="9.46" height="9.69" fill="#fdae61"/><rect x="347.93" y="520.36" width="9.46" height="9.69" fill="#fee08b"/><rect x="357.09" y="520.36" width="9.46" height="9.69" fill="#fdc776"/><rect x="366.25" y="520.36" width="9.46" height="9.69" fill="#fdae61"/><rect x="375.41" y="520.36" width="9.46" height="9.69" fill="#f46d43"/><rect x="384.57" y="520.36" width="9.46" height="9.69" fill="#f46d43"/><rect x="393.73" y="520.36" width="9.46" height="9.69" fill="#fdae61"/><rect x="402.89" y="520.36" width="9.46" height="9.69" fill="#fee08b"/><rect x="412.05" y="520.36" width="9.46" height="9.69" fill="#abdda4"/><rect x="421.20" y="520.36" width="9.46" height="9.69" fill="#ffffbf"/><rect x="430.36" y="520.36" width="9.46" height="9.69" fill="#f46d43"/><rect x="439.52" y="520.36" width="9.46" height="9.69" fill="#f46d43"/><rect x="448.68" y="520.36" width="9.46" height="9.69" fill="#f46d43"/><rect x="457.84" y="520.36" width="9.46" height="9.69" fill="#f98e52"/><rect x="265.50" y="529.75" width="9.46" height="9.69" fill="#f46d43"/><rect x="274.66" y="529.75" width="9.46" height="9.69" fill="#f46d43"/><rect x="283.82" y="529.75" width="9.46" height="9.69" fill="#f46d43"/><rect x="292.98" y="529.75" width="9.46" height="9.69" fill="#fdae61"/><rect x="302.14" y="529.75" width="9.46" height="9.69" fill="#f17e51"/><rect x="311.30" y="529.75" width="9.46" height="9.69" fill="#f46d43"/><rect x="320.45" y="529.75" width="9.46" height="9.69" fill="#d53e4f"/><rect x="329.61" y="529.75" width="9.46" height="9.69" fill="#f46d43"/><rect x="338.77" y="529.75" width="9.46" height="9.69" fill="#f98e52"/><rect x="347.93" y="529.75" width="9.46" height="9.69" fill="#f98e52"/><rect x="357.09" y="529.75" width="9.46" height="9.69" fill="#fdae61"/><rect x="366.25" y="529.75" width="9.46" height="9.69" fill="#f98e52"/><rect x="375.41" y="529.75" width="9.46" height="9.69" fill="#f46d43"/><rect x="384.57" y="529.75" width="9.46" height="9.69" fill="#f46d43"/><rect x="393.73" y="529.75" width="9.46" height="9.69" fill="#f46d43"/><rect x="402.89" y="529.75" width="9.46" height="9.69" fill="#e5564a"/><rect x="412.05" y="529.75" width="9.46" height="9.69" fill="#d53e4f"/><rect x="421.20" y="529.75" width="9.46" height="9.69" fill="#e5564a"/><rect x="430.36" y="529.75" width="9.46" height="9.69" fill="#f46d43"/><rect x="439.52" y="529.75" width="9.46" height="9.69" fill="#f98e52"/><rect x="448.68" y="529.75" width="9.46" height="9.69" fill="#f46d43"/><rect x="457.84" y="529.75" width="9.46" height="9.69" fill="#f98e52"/><rect x="265.50" y="539.14" width="9.46" height="9.69" fill="#f67d4a"/><rect x="274.66" y="539.14" width="9.46" height="9.69" fill="#f46d43"/><rect x="283.82" y="539.14" width="9.46" height="9.69" fill="#fdae61"/><rect x="292.98" y="539.14" width="9.46" height="9.69" fill="#fdae61"/><rect x="302.14" y="539.14" width="9.46" height="9.69" fill="#f46d43"/><rect x="311.30" y="539.14" width="9.46" height="9.69" fill="#d53e4f"/><rect x="320.45" y="539.14" width="9.46" height="9.69" fill="#d53e4f"/><rect x="329.61" y="539.14" width="9.46" height="9.69" fill="#f46d43"/><rect x="338.77" y="539.14" width="9.46" height="9.69" fill="#f46d43"/><rect x="347.93" y="539.14" width="9.46" height="9.69" fill="#f98e52"/><rect x="357.09" y="539.14" width="9.46" height="9.69" fill="#f98e52"/><rect x="366.25" y="539.14" width="9.46" height="9.69" fill="#f46d43"/><rect x="375.41" y="539.14" width="9.46" height="9.69" fill="#f46d43"/><rect x="384.57" y="539.14" width="9.46" height="9.69" fill="#f98e52"/><rect x="393.73" y="539.14" width="9.46" height="9.69" fill="#f46d43"/><rect x="402.89" y="539.14" width="9.46" height="9.69" fill="#d53e4f"/><rect x="412.05" y="539.14" width="9.46" height="9.69" fill="#b81e4a"/><rect x="421.20" y="539.14" width="9.46" height="9.69" fill="#d53e4f"/><rect x="430.36" y="539.14" width="9.46" height="9.69" fill="#e5564a"/><rect x="439.52" y="539.14" width="9.46" height="9.69" fill="#f46d43"/><rect x="448.68" y="539.14" width="9.46" height="9.69" fill="#f46d43"/><rect x="457.84" y="539.14" width="9.46" height="9.69" fill="#f46d43"/><rect x="265.50" y="548.52" width="9.46" height="9.69" fill="#fdae61"/><rect x="274.66" y="548.52" width="9.46" height="9.69" fill="#f46d43"/><rect x="283.82" y="548.52" width="9.46" height="9.69" fill="#fdae61"/><rect x="292.98" y="548.52" width="9.46" height="9.69" fill="#f46d43"/><rect x="302.14" y="548.52" width="9.46" height="9.69" fill="#f46d43"/><rect x="311.30" y="548.52" width="9.46" height="9.69" fill="#d53e4f"/><rect x="320.45" y="548.52" width="9.46" height="9.69" fill="#f46d43"/><rect x="329.61" y="548.52" width="9.46" height="9.69" fill="#f46d43"/><rect x="338.77" y="548.52" width="9.46" height="9.69" fill="#f46d43"/><rect x="347.93" y="548.52" width="9.46" height="9.69" fill="#f98e52"/><rect x="357.09" y="548.52" width="9.46" height="9.69" fill="#f98e52"/><rect x="366.25" y="548.52" width="9.46" height="9.69" fill="#f46d43"/><rect x="375.41" y="548.52" width="9.46" height="9.69" fill="#f46d43"/><rect x="384.57" y="548.52" width="9.46" height="9.69" fill="#f98e52"/><rect x="393.73" y="548.52" width="9.46" height="9.69" fill="#f46d43"/><rect x="402.89" y="548.52" width="9.46" height="9.69" fill="#d53e4f"/><rect x="412.05" y="548.52" width="9.46" height="9.69" fill="#d53e4f"/><rect x="421.20" y="548.52" width="9.46" height="9.69" fill="#d53e4f"/><rect x="430.36" y="548.52" width="9.46" height="9.69" fill="#f46d43"/><rect x="439.52" y="548.52" width="9.46" height="9.69" fill="#f46d43"/><rect x="448.68" y="548.52" width="9.46" height="9.69" fill="#f46d43"/><rect x="457.84" y="548.52" width="9.46" height="9.69" fill="#f46d43"/><rect x="265.50" y="557.91" width="9.46" height="9.69" fill="#f88e52"/><rect x="274.66" y="557.91" width="9.46" height="9.69" fill="#f46d43"/><rect x="283.82" y="557.91" width="9.46" height="9.69" fill="#f46d43"/><rect x="292.98" y="557.91" width="9.46" height="9.69" fill="#d53e4f"/><rect x="302.14" y="557.91" width="9.46" height="9.69" fill="#d53e4f"/><rect x="311.30" y="557.91" width="9.46" height="9.69" fill="#f46d43"/><rect x="320.45" y="557.91" width="9.46" height="9.69" fill="#f46d43"/><rect x="329.61" y="557.91" width="9.46" height="9.69" fill="#f46d43"/><rect x="338.77" y="557.91" width="9.46" height="9.69" fill="#f98e52"/><rect x="347.93" y="557.91" width="9.46" height="9.69" fill="#f46d43"/><rect x="357.09" y="557.91" width="9.46" height="9.69" fill="#f46d43"/><rect x="366.25" y="557.91" width="9.46" height="9.69" fill="#f98e52"/><rect x="375.41" y="557.91" width="9.46" height="9.69" fill="#f46d43"/><rect x="384.57" y="557.91" width="9.46" height="9.69" fill="#f46d43"/><rect x="393.73" y="557.91" width="9.46" height="9.69" fill="#f46d43"/><rect x="402.89" y="557.91" width="9.46" height="9.69" fill="#d53e4f"/><rect x="412.05" y="557.91" width="9.46" height="9.69" fill="#d53e4f"/><rect x="421.20" y="557.91" width="9.46" height="9.69" fill="#f46d43"/><rect x="430.36" y="557.91" width="9.46" height="9.69" fill="#ee6445"/><rect x="439.52" y="557.91" width="9.46" height="9.69" fill="#e85a48"/><rect x="448.68" y="557.91" width="9.46" height="9.69" fill="#d53e4f"/><rect x="457.84" y="557.91" width="9.46" height="9.69" fill="#e45649"/><rect x="265.50" y="567.30" width="9.46" height="9.69" fill="#f7834d"/><rect x="274.66" y="567.30" width="9.46" height="9.69" fill="#fdae61"/><rect x="283.82" y="567.30" width="9.46" height="9.69" fill="#e6604e"/><rect x="292.98" y="567.30" width="9.46" height="9.69" fill="#d53e4f"/><rect x="302.14" y="567.30" width="9.46" height="9.69" fill="#b81e4a"/><rect x="311.30" y="567.30" width="9.46" height="9.69" fill="#d53e4f"/><rect x="320.45" y="567.30" width="9.46" height="9.69" fill="#f46d43"/><rect x="329.61" y="567.30" width="9.46" height="9.69" fill="#f46d43"/><rect x="338.77" y="567.30" width="9.46" height="9.69" fill="#f98e52"/><rect x="347.93" y="567.30" width="9.46" height="9.69" fill="#fdae61"/><rect x="357.09" y="567.30" width="9.46" height="9.69" fill="#f98e52"/><rect x="366.25" y="567.30" width="9.46" height="9.69" fill="#f46d43"/><rect x="375.41" y="567.30" width="9.46" height="9.69" fill="#f46d43"/><rect x="384.57" y="567.30" width="9.46" height="9.69" fill="#f46d43"/><rect x="393.73" y="567.30" width="9.46" height="9.69" fill="#f46d43"/><rect x="402.89" y="567.30" width="9.46" height="9.69" fill="#f46d43"/><rect x="412.05" y="567.30" width="9.46" height="9.69" fill="#f46d43"/><rect x="421.20" y="567.30" width="9.46" height="9.69" fill="#f46d43"/><rect x="430.36" y="567.30" width="9.46" height="9.69" fill="#f7834d"/><rect x="439.52" y="567.30" width="9.46" height="9.69" fill="#d53e4f"/><rect x="448.68" y="567.30" width="9.46" height="9.69" fill="#d53e4f"/><rect x="457.84" y="567.30" width="9.46" height="9.69" fill="#d53e4f"/><rect x="265.50" y="576.68" width="9.46" height="9.69" fill="#f46d43"/><rect x="274.66" y="576.68" width="9.46" height="9.69" fill="#fa9857"/><rect x="283.82" y="576.68" width="9.46" height="9.69" fill="#eb7454"/><rect x="292.98" y="576.68" width="9.46" height="9.69" fill="#d53e4f"/><rect x="302.14" y="576.68" width="9.46" height="9.69" fill="#b81e4a"/><rect x="311.30" y="576.68" width="9.46" height="9.69" fill="#d53e4f"/><rect x="320.45" y="576.68" width="9.46" height="9.69" fill="#f46d43"/><rect x="329.61" y="576.68" width="9.46" height="9.69" fill="#f98e52"/><rect x="338.77" y="576.68" width="9.46" height="9.69" fill="#f98e52"/><rect x="347.93" y="576.68" width="9.46" height="9.69" fill="#f46d43"/><rect x="357.09" y="576.68" width="9.46" height="9.69" fill="#f46d43"/><rect x="366.25" y="576.68" width="9.46" height="9.69" fill="#f46d43"/><rect x="375.41" y="576.68" width="9.46" height="9.69" fill="#f46d43"/><rect x="384.57" y="576.68" width="9.46" height="9.69" fill="#fdc776"/><rect x="393.73" y="576.68" width="9.46" height="9.69" fill="#f46d43"/><rect x="402.89" y="576.68" width="9.46" height="9.69" fill="#f46d43"/><rect x="412.05" y="576.68" width="9.46" height="9.69" fill="#f98e52"/><rect x="421.20" y="576.68" width="9.46" height="9.69" fill="#fdae61"/><rect x="430.36" y="576.68" width="9.46" height="9.69" fill="#f2b069"/><rect x="439.52" y="576.68" width="9.46" height="9.69" fill="#d53e4f"/><rect x="448.68" y="576.68" width="9.46" height="9.69" fill="#d53e4f"/><rect x="457.84" y="576.68" width="9.46" height="9.69" fill="#d53e4f"/><rect x="265.50" y="586.07" width="9.46" height="9.69" fill="#fab681"/><rect x="274.66" y="586.07" width="9.46" height="9.69" fill="#fbb376"/><rect x="283.82" y="586.07" width="9.46" height="9.69" fill="#fdae61"/><rect x="292.98" y="586.07" width="9.46" height="9.69" fill="#f46d43"/><rect x="302.14" y="586.07" width="9.46" height="9.69" fill="#d53e4f"/><rect x="311.30" y="586.07" width="9.46" height="9.69" fill="#d53e4f"/><rect x="320.45" y="586.07" width="9.46" height="9.69" fill="#d53e4f"/><rect x="329.61" y="586.07" width="9.46" height="9.69" fill="#f46d43"/><rect x="338.77" y="586.07" width="9.46" height="9.69" fill="#f46d43"/><rect x="347.93" y="586.07" width="9.46" height="9.69" fill="#f46d43"/><rect x="357.09" y="586.07" width="9.46" height="9.69" fill="#f46d43"/><rect x="366.25" y="586.07" width="9.46" height="9.69" fill="#e5564a"/><rect x="375.41" y="586.07" width="9.46" height="9.69" fill="#f98e52"/><rect x="384.57" y="586.07" width="9.46" height="9.69" fill="#fdc776"/><rect x="393.73" y="586.07" width="9.46" height="9.69" fill="#fdae61"/><rect x="402.89" y="586.07" width="9.46" height="9.69" fill="#fdae61"/><rect x="412.05" y="586.07" width="9.46" height="9.69" fill="#fdc776"/><rect x="421.20" y="586.07" width="9.46" height="9.69" fill="#e6f598"/><rect x="430.36" y="586.07" width="9.46" height="9.69" fill="#c3cc8a"/><rect x="439.52" y="586.07" width="9.46" height="9.69" fill="#d53e4f"/><rect x="448.68" y="586.07" width="9.46" height="9.69" fill="#d53e4f"/><rect x="457.84" y="586.07" width="9.46" height="9.69" fill="#d53e4f"/><rect x="265.50" y="595.45" width="9.46" height="9.69" fill="#ffffbf"/><rect x="274.66" y="595.45" width="9.46" height="9.69" fill="#ffffbf"/><rect x="283.82" y="595.45" width="9.46" height="9.69" fill="#fcc688"/><rect x="292.98" y="595.45" width="9.46" height="9.69" fill="#ed7351"/><rect x="302.14" y="595.45" width="9.46" height="9.69" fill="#df4e4b"/><rect x="311.30" y="595.45" width="9.46" height="9.69" fill="#db474d"/><rect x="320.45" y="595.45" width="9.46" height="9.69" fill="#f46d43"/><rect x="329.61" y="595.45" width="9.46" height="9.69" fill="#f46d43"/><rect x="338.77" y="595.45" width="9.46" height="9.69" fill="#f46d43"/><rect x="347.93" y="595.45" width="9.46" height="9.69" fill="#f46d43"/><rect x="357.09" y="595.45" width="9.46" height="9.69" fill="#f46d43"/><rect x="366.25" y="595.45" width="9.46" height="9.69" fill="#f46d43"/><rect x="375.41" y="595.45" width="9.46" height="9.69" fill="#f7995f"/><rect x="384.57" y="595.45" width="9.46" height="9.69" fill="#fee08b"/><rect x="393.73" y="595.45" width="9.46" height="9.69" fill="#fee08b"/><rect x="402.89" y="595.45" width="9.46" height="9.69" fill="#ffffbf"/><rect x="412.05" y="595.45" width="9.46" height="9.69" fill="#e6f598"/><rect x="421.20" y="595.45" width="9.46" height="9.69" fill="#66c2a5"/><rect x="430.36" y="595.45" width="9.46" height="9.69" fill="#91d3a1"/><rect x="439.52" y="595.45" width="9.46" height="9.69" fill="#ae937c"/><rect x="448.68" y="595.45" width="9.46" height="9.69" fill="#d53e4f"/><rect x="457.84" y="595.45" width="9.46" height="9.69" fill="#d53e4f"/><rect x="265.50" y="604.84" width="9.46" height="9.69" fill="#ffffbf"/><rect x="274.66" y="604.84" width="9.46" height="9.69" fill="#ffffbf"/><rect x="283.82" y="604.84" width="9.46" height="9.69" fill="#ffffbf"/><rect x="292.98" y="604.84" width="9.46" height="9.69" fill="#f4b487"/><rect x="302.14" y="604.84" width="9.46" height="9.69" fill="#e0524d"/><rect x="311.30" y="604.84" width="9.46" height="9.69" fill="#e45649"/><rect x="320.45" y="604.84" width="9.46" height="9.69" fill="#d53e4f"/><rect x="329.61" y="604.84" width="9.46" height="9.69" fill="#f46d43"/><rect x="338.77" y="604.84" width="9.46" height="9.69" fill="#f46d43"/><rect x="347.93" y="604.84" width="9.46" height="9.69" fill="#f46d43"/><rect x="357.09" y="604.84" width="9.46" height="9.69" fill="#f46d43"/><rect x="366.25" y="604.84" width="9.46" height="9.69" fill="#f46d43"/><rect x="375.41" y="604.84" width="9.46" height="9.69" fill="#f9a062"/><rect x="384.57" y="604.84" width="9.46" height="9.69" fill="#fdc776"/><rect x="393.73" y="604.84" width="9.46" height="9.69" fill="#fdc776"/><rect x="402.89" y="604.84" width="9.46" height="9.69" fill="#ffffbf"/><rect x="412.05" y="604.84" width="9.46" height="9.69" fill="#e6f598"/><rect x="421.20" y="604.84" width="9.46" height="9.69" fill="#66c2a5"/><rect x="430.36" y="604.84" width="9.46" height="9.69" fill="#66c2a5"/><rect x="439.52" y="604.84" width="9.46" height="9.69" fill="#74c8a4"/><rect x="448.68" y="604.84" width="9.46" height="9.69" fill="#a4857a"/><rect x="457.84" y="604.84" width="9.46" height="9.69" fill="#d53e4f"/><rect x="265.50" y="614.23" width="9.46" height="9.69" fill="#ffffbf"/><rect x="274.66" y="614.23" width="9.46" height="9.69" fill="#ffffbf"/><rect x="283.82" y="614.23" width="9.46" height="9.69" fill="#ffffbf"/><rect x="292.98" y="614.23" width="9.46" height="9.69" fill="#ffffbf"/><rect x="302.14" y="614.23" width="9.46" height="9.69" fill="#dd4a4c"/><rect x="311.30" y="614.23" width="9.46" height="9.69" fill="#d53e4f"/><rect x="320.45" y="614.23" width="9.46" height="9.69" fill="#e45649"/><rect x="329.61" y="614.23" width="9.46" height="9.69" fill="#ea5d47"/><rect x="338.77" y="614.23" width="9.46" height="9.69" fill="#f46d43"/><rect x="347.93" y="614.23" width="9.46" height="9.69" fill="#f46d43"/><rect x="357.09" y="614.23" width="9.46" height="9.69" fill="#f46d43"/><rect x="366.25" y="614.23" width="9.46" height="9.69" fill="#f46d43"/><rect x="375.41" y="614.23" width="9.46" height="9.69" fill="#f89a5c"/><rect x="384.57" y="614.23" width="9.46" height="9.69" fill="#fdc776"/><rect x="393.73" y="614.23" width="9.46" height="9.69" fill="#feda8e"/><rect x="402.89" y="614.23" width="9.46" height="9.69" fill="#f6e99a"/><rect x="412.05" y="614.23" width="9.46" height="9.69" fill="#c4e7a9"/><rect x="421.20" y="614.23" width="9.46" height="9.69" fill="#a6dc9e"/><rect x="430.36" y="614.23" width="9.46" height="9.69" fill="#66c2a5"/><rect x="439.52" y="614.23" width="9.46" height="9.69" fill="#66c2a5"/><rect x="448.68" y="614.23" width="9.46" height="9.69" fill="#6bc4a5"/><rect x="457.84" y="614.23" width="9.46" height="9.69" fill="#929285"/><rect x="265.50" y="623.61" width="9.46" height="9.69" fill="#ffffbf"/><rect x="274.66" y="623.61" width="9.46" height="9.69" fill="#ffffbf"/><rect x="283.82" y="623.61" width="9.46" height="9.69" fill="#ffffbf"/><rect x="292.98" y="623.61" width="9.46" height="9.69" fill="#ffffbf"/><rect x="302.14" y="623.61" width="9.46" height="9.69" fill="#d53e4f"/><rect x="311.30" y="623.61" width="9.46" height="9.69" fill="#dd4a4c"/><rect x="320.45" y="623.61" width="9.46" height="9.69" fill="#e1504a"/><rect x="329.61" y="623.61" width="9.46" height="9.69" fill="#eb6046"/><rect x="338.77" y="623.61" width="9.46" height="9.69" fill="#f16844"/><rect x="347.93" y="623.61" width="9.46" height="9.69" fill="#f46d43"/><rect x="357.09" y="623.61" width="9.46" height="9.69" fill="#f46d43"/><rect x="366.25" y="623.61" width="9.46" height="9.69" fill="#f67c4c"/><rect x="375.41" y="623.61" width="9.46" height="9.69" fill="#f89a5c"/><rect x="384.57" y="623.61" width="9.46" height="9.69" fill="#fcbe76"/><rect x="393.73" y="623.61" width="9.46" height="9.69" fill="#fbd98a"/><rect x="402.89" y="623.61" width="9.46" height="9.69" fill="#e8e39b"/><rect x="412.05" y="623.61" width="9.46" height="9.69" fill="#cbe4a0"/><rect x="421.20" y="623.61" width="9.46" height="9.69" fill="#9bd7a4"/><rect x="430.36" y="623.61" width="9.46" height="9.69" fill="#86cfa2"/><rect x="439.52" y="623.61" width="9.46" height="9.69" fill="#66c2a5"/><rect x="448.68" y="623.61" width="9.46" height="9.69" fill="#66c2a5"/><rect x="457.84" y="623.61" width="9.46" height="9.69" fill="#68c3a5"/></g></g>
<rect x="326" y="443.9" width="7.50" height="7.40" fill="#fee08b"/>
<rect x="358.5" y="451.3" width="7.30" height="3.30" fill="#d53e4f"/>
<rect x="365.8" y="444.8" width="3.30" height="9.80" fill="#d53e4f"/>
<rect x="369.9" y="440.7" width="3.30" height="3.30" fill="#d53e4f"/>
<rect x="372.4" y="444.8" width="4.00" height="13.90" fill="#f46d43"/>
<rect x="356" y="477.5" width="10.00" height="3.30" fill="#f46d43"/>
<rect x="333.5" y="481.1" width="3.00" height="3.70" fill="#fdae61"/>
<rect x="337.2" y="477.4" width="3.00" height="2.90" fill="#fdae61"/>
<rect x="337.2" y="466.2" width="3.00" height="3.70" fill="#f46d43"/>
<rect x="285.8" y="514.6" width="4.50" height="3.70" fill="#d53e4f"/>
<rect x="282.9" y="518.3" width="3.70" height="11.20" fill="#f46d43"/>
<rect x="315.6" y="522" width="3.00" height="7.50" fill="#d53e4f"/>
<rect x="384.6" y="452.2" width="5.70" height="5.80" fill="#fdae61"/>
<rect x="340.5" y="455.2" width="14.10" height="4.30" fill="#f46d43"/>
<rect x="344.8" y="459.5" width="5.50" height="4.30" fill="#f46d43"/>
<rect x="340.5" y="463.8" width="14.10" height="3.70" fill="#f46d43"/>
<rect x="351.4" y="466.2" width="2.90" height="3.70" fill="#f46d43"/>
<rect x="307" y="477.4" width="9.00" height="11.10" fill="#e6f598"/>
<rect x="318.6" y="481" width="7.40" height="10.50" fill="#ffffbf"/>
<rect x="419.8" y="614.2" width="7.30" height="7.20" fill="#66c2a5"/>
<rect x="365.8" y="614.2" width="3.30" height="3.90" fill="#f46d43"/>
<g clip-path="url(#pD)" fill="none"><ellipse cx="266" cy="529.75" rx="38.4" ry="36.2" stroke="#000" stroke-width="2.8"/><ellipse cx="266" cy="529.75" rx="73.8" ry="69.7" stroke="#e8141c" stroke-width="3"/></g>
<rect x="265.5" y="426.5" width="201.5" height="206.5" fill="none" stroke="#2e2e2e" stroke-width="1.45"/>
<path d="M265.5,426.5v-2.4M265.5,633.0v2.4M311.0,426.5v-2.4M311.0,633.0v2.4M356.5,426.5v-2.4M356.5,633.0v2.4M402.0,426.5v-2.4M402.0,633.0v2.4M447.5,426.5v-2.4M447.5,633.0v2.4M265.5,443.8h-2.4M467.0,443.8h2.4M265.5,486.8h-2.4M467.0,486.8h2.4M265.5,529.8h-2.4M467.0,529.8h2.4M265.5,572.8h-2.4M467.0,572.8h2.4M265.5,615.8h-2.4M467.0,615.8h2.4" stroke="#2e2e2e" stroke-width="1" fill="none"/>
<path d="M257.2,529.75h17.6M266,520.95v17.6" stroke="#000" stroke-width="3.2"/>
<rect x="479" y="232" width="12" height="279.5" fill="url(#cb)" stroke="#444" stroke-width="1"/>
<path d="M491,237.2h-2.6M491,247.3h-2.6M491,258.6h-2.6M491,270.8h-2.6M491,283.3h-2.6M491,300.3h-2.6M491,321h-2.6M491,363.6h-2.6M491,423h-2.6M491,443.4h-2.6M491,460.1h-2.6M491,474.4h-2.6M491,486.5h-2.6M491,497.1h-2.6M491,507.2h-2.6" stroke="#333" stroke-width="1"/>
<g fill="#3b7fc0"><circle cx="66.4" cy="869.1" r="2.05"/><circle cx="44.0" cy="870.0" r="2.05"/><circle cx="51.8" cy="874.2" r="2.05"/><circle cx="42.9" cy="877.2" r="2.05"/><circle cx="43.9" cy="874.0" r="2.05"/><circle cx="46.1" cy="873.0" r="2.05"/><circle cx="39.2" cy="877.8" r="2.05"/><circle cx="45.9" cy="874.8" r="2.05"/><circle cx="40.2" cy="875.4" r="2.05"/><circle cx="77.9" cy="877.7" r="2.05"/><circle cx="50.0" cy="877.4" r="2.05"/><circle cx="44.8" cy="868.6" r="2.05"/><circle cx="45.5" cy="873.0" r="2.05"/><circle cx="42.0" cy="869.9" r="2.05"/><circle cx="38.5" cy="876.7" r="2.05"/><circle cx="44.5" cy="877.3" r="2.05"/><circle cx="52.3" cy="872.5" r="2.05"/><circle cx="45.9" cy="871.7" r="2.05"/><circle cx="56.6" cy="876.4" r="2.05"/><circle cx="46.2" cy="870.5" r="2.05"/><circle cx="48.2" cy="869.3" r="2.05"/><circle cx="61.9" cy="876.4" r="2.05"/><circle cx="52.9" cy="871.9" r="2.05"/><circle cx="43.5" cy="872.8" r="2.05"/><circle cx="46.4" cy="871.2" r="2.05"/><circle cx="52.9" cy="868.1" r="2.05"/><circle cx="65.4" cy="867.3" r="2.05"/><circle cx="45.6" cy="876.6" r="2.05"/><circle cx="45.8" cy="878.3" r="2.05"/><circle cx="57.0" cy="874.0" r="2.05"/><circle cx="40.0" cy="875.7" r="2.05"/><circle cx="45.4" cy="874.6" r="2.05"/><circle cx="55.9" cy="874.7" r="2.05"/><circle cx="53.2" cy="866.4" r="2.05"/><circle cx="48.8" cy="871.7" r="2.05"/><circle cx="54.0" cy="874.6" r="2.05"/><circle cx="46.5" cy="870.1" r="2.05"/><circle cx="57.2" cy="871.6" r="2.05"/><circle cx="39.4" cy="869.9" r="2.05"/><circle cx="36.0" cy="872.3" r="2.05"/><circle cx="50.5" cy="878.3" r="2.05"/><circle cx="54.3" cy="872.0" r="2.05"/><circle cx="44.0" cy="873.2" r="2.05"/><circle cx="38.3" cy="878.1" r="2.05"/><circle cx="48.2" cy="877.2" r="2.05"/><circle cx="47.5" cy="875.7" r="2.05"/><circle cx="60.7" cy="863.5" r="2.05"/><circle cx="54.7" cy="878.3" r="2.05"/><circle cx="49.7" cy="871.6" r="2.05"/><circle cx="58.0" cy="874.7" r="2.05"/><circle cx="46.2" cy="878.2" r="2.05"/><circle cx="39.7" cy="878.8" r="2.05"/><circle cx="53.3" cy="879.0" r="2.05"/><circle cx="53.2" cy="874.8" r="2.05"/><circle cx="46.1" cy="876.2" r="2.05"/><circle cx="41.0" cy="872.6" r="2.05"/><circle cx="50.1" cy="873.3" r="2.05"/><circle cx="43.4" cy="878.0" r="2.05"/><circle cx="54.2" cy="871.2" r="2.05"/><circle cx="52.4" cy="873.4" r="2.05"/><circle cx="35.7" cy="879.1" r="2.05"/><circle cx="48.6" cy="873.3" r="2.05"/><circle cx="39.3" cy="873.9" r="2.05"/><circle cx="54.8" cy="872.1" r="2.05"/><circle cx="39.3" cy="874.8" r="2.05"/><circle cx="39.8" cy="877.7" r="2.05"/><circle cx="54.4" cy="871.1" r="2.05"/><circle cx="58.4" cy="875.9" r="2.05"/><circle cx="40.4" cy="873.9" r="2.05"/><circle cx="43.5" cy="876.1" r="2.05"/><circle cx="51.0" cy="870.7" r="2.05"/><circle cx="42.5" cy="879.0" r="2.05"/><circle cx="62.3" cy="870.8" r="2.05"/><circle cx="37.3" cy="869.2" r="2.05"/><circle cx="51.2" cy="870.4" r="2.05"/><circle cx="38.6" cy="868.0" r="2.05"/><circle cx="60.7" cy="874.7" r="2.05"/><circle cx="47.8" cy="879.0" r="2.05"/><circle cx="44.6" cy="874.8" r="2.05"/><circle cx="36.5" cy="877.1" r="2.05"/><circle cx="63.1" cy="876.0" r="2.05"/><circle cx="54.8" cy="875.4" r="2.05"/><circle cx="54.8" cy="875.0" r="2.05"/><circle cx="58.2" cy="872.6" r="2.05"/><circle cx="51.1" cy="866.0" r="2.05"/><circle cx="42.2" cy="877.8" r="2.05"/><circle cx="40.8" cy="865.2" r="2.05"/><circle cx="40.8" cy="877.3" r="2.05"/><circle cx="60.3" cy="873.9" r="2.05"/><circle cx="34.9" cy="878.6" r="2.05"/><circle cx="42.6" cy="873.7" r="2.05"/><circle cx="45.1" cy="869.9" r="2.05"/><circle cx="50.0" cy="875.8" r="2.05"/><circle cx="53.2" cy="871.2" r="2.05"/><circle cx="36.8" cy="873.1" r="2.05"/><circle cx="36.6" cy="874.2" r="2.05"/><circle cx="48.0" cy="873.3" r="2.05"/><circle cx="58.9" cy="873.1" r="2.05"/><circle cx="54.8" cy="869.8" r="2.05"/><circle cx="49.9" cy="873.1" r="2.05"/><circle cx="45.1" cy="863.3" r="2.05"/><circle cx="50.6" cy="873.2" r="2.05"/><circle cx="45.8" cy="868.0" r="2.05"/><circle cx="55.4" cy="878.6" r="2.05"/><circle cx="40.8" cy="877.9" r="2.05"/><circle cx="49.2" cy="864.2" r="2.05"/><circle cx="47.0" cy="874.7" r="2.05"/><circle cx="52.9" cy="873.4" r="2.05"/><circle cx="50.0" cy="868.8" r="2.05"/><circle cx="71.0" cy="876.7" r="2.05"/><circle cx="61.5" cy="871.7" r="2.05"/><circle cx="61.5" cy="865.2" r="2.05"/><circle cx="39.4" cy="872.7" r="2.05"/><circle cx="44.9" cy="873.3" r="2.05"/><circle cx="42.5" cy="874.5" r="2.05"/><circle cx="52.8" cy="867.8" r="2.05"/><circle cx="41.5" cy="877.1" r="2.05"/><circle cx="58.6" cy="877.7" r="2.05"/><circle cx="57.6" cy="868.3" r="2.05"/><circle cx="36.3" cy="870.7" r="2.05"/><circle cx="50.9" cy="855.7" r="2.05"/><circle cx="44.1" cy="863.5" r="2.05"/><circle cx="76.4" cy="875.6" r="2.05"/><circle cx="54.9" cy="860.8" r="2.05"/><circle cx="37.9" cy="875.4" r="2.05"/><circle cx="41.0" cy="867.3" r="2.05"/><circle cx="51.2" cy="876.0" r="2.05"/><circle cx="84.1" cy="868.4" r="2.05"/><circle cx="49.5" cy="850.1" r="2.05"/><circle cx="53.8" cy="863.4" r="2.05"/><circle cx="59.2" cy="869.5" r="2.05"/><circle cx="51.4" cy="858.8" r="2.05"/><circle cx="83.9" cy="857.2" r="2.05"/><circle cx="44.6" cy="870.9" r="2.05"/><circle cx="62.4" cy="862.8" r="2.05"/><circle cx="54.2" cy="854.4" r="2.05"/><circle cx="60.7" cy="862.5" r="2.05"/><circle cx="35.5" cy="874.9" r="2.05"/><circle cx="76.8" cy="864.2" r="2.05"/><circle cx="50.3" cy="875.5" r="2.05"/><circle cx="52.5" cy="878.0" r="2.05"/><circle cx="38.9" cy="868.3" r="2.05"/><circle cx="41.8" cy="859.0" r="2.05"/><circle cx="59.9" cy="857.6" r="2.05"/><circle cx="65.8" cy="867.8" r="2.05"/><circle cx="62.5" cy="875.0" r="2.05"/><circle cx="68.9" cy="870.2" r="2.05"/><circle cx="62.0" cy="872.4" r="2.05"/><circle cx="52.4" cy="864.5" r="2.05"/><circle cx="63.7" cy="870.4" r="2.05"/><circle cx="60.3" cy="864.2" r="2.05"/><circle cx="50.6" cy="865.4" r="2.05"/><circle cx="62.2" cy="857.7" r="2.05"/><circle cx="70.0" cy="855.4" r="2.05"/><circle cx="55.3" cy="864.1" r="2.05"/><circle cx="47.0" cy="859.1" r="2.05"/><circle cx="62.1" cy="860.3" r="2.05"/><circle cx="78.6" cy="873.4" r="2.05"/><circle cx="49.1" cy="867.1" r="2.05"/><circle cx="50.7" cy="866.9" r="2.05"/><circle cx="50.1" cy="875.4" r="2.05"/><circle cx="69.1" cy="862.9" r="2.05"/><circle cx="42.7" cy="874.2" r="2.05"/><circle cx="57.1" cy="870.9" r="2.05"/><circle cx="68.7" cy="862.5" r="2.05"/><circle cx="40.6" cy="876.8" r="2.05"/><circle cx="72.8" cy="861.8" r="2.05"/><circle cx="59.5" cy="843.5" r="2.05"/><circle cx="44.3" cy="874.4" r="2.05"/><circle cx="54.9" cy="863.1" r="2.05"/><circle cx="82.9" cy="831.8" r="2.05"/><circle cx="51.6" cy="846.2" r="2.05"/><circle cx="33.0" cy="845.6" r="2.05"/><circle cx="63.9" cy="847.0" r="2.05"/><circle cx="81.6" cy="850.4" r="2.05"/><circle cx="45.5" cy="853.8" r="2.05"/><circle cx="55.0" cy="855.1" r="2.05"/><circle cx="63.0" cy="854.5" r="2.05"/><circle cx="75.3" cy="855.1" r="2.05"/><circle cx="79.1" cy="855.1" r="2.05"/><circle cx="76.6" cy="859.9" r="2.05"/><circle cx="126.0" cy="859.5" r="2.05"/><circle cx="69.6" cy="860.8" r="2.05"/><circle cx="65.8" cy="862.1" r="2.05"/><circle cx="67.7" cy="864.6" r="2.05"/><circle cx="72.8" cy="869.0" r="2.05"/><circle cx="78.1" cy="868.4" r="2.05"/><circle cx="81.0" cy="870.9" r="2.05"/><circle cx="85.7" cy="870.9" r="2.05"/><circle cx="97.5" cy="869.3" r="2.05"/><circle cx="78.1" cy="875.0" r="2.05"/><circle cx="81.9" cy="874.1" r="2.05"/><circle cx="89.5" cy="876.0" r="2.05"/><circle cx="90.5" cy="876.6" r="2.05"/><circle cx="107.0" cy="877.0" r="2.05"/><circle cx="52.0" cy="846.3" r="2.05"/><circle cx="45.9" cy="853.3" r="2.05"/><circle cx="48.4" cy="856.4" r="2.05"/><circle cx="57.6" cy="856.9" r="2.05"/><circle cx="64.3" cy="847.7" r="2.05"/><circle cx="64.3" cy="862.0" r="2.05"/><circle cx="69.9" cy="860.9" r="2.05"/><circle cx="73.0" cy="868.8" r="2.05"/><circle cx="68.4" cy="873.7" r="2.05"/><circle cx="80.1" cy="878.3" r="2.05"/><circle cx="91.4" cy="876.3" r="2.05"/></g>
<line x1="224" y1="690" x2="33" y2="880.6" stroke="#6e6e6e" stroke-width="1.2"/>
<path d="M33,690V884.6M28.5,880.6H224M33,728.4h-4.5M33,804.5h-4.5M109,880.6v4M186,880.6v4" stroke="#505050" stroke-width="1.35" fill="none"/>
<ellipse cx="49.7" cy="846.4" rx="10.3" ry="19.3" transform="rotate(53.2 49.7 846.4)" fill="none" stroke="#1a1a1a" stroke-width="1.15" stroke-dasharray="1.2 2.1"/>
<ellipse cx="100.4" cy="854.3" rx="22.5" ry="45.3" transform="rotate(77.2 100.4 854.3)" fill="none" stroke="#1a1a1a" stroke-width="1.15" stroke-dasharray="1.2 2.1"/>
<g fill="#e0262b"><circle cx="273.4" cy="870.7" r="2.05"/><circle cx="262.8" cy="875.8" r="2.05"/><circle cx="262.1" cy="853.2" r="2.05"/><circle cx="273.7" cy="874.5" r="2.05"/><circle cx="261.6" cy="863.3" r="2.05"/><circle cx="267.0" cy="878.0" r="2.05"/><circle cx="273.2" cy="868.8" r="2.05"/><circle cx="266.6" cy="864.1" r="2.05"/><circle cx="265.6" cy="866.6" r="2.05"/><circle cx="266.5" cy="877.0" r="2.05"/><circle cx="270.2" cy="859.4" r="2.05"/><circle cx="262.0" cy="864.2" r="2.05"/><circle cx="269.1" cy="863.2" r="2.05"/><circle cx="268.9" cy="850.8" r="2.05"/><circle cx="277.7" cy="877.6" r="2.05"/><circle cx="264.3" cy="873.8" r="2.05"/><circle cx="261.4" cy="867.8" r="2.05"/><circle cx="269.7" cy="879.0" r="2.05"/><circle cx="264.0" cy="858.4" r="2.05"/><circle cx="267.4" cy="867.3" r="2.05"/><circle cx="266.7" cy="873.3" r="2.05"/><circle cx="271.8" cy="877.8" r="2.05"/><circle cx="262.7" cy="845.7" r="2.05"/><circle cx="265.5" cy="834.7" r="2.05"/><circle cx="269.0" cy="857.6" r="2.05"/><circle cx="261.5" cy="878.6" r="2.05"/><circle cx="273.7" cy="863.3" r="2.05"/><circle cx="262.6" cy="865.8" r="2.05"/><circle cx="262.5" cy="874.1" r="2.05"/><circle cx="262.3" cy="859.1" r="2.05"/><circle cx="268.9" cy="870.1" r="2.05"/><circle cx="266.9" cy="875.9" r="2.05"/><circle cx="262.1" cy="872.7" r="2.05"/><circle cx="269.3" cy="872.0" r="2.05"/><circle cx="267.3" cy="862.0" r="2.05"/><circle cx="269.8" cy="873.1" r="2.05"/><circle cx="262.8" cy="863.7" r="2.05"/><circle cx="274.7" cy="877.6" r="2.05"/><circle cx="268.0" cy="864.9" r="2.05"/><circle cx="265.4" cy="860.6" r="2.05"/><circle cx="263.4" cy="846.3" r="2.05"/><circle cx="264.8" cy="863.7" r="2.05"/><circle cx="270.3" cy="871.8" r="2.05"/><circle cx="264.7" cy="878.5" r="2.05"/><circle cx="271.4" cy="878.8" r="2.05"/><circle cx="268.9" cy="860.2" r="2.05"/><circle cx="272.7" cy="860.1" r="2.05"/><circle cx="270.1" cy="877.9" r="2.05"/><circle cx="265.7" cy="857.1" r="2.05"/><circle cx="265.7" cy="878.9" r="2.05"/><circle cx="267.5" cy="865.7" r="2.05"/><circle cx="269.9" cy="875.7" r="2.05"/><circle cx="266.8" cy="875.1" r="2.05"/><circle cx="268.8" cy="875.8" r="2.05"/><circle cx="263.6" cy="876.2" r="2.05"/><circle cx="264.1" cy="858.1" r="2.05"/><circle cx="261.3" cy="871.0" r="2.05"/><circle cx="272.8" cy="868.1" r="2.05"/><circle cx="266.8" cy="871.1" r="2.05"/><circle cx="263.5" cy="878.3" r="2.05"/><circle cx="262.9" cy="865.3" r="2.05"/><circle cx="265.2" cy="860.9" r="2.05"/><circle cx="273.2" cy="860.7" r="2.05"/><circle cx="268.3" cy="864.9" r="2.05"/><circle cx="262.4" cy="875.5" r="2.05"/><circle cx="273.1" cy="859.9" r="2.05"/><circle cx="273.1" cy="879.0" r="2.05"/><circle cx="270.9" cy="870.9" r="2.05"/><circle cx="269.9" cy="865.7" r="2.05"/><circle cx="271.8" cy="854.7" r="2.05"/><circle cx="268.7" cy="870.4" r="2.05"/><circle cx="269.9" cy="874.9" r="2.05"/><circle cx="262.1" cy="850.3" r="2.05"/><circle cx="273.5" cy="878.7" r="2.05"/><circle cx="267.2" cy="874.1" r="2.05"/><circle cx="276.1" cy="871.4" r="2.05"/><circle cx="266.4" cy="872.9" r="2.05"/><circle cx="269.5" cy="866.5" r="2.05"/><circle cx="270.9" cy="878.3" r="2.05"/><circle cx="264.3" cy="859.0" r="2.05"/><circle cx="268.3" cy="867.8" r="2.05"/><circle cx="269.7" cy="866.4" r="2.05"/><circle cx="268.9" cy="866.5" r="2.05"/><circle cx="263.3" cy="844.4" r="2.05"/><circle cx="265.3" cy="875.6" r="2.05"/><circle cx="271.1" cy="861.6" r="2.05"/><circle cx="272.4" cy="869.6" r="2.05"/><circle cx="266.5" cy="866.6" r="2.05"/><circle cx="266.4" cy="876.7" r="2.05"/><circle cx="267.0" cy="865.0" r="2.05"/><circle cx="271.2" cy="860.0" r="2.05"/><circle cx="261.5" cy="873.3" r="2.05"/><circle cx="262.8" cy="876.6" r="2.05"/><circle cx="266.6" cy="864.8" r="2.05"/><circle cx="261.7" cy="876.9" r="2.05"/><circle cx="263.1" cy="870.6" r="2.05"/><circle cx="266.4" cy="862.7" r="2.05"/><circle cx="268.4" cy="875.3" r="2.05"/><circle cx="261.6" cy="859.8" r="2.05"/><circle cx="270.0" cy="878.1" r="2.05"/><circle cx="265.1" cy="863.0" r="2.05"/><circle cx="268.7" cy="872.5" r="2.05"/><circle cx="264.1" cy="855.7" r="2.05"/><circle cx="262.6" cy="859.6" r="2.05"/><circle cx="269.2" cy="878.7" r="2.05"/><circle cx="264.0" cy="869.9" r="2.05"/><circle cx="262.0" cy="868.4" r="2.05"/><circle cx="263.8" cy="863.6" r="2.05"/><circle cx="268.3" cy="872.5" r="2.05"/><circle cx="265.7" cy="854.0" r="2.05"/><circle cx="265.9" cy="856.8" r="2.05"/><circle cx="271.3" cy="866.4" r="2.05"/><circle cx="262.4" cy="859.7" r="2.05"/><circle cx="263.6" cy="861.0" r="2.05"/><circle cx="263.4" cy="867.3" r="2.05"/><circle cx="271.8" cy="866.6" r="2.05"/><circle cx="271.0" cy="865.8" r="2.05"/><circle cx="272.4" cy="873.9" r="2.05"/><circle cx="265.8" cy="878.1" r="2.05"/><circle cx="265.2" cy="878.3" r="2.05"/><circle cx="270.3" cy="867.7" r="2.05"/><circle cx="264.0" cy="863.0" r="2.05"/><circle cx="270.2" cy="853.5" r="2.05"/><circle cx="269.6" cy="864.5" r="2.05"/><circle cx="262.5" cy="847.1" r="2.05"/><circle cx="265.6" cy="862.2" r="2.05"/><circle cx="265.4" cy="875.6" r="2.05"/><circle cx="274.7" cy="874.4" r="2.05"/><circle cx="278.9" cy="877.7" r="2.05"/><circle cx="265.5" cy="859.4" r="2.05"/><circle cx="266.1" cy="872.9" r="2.05"/><circle cx="267.6" cy="860.1" r="2.05"/><circle cx="267.1" cy="876.2" r="2.05"/><circle cx="266.0" cy="866.9" r="2.05"/><circle cx="261.6" cy="876.6" r="2.05"/><circle cx="269.9" cy="864.9" r="2.05"/><circle cx="264.0" cy="877.2" r="2.05"/><circle cx="264.9" cy="867.3" r="2.05"/><circle cx="266.7" cy="869.8" r="2.05"/><circle cx="262.4" cy="864.7" r="2.05"/><circle cx="270.3" cy="877.3" r="2.05"/><circle cx="271.3" cy="873.4" r="2.05"/><circle cx="263.1" cy="862.4" r="2.05"/><circle cx="263.2" cy="868.8" r="2.05"/><circle cx="269.0" cy="853.7" r="2.05"/><circle cx="265.8" cy="866.0" r="2.05"/><circle cx="262.3" cy="876.9" r="2.05"/><circle cx="264.5" cy="867.1" r="2.05"/><circle cx="265.5" cy="862.3" r="2.05"/><circle cx="265.3" cy="853.9" r="2.05"/><circle cx="270.1" cy="871.7" r="2.05"/><circle cx="267.9" cy="876.0" r="2.05"/><circle cx="274.8" cy="874.0" r="2.05"/><circle cx="272.9" cy="870.6" r="2.05"/><circle cx="269.4" cy="855.3" r="2.05"/><circle cx="271.4" cy="873.0" r="2.05"/><circle cx="272.6" cy="867.4" r="2.05"/><circle cx="269.5" cy="866.6" r="2.05"/><circle cx="262.3" cy="875.3" r="2.05"/><circle cx="270.3" cy="846.4" r="2.05"/><circle cx="266.4" cy="867.4" r="2.05"/><circle cx="274.1" cy="866.6" r="2.05"/><circle cx="266.5" cy="871.7" r="2.05"/><circle cx="268.6" cy="877.1" r="2.05"/><circle cx="267.6" cy="872.7" r="2.05"/><circle cx="274.4" cy="849.7" r="2.05"/><circle cx="266.9" cy="864.6" r="2.05"/><circle cx="264.7" cy="870.1" r="2.05"/><circle cx="267.5" cy="869.5" r="2.05"/><circle cx="263.8" cy="855.2" r="2.05"/><circle cx="266.8" cy="851.4" r="2.05"/><circle cx="266.0" cy="873.5" r="2.05"/><circle cx="267.4" cy="871.4" r="2.05"/><circle cx="275.6" cy="867.8" r="2.05"/><circle cx="264.0" cy="850.7" r="2.05"/><circle cx="266.2" cy="872.9" r="2.05"/><circle cx="265.0" cy="839.0" r="2.05"/><circle cx="269.4" cy="864.4" r="2.05"/><circle cx="262.1" cy="869.7" r="2.05"/><circle cx="262.5" cy="866.4" r="2.05"/><circle cx="265.8" cy="870.3" r="2.05"/><circle cx="268.7" cy="856.2" r="2.05"/><circle cx="265.8" cy="877.0" r="2.05"/><circle cx="263.5" cy="855.1" r="2.05"/><circle cx="261.7" cy="870.5" r="2.05"/><circle cx="268.6" cy="869.3" r="2.05"/><circle cx="273.2" cy="857.5" r="2.05"/><circle cx="267.6" cy="876.9" r="2.05"/><circle cx="266.9" cy="853.8" r="2.05"/><circle cx="268.2" cy="861.2" r="2.05"/><circle cx="261.3" cy="867.7" r="2.05"/><circle cx="264.4" cy="863.9" r="2.05"/><circle cx="264.7" cy="872.7" r="2.05"/><circle cx="267.5" cy="877.2" r="2.05"/><circle cx="265.8" cy="865.1" r="2.05"/><circle cx="262.3" cy="862.6" r="2.05"/><circle cx="271.6" cy="862.8" r="2.05"/><circle cx="274.5" cy="864.3" r="2.05"/><circle cx="264.7" cy="876.1" r="2.05"/><circle cx="268.0" cy="865.8" r="2.05"/><circle cx="271.3" cy="871.5" r="2.05"/><circle cx="267.3" cy="864.2" r="2.05"/><circle cx="261.2" cy="854.1" r="2.05"/><circle cx="274.9" cy="861.1" r="2.05"/><circle cx="262.5" cy="878.7" r="2.05"/><circle cx="268.0" cy="848.3" r="2.05"/><circle cx="279.9" cy="874.8" r="2.05"/><circle cx="262.9" cy="871.3" r="2.05"/><circle cx="267.6" cy="864.2" r="2.05"/><circle cx="266.9" cy="875.4" r="2.05"/><circle cx="263.9" cy="848.5" r="2.05"/><circle cx="266.2" cy="875.1" r="2.05"/><circle cx="265.1" cy="845.1" r="2.05"/><circle cx="263.7" cy="847.7" r="2.05"/><circle cx="269.1" cy="843.0" r="2.05"/><circle cx="280.7" cy="867.1" r="2.05"/><circle cx="270.3" cy="845.0" r="2.05"/><circle cx="273.3" cy="860.8" r="2.05"/><circle cx="267.6" cy="841.8" r="2.05"/><circle cx="266.0" cy="877.1" r="2.05"/><circle cx="261.3" cy="869.2" r="2.05"/><circle cx="268.6" cy="863.6" r="2.05"/><circle cx="268.5" cy="872.3" r="2.05"/><circle cx="281.0" cy="869.0" r="2.05"/><circle cx="271.8" cy="863.9" r="2.05"/><circle cx="263.7" cy="861.6" r="2.05"/><circle cx="281.2" cy="834.9" r="2.05"/><circle cx="264.5" cy="874.8" r="2.05"/><circle cx="263.0" cy="858.0" r="2.05"/><circle cx="263.9" cy="843.4" r="2.05"/><circle cx="261.9" cy="849.5" r="2.05"/><circle cx="266.0" cy="834.0" r="2.05"/><circle cx="284.0" cy="857.3" r="2.05"/><circle cx="266.4" cy="842.9" r="2.05"/><circle cx="262.5" cy="874.9" r="2.05"/><circle cx="263.2" cy="870.6" r="2.05"/><circle cx="266.2" cy="833.4" r="2.05"/><circle cx="267.9" cy="835.9" r="2.05"/><circle cx="269.0" cy="850.9" r="2.05"/><circle cx="273.6" cy="829.2" r="2.05"/><circle cx="270.6" cy="858.2" r="2.05"/><circle cx="272.8" cy="859.3" r="2.05"/><circle cx="264.5" cy="847.6" r="2.05"/><circle cx="267.8" cy="851.3" r="2.05"/><circle cx="278.3" cy="868.0" r="2.05"/><circle cx="276.8" cy="875.9" r="2.05"/><circle cx="266.5" cy="874.7" r="2.05"/><circle cx="269.7" cy="860.5" r="2.05"/><circle cx="268.2" cy="873.7" r="2.05"/><circle cx="272.4" cy="848.2" r="2.05"/><circle cx="269.7" cy="866.6" r="2.05"/><circle cx="264.0" cy="844.6" r="2.05"/><circle cx="269.6" cy="871.7" r="2.05"/><circle cx="269.3" cy="840.2" r="2.05"/><circle cx="267.6" cy="844.6" r="2.05"/><circle cx="269.0" cy="859.9" r="2.05"/><circle cx="278.2" cy="868.9" r="2.05"/><circle cx="261.7" cy="837.0" r="2.05"/><circle cx="267.3" cy="851.4" r="2.05"/><circle cx="270.0" cy="862.2" r="2.05"/><circle cx="261.7" cy="850.7" r="2.05"/><circle cx="263.7" cy="831.0" r="2.05"/><circle cx="261.3" cy="824.4" r="2.05"/><circle cx="262.0" cy="823.9" r="2.05"/><circle cx="265.2" cy="872.0" r="2.05"/><circle cx="262.7" cy="804.6" r="2.05"/><circle cx="265.2" cy="828.7" r="2.05"/><circle cx="267.8" cy="865.9" r="2.05"/><circle cx="261.3" cy="879.1" r="2.05"/><circle cx="264.5" cy="846.3" r="2.05"/><circle cx="261.5" cy="869.6" r="2.05"/><circle cx="263.6" cy="869.0" r="2.05"/><circle cx="262.7" cy="874.7" r="2.05"/><circle cx="265.3" cy="851.2" r="2.05"/><circle cx="263.2" cy="867.2" r="2.05"/><circle cx="261.3" cy="855.4" r="2.05"/><circle cx="263.1" cy="869.9" r="2.05"/><circle cx="265.3" cy="822.9" r="2.05"/><circle cx="261.5" cy="874.0" r="2.05"/><circle cx="263.1" cy="819.1" r="2.05"/><circle cx="263.4" cy="813.1" r="2.05"/><circle cx="262.9" cy="863.1" r="2.05"/><circle cx="263.0" cy="830.0" r="2.05"/><circle cx="263.0" cy="861.9" r="2.05"/><circle cx="264.8" cy="824.0" r="2.05"/><circle cx="262.4" cy="815.8" r="2.05"/><circle cx="261.7" cy="817.2" r="2.05"/><circle cx="260.2" cy="832.6" r="2.05"/><circle cx="266.1" cy="834.7" r="2.05"/><circle cx="262.0" cy="838.0" r="2.05"/><circle cx="263.0" cy="841.0" r="2.05"/><circle cx="305.0" cy="838.1" r="2.05"/><circle cx="344.5" cy="823.1" r="2.05"/><circle cx="348.5" cy="830.1" r="2.05"/><circle cx="341.7" cy="846.0" r="2.05"/><circle cx="315.7" cy="854.5" r="2.05"/><circle cx="299.6" cy="859.6" r="2.05"/><circle cx="303.3" cy="861.0" r="2.05"/><circle cx="320.4" cy="862.8" r="2.05"/><circle cx="325.9" cy="864.4" r="2.05"/><circle cx="329.3" cy="863.5" r="2.05"/><circle cx="287.7" cy="861.8" r="2.05"/><circle cx="295.3" cy="869.3" r="2.05"/><circle cx="305.9" cy="869.3" r="2.05"/><circle cx="306.9" cy="872.7" r="2.05"/><circle cx="317.9" cy="872.7" r="2.05"/><circle cx="296.0" cy="880.0" r="2.05"/><circle cx="281.4" cy="871.7" r="2.05"/><circle cx="414.1" cy="747.6" r="2.05"/><circle cx="411.6" cy="786.3" r="2.05"/><circle cx="406.3" cy="803.8" r="2.05"/><circle cx="369.9" cy="833.6" r="2.05"/><circle cx="357.5" cy="837.4" r="2.05"/><circle cx="275.0" cy="862.0" r="2.05"/><circle cx="278.0" cy="866.0" r="2.05"/></g>
<line x1="355.6" y1="690.3" x2="259.6" y2="880.8" stroke="#6e6e6e" stroke-width="1.2"/>
<path d="M259.6,690.3V884.8M255.10000000000002,880.8H451M259.6,729.9h-4.5M259.6,804.2h-4.5M297.8,880.8v4M336.4,880.8v4M374.3,880.8v4M412.6,880.8v4M450.5,880.8v4" stroke="#505050" stroke-width="1.35" fill="none"/>
<ellipse cx="267.3" cy="829.4" rx="28.1" ry="9.3" transform="rotate(-86.3 267.3 829.4)" fill="none" stroke="#1a1a1a" stroke-width="1.15" stroke-dasharray="1.2 2.1"/>
<ellipse cx="362.5" cy="813.9" rx="88.7" ry="52.0" transform="rotate(141.8 362.5 813.9)" fill="none" stroke="#1a1a1a" stroke-width="1.15" stroke-dasharray="1.2 2.1"/>
<g fill="#4fae4a"><circle cx="503.1" cy="876.4" r="2.1"/><circle cx="490.4" cy="878.6" r="2.1"/><circle cx="481.2" cy="876.3" r="2.1"/><circle cx="491.7" cy="871.2" r="2.1"/><circle cx="497.4" cy="874.1" r="2.1"/><circle cx="484.2" cy="872.3" r="2.1"/><circle cx="494.5" cy="878.4" r="2.1"/><circle cx="506.7" cy="871.1" r="2.1"/><circle cx="497.3" cy="868.9" r="2.1"/><circle cx="490.3" cy="877.8" r="2.1"/><circle cx="485.8" cy="878.8" r="2.1"/><circle cx="495.0" cy="877.6" r="2.1"/><circle cx="483.7" cy="879.0" r="2.1"/><circle cx="495.9" cy="869.0" r="2.1"/><circle cx="485.1" cy="872.3" r="2.1"/><circle cx="481.8" cy="872.9" r="2.1"/><circle cx="504.4" cy="875.0" r="2.1"/><circle cx="491.6" cy="866.4" r="2.1"/><circle cx="482.6" cy="875.0" r="2.1"/><circle cx="481.2" cy="876.2" r="2.1"/><circle cx="494.5" cy="871.2" r="2.1"/><circle cx="483.8" cy="875.5" r="2.1"/><circle cx="485.8" cy="878.6" r="2.1"/><circle cx="489.8" cy="875.2" r="2.1"/><circle cx="491.2" cy="879.1" r="2.1"/><circle cx="491.3" cy="879.1" r="2.1"/><circle cx="491.4" cy="876.7" r="2.1"/><circle cx="500.9" cy="876.6" r="2.1"/><circle cx="504.1" cy="873.6" r="2.1"/><circle cx="484.7" cy="878.4" r="2.1"/><circle cx="511.2" cy="873.2" r="2.1"/><circle cx="491.6" cy="872.3" r="2.1"/><circle cx="500.5" cy="877.9" r="2.1"/><circle cx="484.7" cy="872.1" r="2.1"/><circle cx="493.2" cy="876.7" r="2.1"/><circle cx="492.3" cy="879.1" r="2.1"/><circle cx="491.5" cy="875.4" r="2.1"/><circle cx="497.4" cy="875.5" r="2.1"/><circle cx="495.6" cy="878.7" r="2.1"/><circle cx="482.5" cy="878.1" r="2.1"/><circle cx="489.7" cy="868.9" r="2.1"/><circle cx="496.4" cy="869.8" r="2.1"/><circle cx="496.1" cy="878.0" r="2.1"/><circle cx="487.9" cy="876.6" r="2.1"/><circle cx="488.4" cy="866.7" r="2.1"/><circle cx="489.4" cy="869.7" r="2.1"/><circle cx="481.8" cy="875.2" r="2.1"/><circle cx="481.7" cy="871.1" r="2.1"/><circle cx="503.2" cy="876.9" r="2.1"/><circle cx="487.4" cy="875.4" r="2.1"/><circle cx="491.4" cy="877.0" r="2.1"/><circle cx="484.6" cy="870.4" r="2.1"/><circle cx="501.0" cy="877.6" r="2.1"/><circle cx="504.6" cy="875.5" r="2.1"/><circle cx="488.8" cy="871.9" r="2.1"/><circle cx="494.7" cy="878.1" r="2.1"/><circle cx="484.6" cy="879.0" r="2.1"/><circle cx="504.7" cy="877.7" r="2.1"/><circle cx="498.0" cy="874.8" r="2.1"/><circle cx="483.9" cy="870.4" r="2.1"/><circle cx="500.6" cy="871.6" r="2.1"/><circle cx="493.5" cy="878.1" r="2.1"/><circle cx="493.9" cy="879.0" r="2.1"/><circle cx="493.5" cy="878.4" r="2.1"/><circle cx="485.2" cy="878.9" r="2.1"/><circle cx="486.3" cy="878.7" r="2.1"/><circle cx="495.6" cy="873.4" r="2.1"/><circle cx="490.2" cy="870.3" r="2.1"/><circle cx="483.0" cy="875.9" r="2.1"/><circle cx="506.8" cy="877.1" r="2.1"/><circle cx="488.9" cy="875.4" r="2.1"/><circle cx="486.1" cy="869.0" r="2.1"/><circle cx="485.0" cy="873.0" r="2.1"/><circle cx="496.1" cy="869.2" r="2.1"/><circle cx="498.4" cy="875.7" r="2.1"/><circle cx="492.5" cy="870.9" r="2.1"/><circle cx="497.5" cy="874.4" r="2.1"/><circle cx="483.4" cy="876.4" r="2.1"/><circle cx="487.6" cy="875.6" r="2.1"/><circle cx="486.8" cy="877.8" r="2.1"/><circle cx="490.6" cy="870.7" r="2.1"/><circle cx="494.4" cy="866.4" r="2.1"/><circle cx="487.8" cy="878.9" r="2.1"/><circle cx="515.5" cy="877.7" r="2.1"/><circle cx="483.6" cy="877.6" r="2.1"/><circle cx="493.3" cy="876.2" r="2.1"/><circle cx="497.1" cy="877.3" r="2.1"/><circle cx="497.3" cy="875.6" r="2.1"/><circle cx="492.4" cy="869.9" r="2.1"/><circle cx="494.8" cy="872.8" r="2.1"/><circle cx="481.8" cy="877.1" r="2.1"/><circle cx="496.5" cy="872.8" r="2.1"/><circle cx="483.1" cy="875.7" r="2.1"/><circle cx="482.0" cy="869.0" r="2.1"/><circle cx="490.4" cy="873.4" r="2.1"/><circle cx="500.1" cy="878.8" r="2.1"/><circle cx="494.5" cy="872.7" r="2.1"/><circle cx="483.2" cy="870.6" r="2.1"/><circle cx="489.3" cy="869.7" r="2.1"/><circle cx="489.5" cy="872.2" r="2.1"/><circle cx="481.4" cy="877.2" r="2.1"/><circle cx="488.1" cy="876.8" r="2.1"/><circle cx="492.3" cy="877.2" r="2.1"/><circle cx="494.7" cy="873.0" r="2.1"/><circle cx="500.4" cy="878.5" r="2.1"/><circle cx="490.5" cy="875.6" r="2.1"/><circle cx="486.5" cy="871.4" r="2.1"/><circle cx="493.4" cy="873.3" r="2.1"/><circle cx="485.2" cy="875.9" r="2.1"/><circle cx="481.8" cy="878.6" r="2.1"/><circle cx="499.3" cy="874.9" r="2.1"/><circle cx="487.1" cy="877.1" r="2.1"/><circle cx="491.1" cy="875.2" r="2.1"/><circle cx="495.4" cy="871.9" r="2.1"/><circle cx="481.3" cy="870.2" r="2.1"/><circle cx="495.3" cy="879.1" r="2.1"/><circle cx="493.8" cy="876.9" r="2.1"/><circle cx="489.4" cy="874.7" r="2.1"/><circle cx="493.3" cy="876.2" r="2.1"/><circle cx="484.1" cy="873.8" r="2.1"/><circle cx="489.5" cy="877.2" r="2.1"/><circle cx="487.9" cy="873.8" r="2.1"/><circle cx="482.9" cy="878.3" r="2.1"/><circle cx="497.1" cy="870.5" r="2.1"/><circle cx="492.3" cy="871.9" r="2.1"/><circle cx="485.9" cy="875.6" r="2.1"/><circle cx="490.5" cy="873.3" r="2.1"/><circle cx="501.0" cy="877.9" r="2.1"/><circle cx="499.2" cy="875.0" r="2.1"/><circle cx="493.1" cy="873.0" r="2.1"/><circle cx="493.6" cy="876.0" r="2.1"/><circle cx="487.9" cy="873.0" r="2.1"/><circle cx="489.1" cy="868.9" r="2.1"/><circle cx="494.9" cy="870.6" r="2.1"/><circle cx="489.2" cy="871.9" r="2.1"/><circle cx="492.5" cy="873.3" r="2.1"/><circle cx="481.2" cy="875.5" r="2.1"/><circle cx="485.2" cy="878.8" r="2.1"/><circle cx="485.5" cy="877.4" r="2.1"/><circle cx="486.6" cy="876.1" r="2.1"/><circle cx="500.8" cy="878.1" r="2.1"/><circle cx="499.6" cy="874.4" r="2.1"/><circle cx="482.1" cy="876.6" r="2.1"/><circle cx="484.3" cy="878.5" r="2.1"/><circle cx="496.5" cy="873.4" r="2.1"/><circle cx="493.8" cy="876.4" r="2.1"/><circle cx="482.8" cy="878.8" r="2.1"/><circle cx="498.6" cy="876.1" r="2.1"/><circle cx="491.5" cy="879.2" r="2.1"/><circle cx="500.7" cy="876.8" r="2.1"/><circle cx="508.5" cy="863.8" r="2.1"/><circle cx="494.2" cy="874.5" r="2.1"/><circle cx="504.0" cy="870.4" r="2.1"/><circle cx="493.6" cy="870.2" r="2.1"/><circle cx="508.1" cy="873.1" r="2.1"/><circle cx="487.0" cy="866.1" r="2.1"/><circle cx="503.3" cy="869.1" r="2.1"/><circle cx="516.2" cy="860.8" r="2.1"/><circle cx="506.8" cy="857.2" r="2.1"/><circle cx="498.3" cy="879.1" r="2.1"/><circle cx="506.2" cy="863.8" r="2.1"/><circle cx="486.8" cy="865.3" r="2.1"/><circle cx="487.0" cy="878.3" r="2.1"/><circle cx="493.6" cy="877.7" r="2.1"/><circle cx="496.6" cy="866.6" r="2.1"/><circle cx="512.2" cy="866.6" r="2.1"/><circle cx="486.1" cy="869.7" r="2.1"/><circle cx="512.7" cy="863.6" r="2.1"/><circle cx="485.4" cy="874.1" r="2.1"/><circle cx="487.6" cy="871.3" r="2.1"/><circle cx="498.1" cy="871.2" r="2.1"/><circle cx="514.9" cy="875.5" r="2.1"/><circle cx="490.1" cy="875.3" r="2.1"/><circle cx="493.4" cy="875.2" r="2.1"/><circle cx="504.5" cy="877.5" r="2.1"/><circle cx="498.2" cy="858.3" r="2.1"/><circle cx="483.5" cy="876.6" r="2.1"/><circle cx="484.0" cy="862.4" r="2.1"/><circle cx="488.9" cy="860.3" r="2.1"/><circle cx="500.0" cy="875.2" r="2.1"/><circle cx="507.9" cy="865.4" r="2.1"/><circle cx="484.0" cy="868.1" r="2.1"/><circle cx="530.7" cy="877.8" r="2.1"/><circle cx="498.1" cy="865.6" r="2.1"/><circle cx="493.4" cy="864.0" r="2.1"/><circle cx="508.1" cy="872.6" r="2.1"/><circle cx="500.2" cy="878.8" r="2.1"/><circle cx="531.3" cy="874.0" r="2.1"/><circle cx="514.0" cy="859.4" r="2.1"/><circle cx="493.5" cy="865.7" r="2.1"/><circle cx="493.2" cy="869.2" r="2.1"/><circle cx="491.7" cy="874.6" r="2.1"/><circle cx="493.8" cy="876.5" r="2.1"/><circle cx="508.0" cy="876.2" r="2.1"/><circle cx="489.6" cy="878.7" r="2.1"/><circle cx="521.2" cy="868.1" r="2.1"/><circle cx="497.5" cy="873.6" r="2.1"/><circle cx="496.6" cy="873.7" r="2.1"/><circle cx="511.9" cy="863.4" r="2.1"/><circle cx="491.1" cy="870.2" r="2.1"/><circle cx="480.0" cy="850.7" r="2.1"/><circle cx="485.3" cy="853.9" r="2.1"/><circle cx="493.3" cy="851.3" r="2.1"/><circle cx="504.5" cy="852.3" r="2.1"/><circle cx="501.8" cy="856.2" r="2.1"/><circle cx="514.2" cy="857.1" r="2.1"/><circle cx="523.8" cy="845.4" r="2.1"/><circle cx="531.8" cy="852.6" r="2.1"/><circle cx="531.8" cy="858.7" r="2.1"/><circle cx="539.4" cy="857.1" r="2.1"/><circle cx="548.2" cy="849.7" r="2.1"/><circle cx="561.9" cy="841.1" r="2.1"/><circle cx="567.2" cy="842.4" r="2.1"/><circle cx="576.8" cy="849.1" r="2.1"/><circle cx="572.8" cy="865.5" r="2.1"/><circle cx="576.8" cy="867.6" r="2.1"/><circle cx="552.7" cy="865.8" r="2.1"/><circle cx="546.8" cy="869.5" r="2.1"/><circle cx="545.5" cy="874.3" r="2.1"/><circle cx="550.3" cy="873.5" r="2.1"/><circle cx="553.2" cy="876.7" r="2.1"/><circle cx="540.7" cy="877.0" r="2.1"/><circle cx="559.9" cy="877.5" r="2.1"/><circle cx="565.6" cy="877.2" r="2.1"/><circle cx="522.2" cy="867.9" r="2.1"/><circle cx="525.4" cy="869.5" r="2.1"/><circle cx="527.8" cy="866.8" r="2.1"/><circle cx="529.4" cy="871.9" r="2.1"/><circle cx="524.6" cy="874.3" r="2.1"/><circle cx="520.6" cy="876.7" r="2.1"/><circle cx="530.7" cy="875.9" r="2.1"/><circle cx="530.7" cy="878.3" r="2.1"/><circle cx="514.2" cy="865.8" r="2.1"/><circle cx="510.1" cy="873.5" r="2.1"/><circle cx="511.8" cy="875.9" r="2.1"/><circle cx="599.7" cy="790.7" r="2.1"/><circle cx="618.3" cy="800.7" r="2.1"/><circle cx="593.6" cy="826.1" r="2.1"/><circle cx="591.2" cy="832.0" r="2.1"/><circle cx="562.2" cy="840.9" r="2.1"/><circle cx="567.5" cy="842.4" r="2.1"/><circle cx="548.0" cy="849.8" r="2.1"/><circle cx="576.6" cy="848.7" r="2.1"/><circle cx="609.2" cy="845.6" r="2.1"/><circle cx="600.3" cy="849.4" r="2.1"/><circle cx="584.0" cy="853.8" r="2.1"/><circle cx="585.9" cy="852.6" r="2.1"/><circle cx="613.0" cy="855.7" r="2.1"/><circle cx="615.1" cy="856.8" r="2.1"/><circle cx="632.5" cy="857.8" r="2.1"/><circle cx="572.8" cy="865.3" r="2.1"/><circle cx="577.0" cy="867.4" r="2.1"/><circle cx="584.0" cy="865.3" r="2.1"/><circle cx="589.1" cy="864.8" r="2.1"/><circle cx="606.0" cy="864.8" r="2.1"/><circle cx="546.4" cy="869.5" r="2.1"/><circle cx="562.2" cy="879.0" r="2.1"/><circle cx="560.1" cy="876.9" r="2.1"/><circle cx="565.4" cy="876.9" r="2.1"/><circle cx="540.0" cy="856.8" r="2.1"/><circle cx="505.0" cy="864.0" r="2.1"/><circle cx="508.0" cy="868.0" r="2.1"/><circle cx="500.0" cy="870.0" r="2.1"/></g>
<line x1="575.9" y1="690" x2="479.5" y2="880.7" stroke="#6e6e6e" stroke-width="1.2"/>
<path d="M479.5,690V884.7M475.0,880.7H670.6M479.5,728h-4.5M479.5,804.5h-4.5M517.5,880.7v4M555.3,880.7v4M593.7,880.7v4M632.1,880.7v4M670.6,880.7v4" stroke="#505050" stroke-width="1.35" fill="none"/>
<ellipse cx="487.3" cy="845.5" rx="7.2" ry="16.8" transform="rotate(179.1 487.3 845.5)" fill="none" stroke="#1a1a1a" stroke-width="1.15" stroke-dasharray="1.2 2.1"/>
<ellipse cx="588.8" cy="832.9" rx="36.1" ry="99.4" transform="rotate(70.9 588.8 832.9)" fill="none" stroke="#1a1a1a" stroke-width="1.15" stroke-dasharray="1.2 2.1"/>
<g fill="#3b7fc0"><circle cx="66.4" cy="1153.2" r="2.15"/><circle cx="43.4" cy="1140.4" r="2.15"/><circle cx="69.9" cy="1143.1" r="2.15"/><circle cx="69.2" cy="1142.8" r="2.15"/><circle cx="73.0" cy="1150.2" r="2.15"/><circle cx="47.7" cy="1154.0" r="2.15"/><circle cx="60.0" cy="1153.3" r="2.15"/><circle cx="78.9" cy="1150.8" r="2.15"/><circle cx="69.6" cy="1144.0" r="2.15"/><circle cx="47.5" cy="1135.9" r="2.15"/><circle cx="61.7" cy="1151.0" r="2.15"/><circle cx="78.4" cy="1149.2" r="2.15"/><circle cx="57.5" cy="1150.7" r="2.15"/><circle cx="63.9" cy="1150.4" r="2.15"/><circle cx="94.5" cy="1146.9" r="2.15"/><circle cx="58.0" cy="1146.8" r="2.15"/><circle cx="57.0" cy="1132.0" r="2.15"/><circle cx="44.4" cy="1152.1" r="2.15"/><circle cx="49.3" cy="1147.9" r="2.15"/><circle cx="79.3" cy="1143.0" r="2.15"/><circle cx="56.5" cy="1150.9" r="2.15"/><circle cx="41.9" cy="1140.9" r="2.15"/><circle cx="45.4" cy="1144.4" r="2.15"/><circle cx="58.5" cy="1146.7" r="2.15"/><circle cx="69.2" cy="1153.5" r="2.15"/><circle cx="48.0" cy="1153.9" r="2.15"/><circle cx="68.4" cy="1153.4" r="2.15"/><circle cx="51.6" cy="1152.7" r="2.15"/><circle cx="63.4" cy="1149.6" r="2.15"/><circle cx="65.7" cy="1144.4" r="2.15"/><circle cx="66.9" cy="1147.7" r="2.15"/><circle cx="52.3" cy="1153.3" r="2.15"/><circle cx="56.0" cy="1146.7" r="2.15"/><circle cx="65.4" cy="1145.7" r="2.15"/><circle cx="40.2" cy="1131.1" r="2.15"/><circle cx="60.7" cy="1134.7" r="2.15"/><circle cx="65.4" cy="1149.6" r="2.15"/><circle cx="72.8" cy="1150.0" r="2.15"/><circle cx="57.7" cy="1145.1" r="2.15"/><circle cx="55.6" cy="1147.9" r="2.15"/><circle cx="60.1" cy="1152.4" r="2.15"/><circle cx="47.9" cy="1141.2" r="2.15"/><circle cx="55.2" cy="1148.1" r="2.15"/><circle cx="63.8" cy="1140.9" r="2.15"/><circle cx="62.0" cy="1143.1" r="2.15"/><circle cx="43.4" cy="1128.8" r="2.15"/><circle cx="53.5" cy="1149.9" r="2.15"/><circle cx="39.6" cy="1148.5" r="2.15"/><circle cx="69.2" cy="1149.1" r="2.15"/><circle cx="50.5" cy="1141.1" r="2.15"/><circle cx="61.3" cy="1150.5" r="2.15"/><circle cx="42.6" cy="1148.6" r="2.15"/><circle cx="56.8" cy="1149.5" r="2.15"/><circle cx="64.2" cy="1146.0" r="2.15"/><circle cx="71.6" cy="1144.6" r="2.15"/><circle cx="38.8" cy="1150.8" r="2.15"/><circle cx="69.7" cy="1145.3" r="2.15"/><circle cx="55.5" cy="1154.3" r="2.15"/><circle cx="47.0" cy="1151.1" r="2.15"/><circle cx="64.5" cy="1152.0" r="2.15"/><circle cx="53.7" cy="1152.1" r="2.15"/><circle cx="53.6" cy="1151.5" r="2.15"/><circle cx="47.9" cy="1141.8" r="2.15"/><circle cx="60.9" cy="1149.8" r="2.15"/><circle cx="58.3" cy="1149.3" r="2.15"/><circle cx="55.3" cy="1141.1" r="2.15"/><circle cx="44.4" cy="1148.7" r="2.15"/><circle cx="50.6" cy="1153.9" r="2.15"/><circle cx="63.4" cy="1138.5" r="2.15"/><circle cx="75.6" cy="1147.1" r="2.15"/><circle cx="57.4" cy="1136.2" r="2.15"/><circle cx="77.5" cy="1143.8" r="2.15"/><circle cx="57.6" cy="1138.2" r="2.15"/><circle cx="42.5" cy="1141.8" r="2.15"/><circle cx="66.6" cy="1144.6" r="2.15"/><circle cx="44.2" cy="1146.1" r="2.15"/><circle cx="63.3" cy="1146.6" r="2.15"/><circle cx="72.7" cy="1131.2" r="2.15"/><circle cx="53.4" cy="1149.4" r="2.15"/><circle cx="56.5" cy="1146.1" r="2.15"/><circle cx="92.2" cy="1140.3" r="2.15"/><circle cx="61.1" cy="1143.6" r="2.15"/><circle cx="61.4" cy="1150.2" r="2.15"/><circle cx="68.7" cy="1141.0" r="2.15"/><circle cx="56.4" cy="1145.1" r="2.15"/><circle cx="56.5" cy="1144.7" r="2.15"/><circle cx="63.1" cy="1151.8" r="2.15"/><circle cx="43.7" cy="1142.8" r="2.15"/><circle cx="77.5" cy="1151.2" r="2.15"/><circle cx="42.8" cy="1150.4" r="2.15"/><circle cx="42.7" cy="1147.0" r="2.15"/><circle cx="65.3" cy="1151.9" r="2.15"/><circle cx="58.1" cy="1148.1" r="2.15"/><circle cx="40.3" cy="1139.8" r="2.15"/><circle cx="60.7" cy="1150.1" r="2.15"/><circle cx="41.8" cy="1148.9" r="2.15"/><circle cx="48.0" cy="1147.7" r="2.15"/><circle cx="36.7" cy="1149.6" r="2.15"/><circle cx="46.2" cy="1144.2" r="2.15"/><circle cx="63.3" cy="1149.6" r="2.15"/><circle cx="59.5" cy="1151.2" r="2.15"/><circle cx="62.1" cy="1146.3" r="2.15"/><circle cx="70.6" cy="1151.4" r="2.15"/><circle cx="57.2" cy="1147.6" r="2.15"/><circle cx="48.5" cy="1142.4" r="2.15"/><circle cx="53.8" cy="1139.4" r="2.15"/><circle cx="80.8" cy="1151.7" r="2.15"/><circle cx="58.2" cy="1153.2" r="2.15"/><circle cx="62.2" cy="1136.9" r="2.15"/><circle cx="56.4" cy="1142.9" r="2.15"/><circle cx="61.2" cy="1152.5" r="2.15"/><circle cx="63.8" cy="1153.4" r="2.15"/><circle cx="57.6" cy="1138.8" r="2.15"/><circle cx="55.6" cy="1145.1" r="2.15"/><circle cx="46.8" cy="1153.8" r="2.15"/><circle cx="45.9" cy="1144.3" r="2.15"/><circle cx="63.4" cy="1144.8" r="2.15"/><circle cx="68.2" cy="1144.2" r="2.15"/><circle cx="70.6" cy="1138.8" r="2.15"/><circle cx="58.5" cy="1148.3" r="2.15"/><circle cx="46.2" cy="1150.1" r="2.15"/><circle cx="66.5" cy="1138.2" r="2.15"/><circle cx="66.3" cy="1148.7" r="2.15"/><circle cx="36.8" cy="1152.9" r="2.15"/><circle cx="69.0" cy="1149.4" r="2.15"/><circle cx="65.9" cy="1154.0" r="2.15"/><circle cx="81.0" cy="1144.1" r="2.15"/><circle cx="42.0" cy="1151.0" r="2.15"/><circle cx="39.9" cy="1142.5" r="2.15"/><circle cx="68.7" cy="1147.4" r="2.15"/><circle cx="35.3" cy="1144.8" r="2.15"/><circle cx="47.6" cy="1143.0" r="2.15"/><circle cx="42.5" cy="1141.7" r="2.15"/><circle cx="43.6" cy="1145.1" r="2.15"/><circle cx="36.9" cy="1144.5" r="2.15"/><circle cx="54.5" cy="1143.2" r="2.15"/><circle cx="71.4" cy="1145.7" r="2.15"/><circle cx="64.0" cy="1152.6" r="2.15"/><circle cx="64.0" cy="1154.2" r="2.15"/><circle cx="52.8" cy="1145.6" r="2.15"/><circle cx="78.0" cy="1152.0" r="2.15"/><circle cx="65.2" cy="1141.0" r="2.15"/><circle cx="72.5" cy="1140.8" r="2.15"/><circle cx="36.2" cy="1140.1" r="2.15"/><circle cx="62.7" cy="1152.2" r="2.15"/><circle cx="41.9" cy="1137.1" r="2.15"/><circle cx="62.7" cy="1138.2" r="2.15"/><circle cx="60.6" cy="1151.7" r="2.15"/><circle cx="42.2" cy="1148.6" r="2.15"/><circle cx="60.4" cy="1151.2" r="2.15"/><circle cx="74.1" cy="1137.5" r="2.15"/><circle cx="64.9" cy="1148.0" r="2.15"/><circle cx="66.2" cy="1153.8" r="2.15"/><circle cx="45.9" cy="1148.6" r="2.15"/><circle cx="48.5" cy="1136.6" r="2.15"/><circle cx="42.4" cy="1145.6" r="2.15"/><circle cx="59.8" cy="1136.1" r="2.15"/><circle cx="74.6" cy="1139.3" r="2.15"/><circle cx="64.0" cy="1145.6" r="2.15"/><circle cx="58.0" cy="1152.7" r="2.15"/><circle cx="42.4" cy="1137.7" r="2.15"/><circle cx="64.2" cy="1137.4" r="2.15"/><circle cx="54.7" cy="1151.1" r="2.15"/><circle cx="36.6" cy="1143.7" r="2.15"/><circle cx="34.1" cy="1152.0" r="2.15"/><circle cx="53.3" cy="1143.4" r="2.15"/><circle cx="45.5" cy="1146.5" r="2.15"/><circle cx="81.0" cy="1149.6" r="2.15"/><circle cx="58.5" cy="1140.7" r="2.15"/><circle cx="43.5" cy="1134.5" r="2.15"/><circle cx="51.2" cy="1139.6" r="2.15"/><circle cx="80.2" cy="1143.0" r="2.15"/><circle cx="44.8" cy="1146.5" r="2.15"/><circle cx="68.8" cy="1147.5" r="2.15"/><circle cx="64.1" cy="1147.4" r="2.15"/><circle cx="78.5" cy="1151.5" r="2.15"/><circle cx="65.4" cy="1141.7" r="2.15"/><circle cx="52.4" cy="1150.9" r="2.15"/><circle cx="65.4" cy="1146.7" r="2.15"/><circle cx="59.0" cy="1150.5" r="2.15"/><circle cx="71.6" cy="1149.2" r="2.15"/><circle cx="57.2" cy="1152.0" r="2.15"/><circle cx="85.7" cy="1152.4" r="2.15"/><circle cx="56.7" cy="1149.2" r="2.15"/><circle cx="64.2" cy="1146.7" r="2.15"/><circle cx="49.0" cy="1142.7" r="2.15"/><circle cx="59.9" cy="1139.7" r="2.15"/><circle cx="58.5" cy="1152.5" r="2.15"/><circle cx="60.5" cy="1152.4" r="2.15"/><circle cx="70.7" cy="1140.5" r="2.15"/><circle cx="50.7" cy="1147.4" r="2.15"/><circle cx="46.4" cy="1149.4" r="2.15"/><circle cx="73.6" cy="1144.9" r="2.15"/><circle cx="54.2" cy="1142.6" r="2.15"/><circle cx="48.9" cy="1145.1" r="2.15"/><circle cx="74.3" cy="1134.1" r="2.15"/><circle cx="69.0" cy="1147.5" r="2.15"/><circle cx="46.7" cy="1145.8" r="2.15"/><circle cx="52.9" cy="1145.9" r="2.15"/><circle cx="69.1" cy="1154.2" r="2.15"/><circle cx="69.8" cy="1145.5" r="2.15"/><circle cx="51.1" cy="1147.8" r="2.15"/><circle cx="80.0" cy="1148.7" r="2.15"/><circle cx="47.2" cy="1149.5" r="2.15"/><circle cx="55.0" cy="1149.2" r="2.15"/><circle cx="60.0" cy="1147.0" r="2.15"/><circle cx="58.2" cy="1137.8" r="2.15"/><circle cx="69.5" cy="1145.6" r="2.15"/><circle cx="72.5" cy="1146.7" r="2.15"/><circle cx="57.7" cy="1142.7" r="2.15"/><circle cx="77.8" cy="1148.6" r="2.15"/><circle cx="48.8" cy="1134.7" r="2.15"/><circle cx="55.3" cy="1146.9" r="2.15"/><circle cx="82.3" cy="1150.7" r="2.15"/><circle cx="59.7" cy="1150.9" r="2.15"/><circle cx="73.2" cy="1148.9" r="2.15"/><circle cx="52.4" cy="1138.1" r="2.15"/><circle cx="54.7" cy="1142.6" r="2.15"/><circle cx="56.9" cy="1148.6" r="2.15"/><circle cx="60.8" cy="1148.8" r="2.15"/><circle cx="53.7" cy="1145.2" r="2.15"/><circle cx="58.6" cy="1142.5" r="2.15"/><circle cx="67.7" cy="1153.2" r="2.15"/><circle cx="75.2" cy="1140.5" r="2.15"/><circle cx="59.9" cy="1143.8" r="2.15"/><circle cx="67.5" cy="1150.7" r="2.15"/><circle cx="71.1" cy="1148.6" r="2.15"/><circle cx="43.5" cy="1154.0" r="2.15"/><circle cx="36.5" cy="1141.9" r="2.15"/><circle cx="81.0" cy="1141.9" r="2.15"/><circle cx="76.8" cy="1141.6" r="2.15"/><circle cx="59.3" cy="1139.9" r="2.15"/><circle cx="63.4" cy="1145.0" r="2.15"/><circle cx="45.3" cy="1151.8" r="2.15"/><circle cx="39.2" cy="1149.4" r="2.15"/><circle cx="62.9" cy="1142.6" r="2.15"/><circle cx="37.8" cy="1142.4" r="2.15"/><circle cx="71.2" cy="1139.6" r="2.15"/><circle cx="49.0" cy="1152.3" r="2.15"/><circle cx="62.5" cy="1133.7" r="2.15"/><circle cx="85.4" cy="1149.8" r="2.15"/><circle cx="84.7" cy="1137.8" r="2.15"/><circle cx="54.7" cy="1140.4" r="2.15"/><circle cx="73.3" cy="1137.4" r="2.15"/><circle cx="44.1" cy="1154.0" r="2.15"/><circle cx="50.3" cy="1147.2" r="2.15"/><circle cx="63.6" cy="1141.6" r="2.15"/><circle cx="77.7" cy="1140.5" r="2.15"/><circle cx="50.4" cy="1140.1" r="2.15"/><circle cx="66.0" cy="1151.9" r="2.15"/><circle cx="59.8" cy="1151.7" r="2.15"/><circle cx="40.8" cy="1145.8" r="2.15"/><circle cx="56.5" cy="1133.6" r="2.15"/><circle cx="79.3" cy="1150.7" r="2.15"/><circle cx="57.1" cy="1151.7" r="2.15"/><circle cx="65.4" cy="1150.5" r="2.15"/><circle cx="69.9" cy="1143.6" r="2.15"/><circle cx="48.1" cy="1152.2" r="2.15"/><circle cx="75.5" cy="1143.8" r="2.15"/><circle cx="79.3" cy="1148.0" r="2.15"/><circle cx="80.6" cy="1146.4" r="2.15"/><circle cx="76.7" cy="1152.1" r="2.15"/><circle cx="51.9" cy="1144.4" r="2.15"/><circle cx="50.2" cy="1145.3" r="2.15"/><circle cx="47.4" cy="1153.2" r="2.15"/><circle cx="45.7" cy="1149.3" r="2.15"/><circle cx="47.2" cy="1147.5" r="2.15"/><circle cx="72.2" cy="1146.0" r="2.15"/><circle cx="78.7" cy="1154.3" r="2.15"/><circle cx="49.4" cy="1143.1" r="2.15"/><circle cx="69.6" cy="1150.9" r="2.15"/><circle cx="40.7" cy="1146.8" r="2.15"/><circle cx="53.7" cy="1150.4" r="2.15"/><circle cx="44.4" cy="1142.1" r="2.15"/><circle cx="35.6" cy="1139.2" r="2.15"/><circle cx="59.0" cy="1148.6" r="2.15"/><circle cx="59.4" cy="1139.0" r="2.15"/><circle cx="52.6" cy="1136.4" r="2.15"/><circle cx="50.9" cy="1142.3" r="2.15"/><circle cx="44.5" cy="1139.9" r="2.15"/><circle cx="56.4" cy="1153.7" r="2.15"/><circle cx="49.8" cy="1137.4" r="2.15"/><circle cx="61.6" cy="1150.0" r="2.15"/><circle cx="41.4" cy="1142.3" r="2.15"/><circle cx="61.4" cy="1148.4" r="2.15"/><circle cx="65.3" cy="1152.3" r="2.15"/><circle cx="75.5" cy="1149.1" r="2.15"/><circle cx="72.8" cy="1152.6" r="2.15"/><circle cx="60.8" cy="1140.6" r="2.15"/><circle cx="48.6" cy="1131.6" r="2.15"/><circle cx="35.4" cy="1146.1" r="2.15"/><circle cx="58.0" cy="1135.7" r="2.15"/><circle cx="77.9" cy="1143.4" r="2.15"/><circle cx="81.3" cy="1154.1" r="2.15"/><circle cx="45.4" cy="1146.1" r="2.15"/><circle cx="47.5" cy="1143.3" r="2.15"/><circle cx="53.2" cy="1139.6" r="2.15"/><circle cx="43.6" cy="1145.4" r="2.15"/><circle cx="60.7" cy="1146.2" r="2.15"/><circle cx="58.6" cy="1136.4" r="2.15"/><circle cx="50.9" cy="1149.5" r="2.15"/><circle cx="57.6" cy="1139.9" r="2.15"/><circle cx="35.8" cy="1149.0" r="2.15"/><circle cx="44.5" cy="1144.3" r="2.15"/><circle cx="45.6" cy="1154.2" r="2.15"/><circle cx="70.6" cy="1153.4" r="2.15"/><circle cx="35.3" cy="1147.5" r="2.15"/><circle cx="55.1" cy="1146.7" r="2.15"/><circle cx="69.0" cy="1150.5" r="2.15"/><circle cx="57.3" cy="1151.5" r="2.15"/><circle cx="69.4" cy="1153.7" r="2.15"/><circle cx="49.0" cy="1148.6" r="2.15"/><circle cx="64.2" cy="1149.7" r="2.15"/><circle cx="70.7" cy="1150.0" r="2.15"/><circle cx="89.3" cy="1136.1" r="2.15"/><circle cx="68.3" cy="1151.4" r="2.15"/><circle cx="78.1" cy="1141.3" r="2.15"/><circle cx="58.3" cy="1151.5" r="2.15"/><circle cx="59.5" cy="1144.2" r="2.15"/><circle cx="80.1" cy="1146.9" r="2.15"/><circle cx="66.3" cy="1140.1" r="2.15"/><circle cx="78.0" cy="1147.8" r="2.15"/><circle cx="68.1" cy="1153.3" r="2.15"/><circle cx="87.9" cy="1149.1" r="2.15"/><circle cx="91.5" cy="1138.9" r="2.15"/><circle cx="46.5" cy="1144.7" r="2.15"/><circle cx="84.2" cy="1133.4" r="2.15"/><circle cx="64.3" cy="1154.1" r="2.15"/><circle cx="64.9" cy="1147.8" r="2.15"/><circle cx="56.6" cy="1151.5" r="2.15"/><circle cx="57.0" cy="1138.7" r="2.15"/><circle cx="105.3" cy="1126.8" r="2.15"/><circle cx="73.2" cy="1147.3" r="2.15"/><circle cx="38.2" cy="1154.0" r="2.15"/><circle cx="95.6" cy="1145.7" r="2.15"/><circle cx="56.0" cy="1143.0" r="2.15"/><circle cx="47.2" cy="1142.7" r="2.15"/><circle cx="81.4" cy="1136.3" r="2.15"/><circle cx="78.8" cy="1148.7" r="2.15"/><circle cx="59.8" cy="1143.1" r="2.15"/><circle cx="68.3" cy="1126.6" r="2.15"/><circle cx="40.4" cy="1134.5" r="2.15"/><circle cx="38.1" cy="1115.2" r="2.15"/><circle cx="89.8" cy="1147.6" r="2.15"/><circle cx="99.0" cy="1148.7" r="2.15"/><circle cx="79.5" cy="1149.8" r="2.15"/><circle cx="78.2" cy="1146.6" r="2.15"/><circle cx="61.3" cy="1133.2" r="2.15"/><circle cx="67.1" cy="1145.5" r="2.15"/><circle cx="49.4" cy="1151.0" r="2.15"/><circle cx="108.7" cy="1149.0" r="2.15"/><circle cx="57.5" cy="1135.9" r="2.15"/><circle cx="79.0" cy="1149.0" r="2.15"/><circle cx="70.0" cy="1146.0" r="2.15"/><circle cx="39.2" cy="1154.0" r="2.15"/><circle cx="112.7" cy="1140.7" r="2.15"/><circle cx="61.7" cy="1138.6" r="2.15"/><circle cx="53.1" cy="1135.9" r="2.15"/><circle cx="72.5" cy="1137.2" r="2.15"/><circle cx="50.2" cy="1133.3" r="2.15"/><circle cx="70.7" cy="1137.5" r="2.15"/><circle cx="48.9" cy="1145.9" r="2.15"/><circle cx="82.4" cy="1145.5" r="2.15"/><circle cx="71.2" cy="1154.1" r="2.15"/><circle cx="39.9" cy="1151.8" r="2.15"/><circle cx="92.8" cy="1147.1" r="2.15"/><circle cx="74.3" cy="1129.3" r="2.15"/><circle cx="45.7" cy="1146.5" r="2.15"/><circle cx="78.0" cy="1152.5" r="2.15"/><circle cx="79.5" cy="1127.7" r="2.15"/><circle cx="111.0" cy="1129.6" r="2.15"/><circle cx="51.1" cy="1131.2" r="2.15"/><circle cx="88.9" cy="1130.3" r="2.15"/><circle cx="68.0" cy="1137.8" r="2.15"/><circle cx="83.7" cy="1131.3" r="2.15"/><circle cx="64.4" cy="1144.5" r="2.15"/><circle cx="68.9" cy="1128.5" r="2.15"/><circle cx="81.1" cy="1139.4" r="2.15"/><circle cx="43.9" cy="1135.6" r="2.15"/><circle cx="44.2" cy="1130.9" r="2.15"/><circle cx="70.0" cy="1150.9" r="2.15"/><circle cx="60.4" cy="1140.9" r="2.15"/><circle cx="72.2" cy="1146.0" r="2.15"/><circle cx="84.4" cy="1137.2" r="2.15"/><circle cx="65.5" cy="1147.6" r="2.15"/><circle cx="96.6" cy="1146.7" r="2.15"/><circle cx="69.5" cy="1139.0" r="2.15"/><circle cx="72.9" cy="1122.8" r="2.15"/><circle cx="88.8" cy="1148.8" r="2.15"/><circle cx="83.5" cy="1147.5" r="2.15"/><circle cx="68.6" cy="1142.4" r="2.15"/><circle cx="73.3" cy="1143.0" r="2.15"/><circle cx="53.9" cy="1141.8" r="2.15"/><circle cx="57.1" cy="1142.5" r="2.15"/><circle cx="72.9" cy="1130.5" r="2.15"/><circle cx="88.6" cy="1140.0" r="2.15"/><circle cx="61.1" cy="1143.8" r="2.15"/><circle cx="89.2" cy="1134.5" r="2.15"/><circle cx="113.5" cy="1130.9" r="2.15"/><circle cx="118.1" cy="1149.4" r="2.15"/><circle cx="71.4" cy="1146.7" r="2.15"/><circle cx="94.1" cy="1137.5" r="2.15"/><circle cx="84.4" cy="1135.7" r="2.15"/><circle cx="88.3" cy="1114.1" r="2.15"/><circle cx="89.5" cy="1126.3" r="2.15"/><circle cx="82.5" cy="1138.1" r="2.15"/><circle cx="89.3" cy="1153.5" r="2.15"/><circle cx="75.3" cy="1120.0" r="2.15"/><circle cx="65.4" cy="1133.6" r="2.15"/><circle cx="76.7" cy="1148.9" r="2.15"/><circle cx="82.0" cy="1147.3" r="2.15"/><circle cx="98.2" cy="1144.7" r="2.15"/><circle cx="79.4" cy="1152.5" r="2.15"/><circle cx="87.6" cy="1139.4" r="2.15"/><circle cx="102.6" cy="1138.8" r="2.15"/><circle cx="50.6" cy="1147.7" r="2.15"/><circle cx="65.4" cy="1149.1" r="2.15"/><circle cx="83.1" cy="1129.9" r="2.15"/><circle cx="71.8" cy="1152.7" r="2.15"/><circle cx="48.9" cy="1123.2" r="2.15"/><circle cx="93.0" cy="1133.7" r="2.15"/><circle cx="69.6" cy="1137.2" r="2.15"/><circle cx="49.1" cy="1135.5" r="2.15"/><circle cx="113.0" cy="1147.2" r="2.15"/><circle cx="42.9" cy="1130.6" r="2.15"/><circle cx="70.8" cy="1137.4" r="2.15"/><circle cx="56.3" cy="1133.4" r="2.15"/><circle cx="73.5" cy="1136.6" r="2.15"/><circle cx="83.6" cy="1147.2" r="2.15"/><circle cx="53.1" cy="1150.5" r="2.15"/><circle cx="68.8" cy="1149.4" r="2.15"/><circle cx="68.2" cy="1152.4" r="2.15"/><circle cx="48.9" cy="1135.6" r="2.15"/><circle cx="96.8" cy="1153.3" r="2.15"/><circle cx="74.8" cy="1146.3" r="2.15"/><circle cx="64.7" cy="1154.2" r="2.15"/><circle cx="56.3" cy="1136.4" r="2.15"/><circle cx="63.6" cy="1138.3" r="2.15"/><circle cx="74.1" cy="1154.3" r="2.15"/><circle cx="60.8" cy="1146.7" r="2.15"/><circle cx="98.5" cy="1141.7" r="2.15"/><circle cx="53.1" cy="1133.7" r="2.15"/><circle cx="44.3" cy="1139.6" r="2.15"/><circle cx="65.3" cy="1145.4" r="2.15"/><circle cx="37.7" cy="1147.8" r="2.15"/><circle cx="69.5" cy="1135.0" r="2.15"/><circle cx="56.5" cy="1137.1" r="2.15"/><circle cx="83.8" cy="1144.8" r="2.15"/><circle cx="80.1" cy="1129.4" r="2.15"/><circle cx="99.8" cy="1149.8" r="2.15"/><circle cx="91.3" cy="1140.3" r="2.15"/><circle cx="98.6" cy="1139.0" r="2.15"/><circle cx="82.7" cy="1116.1" r="2.15"/><circle cx="94.5" cy="1124.3" r="2.15"/><circle cx="82.0" cy="1129.8" r="2.15"/><circle cx="58.0" cy="1134.3" r="2.15"/><circle cx="43.4" cy="1129.1" r="2.15"/><circle cx="44.3" cy="1143.8" r="2.15"/><circle cx="81.6" cy="1141.4" r="2.15"/><circle cx="49.6" cy="1137.3" r="2.15"/><circle cx="74.9" cy="1119.7" r="2.15"/><circle cx="54.4" cy="1154.0" r="2.15"/><circle cx="87.2" cy="1137.2" r="2.15"/><circle cx="75.4" cy="1145.9" r="2.15"/><circle cx="54.5" cy="1133.3" r="2.15"/><circle cx="71.3" cy="1140.0" r="2.15"/><circle cx="47.1" cy="1146.9" r="2.15"/><circle cx="76.9" cy="1142.3" r="2.15"/><circle cx="81.3" cy="1149.6" r="2.15"/><circle cx="37.5" cy="1138.2" r="2.15"/><circle cx="89.9" cy="1148.7" r="2.15"/><circle cx="68.4" cy="1121.0" r="2.15"/><circle cx="74.8" cy="1134.4" r="2.15"/><circle cx="39.7" cy="1149.7" r="2.15"/><circle cx="84.4" cy="1137.4" r="2.15"/><circle cx="83.9" cy="1135.5" r="2.15"/><circle cx="70.7" cy="1122.2" r="2.15"/><circle cx="49.4" cy="1151.9" r="2.15"/><circle cx="87.9" cy="1120.9" r="2.15"/><circle cx="98.6" cy="1145.0" r="2.15"/><circle cx="80.0" cy="1141.8" r="2.15"/><circle cx="93.2" cy="1148.6" r="2.15"/><circle cx="58.3" cy="1154.1" r="2.15"/><circle cx="74.7" cy="1132.8" r="2.15"/><circle cx="79.6" cy="1131.8" r="2.15"/><circle cx="74.5" cy="1136.7" r="2.15"/><circle cx="133.5" cy="1122.6" r="2.15"/><circle cx="80.7" cy="1148.0" r="2.15"/><circle cx="59.2" cy="1135.8" r="2.15"/><circle cx="89.8" cy="1141.4" r="2.15"/><circle cx="47.7" cy="1128.5" r="2.15"/><circle cx="79.8" cy="1139.9" r="2.15"/><circle cx="88.7" cy="1133.5" r="2.15"/><circle cx="60.9" cy="1139.0" r="2.15"/><circle cx="64.8" cy="1128.8" r="2.15"/><circle cx="51.2" cy="1149.9" r="2.15"/><circle cx="74.8" cy="1133.2" r="2.15"/><circle cx="57.1" cy="1114.1" r="2.15"/><circle cx="110.2" cy="1146.1" r="2.15"/><circle cx="86.3" cy="1136.6" r="2.15"/><circle cx="57.0" cy="1142.6" r="2.15"/><circle cx="141.7" cy="1135.0" r="2.15"/><circle cx="77.7" cy="1130.2" r="2.15"/><circle cx="45.5" cy="1132.5" r="2.15"/><circle cx="63.6" cy="1121.4" r="2.15"/><circle cx="88.5" cy="1133.3" r="2.15"/><circle cx="73.3" cy="1127.2" r="2.15"/><circle cx="110.0" cy="1149.0" r="2.15"/><circle cx="105.5" cy="1136.1" r="2.15"/><circle cx="59.2" cy="1125.6" r="2.15"/><circle cx="79.9" cy="1129.0" r="2.15"/><circle cx="95.0" cy="1130.3" r="2.15"/><circle cx="68.6" cy="1113.1" r="2.15"/><circle cx="67.3" cy="1119.8" r="2.15"/><circle cx="100.9" cy="1148.0" r="2.15"/><circle cx="90.2" cy="1112.8" r="2.15"/><circle cx="43.9" cy="1122.7" r="2.15"/><circle cx="65.2" cy="1142.0" r="2.15"/><circle cx="68.6" cy="1147.8" r="2.15"/><circle cx="76.0" cy="1117.4" r="2.15"/><circle cx="61.0" cy="1147.3" r="2.15"/><circle cx="112.5" cy="1125.4" r="2.15"/><circle cx="54.7" cy="1149.6" r="2.15"/><circle cx="51.8" cy="1135.8" r="2.15"/><circle cx="84.2" cy="1126.4" r="2.15"/><circle cx="45.4" cy="1138.5" r="2.15"/><circle cx="53.2" cy="1136.5" r="2.15"/><circle cx="94.6" cy="1120.5" r="2.15"/><circle cx="45.9" cy="1153.0" r="2.15"/><circle cx="57.9" cy="1125.7" r="2.15"/><circle cx="98.5" cy="1053.6" r="2.15"/><circle cx="109.5" cy="1058.9" r="2.15"/><circle cx="117.8" cy="1072.0" r="2.15"/><circle cx="67.9" cy="1083.4" r="2.15"/><circle cx="82.7" cy="1087.4" r="2.15"/><circle cx="83.8" cy="1089.1" r="2.15"/><circle cx="94.8" cy="1085.2" r="2.15"/><circle cx="53.8" cy="1093.5" r="2.15"/><circle cx="67.9" cy="1096.3" r="2.15"/><circle cx="90.0" cy="1093.9" r="2.15"/><circle cx="38.5" cy="1103.4" r="2.15"/><circle cx="32.8" cy="1107.7" r="2.15"/><circle cx="51.6" cy="1104.9" r="2.15"/><circle cx="51.6" cy="1109.3" r="2.15"/><circle cx="61.9" cy="1109.9" r="2.15"/><circle cx="77.9" cy="1105.5" r="2.15"/><circle cx="37.9" cy="1112.8" r="2.15"/><circle cx="51.0" cy="1115.4" r="2.15"/><circle cx="67.4" cy="1115.4" r="2.15"/><circle cx="108.6" cy="1107.7" r="2.15"/><circle cx="113.8" cy="1106.2" r="2.15"/><circle cx="126.5" cy="1102.3" r="2.15"/><circle cx="129.8" cy="1100.5" r="2.15"/><circle cx="138.6" cy="1101.2" r="2.15"/><circle cx="97.0" cy="1114.3" r="2.15"/><circle cx="118.2" cy="1119.3" r="2.15"/><circle cx="125.4" cy="1115.8" r="2.15"/><circle cx="127.6" cy="1115.4" r="2.15"/><circle cx="136.0" cy="1115.8" r="2.15"/><circle cx="142.3" cy="1125.9" r="2.15"/><circle cx="159.4" cy="1129.6" r="2.15"/><circle cx="163.3" cy="1132.9" r="2.15"/><circle cx="163.8" cy="1138.4" r="2.15"/><circle cx="145.8" cy="1131.8" r="2.15"/><circle cx="148.4" cy="1139.5" r="2.15"/><circle cx="132.7" cy="1139.5" r="2.15"/><circle cx="133.1" cy="1144.3" r="2.15"/><circle cx="159.4" cy="1153.1" r="2.15"/><circle cx="158.7" cy="1155.9" r="2.15"/><circle cx="121.7" cy="1155.9" r="2.15"/><circle cx="122.6" cy="1150.0" r="2.15"/><circle cx="120.0" cy="1134.7" r="2.15"/><circle cx="106.8" cy="1124.2" r="2.15"/><circle cx="110.8" cy="1127.4" r="2.15"/><circle cx="108.5" cy="1108.0" r="2.15"/><circle cx="114.2" cy="1105.7" r="2.15"/><circle cx="118.6" cy="1119.7" r="2.15"/><circle cx="133.2" cy="1126.6" r="2.15"/><circle cx="142.7" cy="1126.0" r="2.15"/><circle cx="145.5" cy="1131.7" r="2.15"/><circle cx="149.0" cy="1139.7" r="2.15"/><circle cx="131.9" cy="1139.8" r="2.15"/><circle cx="120.9" cy="1127.9" r="2.15"/><circle cx="119.9" cy="1135.5" r="2.15"/><circle cx="158.8" cy="1152.9" r="2.15"/><circle cx="127.5" cy="1152.0" r="2.15"/><circle cx="100.0" cy="1120.0" r="2.15"/><circle cx="95.0" cy="1128.0" r="2.15"/><circle cx="104.0" cy="1133.0" r="2.15"/><circle cx="112.0" cy="1140.0" r="2.15"/><circle cx="98.0" cy="1144.0" r="2.15"/><circle cx="88.0" cy="1118.0" r="2.15"/><circle cx="80.0" cy="1112.0" r="2.15"/><circle cx="72.0" cy="1120.0" r="2.15"/></g>
<line x1="223.5" y1="965" x2="32.5" y2="1155.8" stroke="#6e6e6e" stroke-width="1.2"/>
<path d="M32.5,965V1159.8M28.0,1155.8H223.5M32.5,965h-4.5M32.5,1060.5h-4.5M128.2,1155.8v4M223.5,1155.8v4" stroke="#505050" stroke-width="1.35" fill="none"/>
<ellipse cx="71.4" cy="1079.9" rx="49.1" ry="28.9" transform="rotate(-46.1 71.4 1079.9)" fill="none" stroke="#1a1a1a" stroke-width="1.15" stroke-dasharray="1.2 2.1"/>
<ellipse cx="127.4" cy="1121.1" rx="30.2" ry="63.7" transform="rotate(75.3 127.4 1121.1)" fill="none" stroke="#1a1a1a" stroke-width="1.15" stroke-dasharray="1.2 2.1"/>
<g fill="#e0262b"><circle cx="298.7" cy="1154.3" r="2.15"/><circle cx="279.0" cy="1150.7" r="2.15"/><circle cx="262.9" cy="1146.8" r="2.15"/><circle cx="271.4" cy="1138.7" r="2.15"/><circle cx="283.6" cy="1130.9" r="2.15"/><circle cx="293.0" cy="1151.2" r="2.15"/><circle cx="306.0" cy="1134.3" r="2.15"/><circle cx="285.8" cy="1150.2" r="2.15"/><circle cx="281.5" cy="1154.0" r="2.15"/><circle cx="270.1" cy="1136.1" r="2.15"/><circle cx="284.3" cy="1148.3" r="2.15"/><circle cx="288.4" cy="1145.9" r="2.15"/><circle cx="262.9" cy="1150.6" r="2.15"/><circle cx="300.5" cy="1151.0" r="2.15"/><circle cx="298.5" cy="1151.6" r="2.15"/><circle cx="312.2" cy="1152.5" r="2.15"/><circle cx="273.9" cy="1140.6" r="2.15"/><circle cx="285.3" cy="1129.6" r="2.15"/><circle cx="285.0" cy="1149.3" r="2.15"/><circle cx="268.9" cy="1141.4" r="2.15"/><circle cx="274.6" cy="1150.9" r="2.15"/><circle cx="273.0" cy="1136.2" r="2.15"/><circle cx="291.0" cy="1148.6" r="2.15"/><circle cx="290.0" cy="1140.9" r="2.15"/><circle cx="301.0" cy="1139.8" r="2.15"/><circle cx="279.9" cy="1148.7" r="2.15"/><circle cx="268.0" cy="1148.4" r="2.15"/><circle cx="290.0" cy="1145.5" r="2.15"/><circle cx="289.2" cy="1153.1" r="2.15"/><circle cx="292.8" cy="1140.5" r="2.15"/><circle cx="299.7" cy="1144.0" r="2.15"/><circle cx="277.7" cy="1141.7" r="2.15"/><circle cx="294.3" cy="1146.1" r="2.15"/><circle cx="272.7" cy="1149.7" r="2.15"/><circle cx="286.6" cy="1152.2" r="2.15"/><circle cx="293.0" cy="1153.2" r="2.15"/><circle cx="283.4" cy="1145.5" r="2.15"/><circle cx="287.4" cy="1145.7" r="2.15"/><circle cx="268.0" cy="1133.5" r="2.15"/><circle cx="276.9" cy="1150.9" r="2.15"/><circle cx="286.5" cy="1149.1" r="2.15"/><circle cx="270.3" cy="1143.6" r="2.15"/><circle cx="274.5" cy="1152.5" r="2.15"/><circle cx="313.9" cy="1132.2" r="2.15"/><circle cx="287.8" cy="1150.4" r="2.15"/><circle cx="274.8" cy="1135.6" r="2.15"/><circle cx="272.2" cy="1137.5" r="2.15"/><circle cx="301.2" cy="1145.2" r="2.15"/><circle cx="270.3" cy="1151.4" r="2.15"/><circle cx="280.1" cy="1137.1" r="2.15"/><circle cx="291.5" cy="1138.7" r="2.15"/><circle cx="277.1" cy="1136.9" r="2.15"/><circle cx="290.1" cy="1145.8" r="2.15"/><circle cx="271.2" cy="1151.3" r="2.15"/><circle cx="283.5" cy="1150.3" r="2.15"/><circle cx="284.2" cy="1145.3" r="2.15"/><circle cx="283.8" cy="1149.0" r="2.15"/><circle cx="285.4" cy="1129.5" r="2.15"/><circle cx="284.0" cy="1142.8" r="2.15"/><circle cx="297.0" cy="1137.0" r="2.15"/><circle cx="280.4" cy="1145.6" r="2.15"/><circle cx="276.4" cy="1135.2" r="2.15"/><circle cx="280.1" cy="1149.5" r="2.15"/><circle cx="279.8" cy="1142.7" r="2.15"/><circle cx="265.2" cy="1143.3" r="2.15"/><circle cx="260.7" cy="1147.1" r="2.15"/><circle cx="267.2" cy="1145.8" r="2.15"/><circle cx="286.8" cy="1141.3" r="2.15"/><circle cx="275.4" cy="1136.7" r="2.15"/><circle cx="278.5" cy="1141.5" r="2.15"/><circle cx="317.9" cy="1138.3" r="2.15"/><circle cx="296.9" cy="1139.4" r="2.15"/><circle cx="280.9" cy="1147.9" r="2.15"/><circle cx="275.8" cy="1145.7" r="2.15"/><circle cx="299.9" cy="1150.9" r="2.15"/><circle cx="274.0" cy="1144.9" r="2.15"/><circle cx="298.3" cy="1146.5" r="2.15"/><circle cx="290.5" cy="1140.8" r="2.15"/><circle cx="300.0" cy="1138.6" r="2.15"/><circle cx="274.7" cy="1154.0" r="2.15"/><circle cx="294.2" cy="1141.0" r="2.15"/><circle cx="261.6" cy="1147.9" r="2.15"/><circle cx="281.3" cy="1154.4" r="2.15"/><circle cx="296.3" cy="1146.1" r="2.15"/><circle cx="291.7" cy="1143.9" r="2.15"/><circle cx="261.3" cy="1154.5" r="2.15"/><circle cx="291.6" cy="1149.7" r="2.15"/><circle cx="288.8" cy="1142.5" r="2.15"/><circle cx="282.6" cy="1136.9" r="2.15"/><circle cx="274.7" cy="1143.7" r="2.15"/><circle cx="280.0" cy="1133.1" r="2.15"/><circle cx="276.4" cy="1139.6" r="2.15"/><circle cx="294.7" cy="1137.8" r="2.15"/><circle cx="288.9" cy="1149.3" r="2.15"/><circle cx="296.2" cy="1153.2" r="2.15"/><circle cx="291.6" cy="1141.4" r="2.15"/><circle cx="267.9" cy="1143.2" r="2.15"/><circle cx="285.0" cy="1137.7" r="2.15"/><circle cx="309.1" cy="1135.4" r="2.15"/><circle cx="270.0" cy="1143.2" r="2.15"/><circle cx="286.7" cy="1151.5" r="2.15"/><circle cx="273.9" cy="1150.7" r="2.15"/><circle cx="272.6" cy="1151.7" r="2.15"/><circle cx="285.9" cy="1144.6" r="2.15"/><circle cx="294.3" cy="1124.1" r="2.15"/><circle cx="292.5" cy="1154.5" r="2.15"/><circle cx="288.9" cy="1151.6" r="2.15"/><circle cx="294.7" cy="1154.4" r="2.15"/><circle cx="263.7" cy="1154.4" r="2.15"/><circle cx="293.1" cy="1153.4" r="2.15"/><circle cx="288.2" cy="1140.2" r="2.15"/><circle cx="281.1" cy="1149.6" r="2.15"/><circle cx="283.2" cy="1149.6" r="2.15"/><circle cx="273.0" cy="1153.7" r="2.15"/><circle cx="297.3" cy="1152.6" r="2.15"/><circle cx="274.2" cy="1145.9" r="2.15"/><circle cx="265.6" cy="1144.1" r="2.15"/><circle cx="283.2" cy="1137.6" r="2.15"/><circle cx="276.3" cy="1151.8" r="2.15"/><circle cx="282.4" cy="1144.4" r="2.15"/><circle cx="301.5" cy="1137.0" r="2.15"/><circle cx="281.6" cy="1140.7" r="2.15"/><circle cx="284.8" cy="1137.1" r="2.15"/><circle cx="310.5" cy="1149.1" r="2.15"/><circle cx="266.4" cy="1144.9" r="2.15"/><circle cx="287.7" cy="1147.9" r="2.15"/><circle cx="297.4" cy="1136.9" r="2.15"/><circle cx="301.5" cy="1138.4" r="2.15"/><circle cx="310.3" cy="1153.7" r="2.15"/><circle cx="275.4" cy="1145.0" r="2.15"/><circle cx="290.7" cy="1148.8" r="2.15"/><circle cx="282.2" cy="1147.2" r="2.15"/><circle cx="277.9" cy="1145.1" r="2.15"/><circle cx="274.7" cy="1152.7" r="2.15"/><circle cx="265.8" cy="1151.0" r="2.15"/><circle cx="287.4" cy="1148.9" r="2.15"/><circle cx="292.5" cy="1144.6" r="2.15"/><circle cx="270.6" cy="1145.6" r="2.15"/><circle cx="292.6" cy="1136.9" r="2.15"/><circle cx="276.8" cy="1146.2" r="2.15"/><circle cx="271.2" cy="1131.0" r="2.15"/><circle cx="269.4" cy="1136.5" r="2.15"/><circle cx="296.7" cy="1150.3" r="2.15"/><circle cx="292.1" cy="1150.8" r="2.15"/><circle cx="279.7" cy="1149.8" r="2.15"/><circle cx="278.8" cy="1144.3" r="2.15"/><circle cx="267.8" cy="1141.1" r="2.15"/><circle cx="289.7" cy="1142.5" r="2.15"/><circle cx="282.7" cy="1143.8" r="2.15"/><circle cx="290.0" cy="1153.3" r="2.15"/><circle cx="285.6" cy="1150.3" r="2.15"/><circle cx="266.5" cy="1150.7" r="2.15"/><circle cx="264.7" cy="1142.5" r="2.15"/><circle cx="288.6" cy="1139.2" r="2.15"/><circle cx="263.1" cy="1149.5" r="2.15"/><circle cx="286.9" cy="1145.1" r="2.15"/><circle cx="294.6" cy="1131.8" r="2.15"/><circle cx="268.1" cy="1151.0" r="2.15"/><circle cx="291.8" cy="1146.9" r="2.15"/><circle cx="284.3" cy="1144.3" r="2.15"/><circle cx="290.2" cy="1139.8" r="2.15"/><circle cx="276.2" cy="1139.7" r="2.15"/><circle cx="283.7" cy="1154.5" r="2.15"/><circle cx="289.1" cy="1139.2" r="2.15"/><circle cx="306.1" cy="1147.8" r="2.15"/><circle cx="292.9" cy="1152.3" r="2.15"/><circle cx="290.1" cy="1147.1" r="2.15"/><circle cx="268.4" cy="1152.0" r="2.15"/><circle cx="288.2" cy="1146.7" r="2.15"/><circle cx="275.9" cy="1143.3" r="2.15"/><circle cx="283.4" cy="1154.1" r="2.15"/><circle cx="287.5" cy="1154.0" r="2.15"/><circle cx="296.0" cy="1143.5" r="2.15"/><circle cx="291.5" cy="1151.9" r="2.15"/><circle cx="286.6" cy="1145.9" r="2.15"/><circle cx="283.7" cy="1133.5" r="2.15"/><circle cx="300.8" cy="1138.6" r="2.15"/><circle cx="273.7" cy="1153.7" r="2.15"/><circle cx="284.9" cy="1150.4" r="2.15"/><circle cx="301.1" cy="1152.6" r="2.15"/><circle cx="282.1" cy="1145.3" r="2.15"/><circle cx="294.5" cy="1141.0" r="2.15"/><circle cx="295.2" cy="1151.5" r="2.15"/><circle cx="308.4" cy="1149.8" r="2.15"/><circle cx="298.2" cy="1133.6" r="2.15"/><circle cx="264.5" cy="1152.4" r="2.15"/><circle cx="284.5" cy="1141.1" r="2.15"/><circle cx="288.0" cy="1152.6" r="2.15"/><circle cx="294.4" cy="1151.5" r="2.15"/><circle cx="289.1" cy="1153.0" r="2.15"/><circle cx="307.2" cy="1153.5" r="2.15"/><circle cx="297.7" cy="1152.9" r="2.15"/><circle cx="270.0" cy="1138.3" r="2.15"/><circle cx="276.6" cy="1138.5" r="2.15"/><circle cx="262.0" cy="1153.8" r="2.15"/><circle cx="305.1" cy="1151.0" r="2.15"/><circle cx="282.6" cy="1133.9" r="2.15"/><circle cx="282.3" cy="1130.3" r="2.15"/><circle cx="264.8" cy="1154.4" r="2.15"/><circle cx="278.5" cy="1143.9" r="2.15"/><circle cx="288.9" cy="1153.9" r="2.15"/><circle cx="278.7" cy="1145.0" r="2.15"/><circle cx="278.8" cy="1149.2" r="2.15"/><circle cx="276.0" cy="1124.4" r="2.15"/><circle cx="307.4" cy="1138.7" r="2.15"/><circle cx="276.7" cy="1153.9" r="2.15"/><circle cx="265.6" cy="1154.2" r="2.15"/><circle cx="276.9" cy="1129.3" r="2.15"/><circle cx="278.8" cy="1152.5" r="2.15"/><circle cx="281.9" cy="1151.5" r="2.15"/><circle cx="280.0" cy="1154.6" r="2.15"/><circle cx="269.3" cy="1145.3" r="2.15"/><circle cx="280.4" cy="1147.1" r="2.15"/><circle cx="287.5" cy="1138.1" r="2.15"/><circle cx="265.7" cy="1149.7" r="2.15"/><circle cx="306.8" cy="1154.5" r="2.15"/><circle cx="303.4" cy="1139.2" r="2.15"/><circle cx="260.6" cy="1150.1" r="2.15"/><circle cx="278.2" cy="1142.6" r="2.15"/><circle cx="295.0" cy="1153.7" r="2.15"/><circle cx="299.0" cy="1154.2" r="2.15"/><circle cx="304.4" cy="1127.4" r="2.15"/><circle cx="261.0" cy="1150.8" r="2.15"/><circle cx="269.2" cy="1153.9" r="2.15"/><circle cx="276.4" cy="1142.4" r="2.15"/><circle cx="289.4" cy="1145.2" r="2.15"/><circle cx="269.6" cy="1145.8" r="2.15"/><circle cx="288.0" cy="1137.5" r="2.15"/><circle cx="288.3" cy="1146.1" r="2.15"/><circle cx="291.6" cy="1149.4" r="2.15"/><circle cx="267.2" cy="1151.0" r="2.15"/><circle cx="285.3" cy="1149.7" r="2.15"/><circle cx="283.8" cy="1154.1" r="2.15"/><circle cx="277.9" cy="1152.4" r="2.15"/><circle cx="298.9" cy="1148.0" r="2.15"/><circle cx="279.5" cy="1153.5" r="2.15"/><circle cx="300.8" cy="1145.6" r="2.15"/><circle cx="275.9" cy="1150.1" r="2.15"/><circle cx="304.0" cy="1149.7" r="2.15"/><circle cx="303.4" cy="1141.2" r="2.15"/><circle cx="273.3" cy="1139.4" r="2.15"/><circle cx="287.5" cy="1149.0" r="2.15"/><circle cx="287.3" cy="1150.7" r="2.15"/><circle cx="271.6" cy="1131.8" r="2.15"/><circle cx="293.1" cy="1148.9" r="2.15"/><circle cx="290.8" cy="1149.9" r="2.15"/><circle cx="273.0" cy="1149.5" r="2.15"/><circle cx="284.9" cy="1142.5" r="2.15"/><circle cx="294.6" cy="1143.2" r="2.15"/><circle cx="281.8" cy="1154.3" r="2.15"/><circle cx="275.1" cy="1135.6" r="2.15"/><circle cx="303.8" cy="1141.1" r="2.15"/><circle cx="271.9" cy="1153.7" r="2.15"/><circle cx="288.1" cy="1151.3" r="2.15"/><circle cx="297.7" cy="1148.1" r="2.15"/><circle cx="293.7" cy="1146.7" r="2.15"/><circle cx="261.6" cy="1145.2" r="2.15"/><circle cx="280.1" cy="1143.2" r="2.15"/><circle cx="282.5" cy="1138.4" r="2.15"/><circle cx="281.6" cy="1151.7" r="2.15"/><circle cx="291.9" cy="1123.8" r="2.15"/><circle cx="290.9" cy="1140.8" r="2.15"/><circle cx="286.0" cy="1152.3" r="2.15"/><circle cx="287.6" cy="1140.3" r="2.15"/><circle cx="296.8" cy="1136.9" r="2.15"/><circle cx="299.7" cy="1146.9" r="2.15"/><circle cx="261.4" cy="1154.0" r="2.15"/><circle cx="311.2" cy="1145.5" r="2.15"/><circle cx="277.9" cy="1141.9" r="2.15"/><circle cx="294.1" cy="1144.8" r="2.15"/><circle cx="264.8" cy="1143.8" r="2.15"/><circle cx="278.4" cy="1144.7" r="2.15"/><circle cx="269.4" cy="1140.6" r="2.15"/><circle cx="298.0" cy="1151.2" r="2.15"/><circle cx="295.6" cy="1142.0" r="2.15"/><circle cx="284.8" cy="1131.6" r="2.15"/><circle cx="282.7" cy="1135.9" r="2.15"/><circle cx="289.5" cy="1146.6" r="2.15"/><circle cx="273.3" cy="1138.2" r="2.15"/><circle cx="277.4" cy="1126.1" r="2.15"/><circle cx="275.5" cy="1150.4" r="2.15"/><circle cx="294.8" cy="1150.7" r="2.15"/><circle cx="285.1" cy="1142.6" r="2.15"/><circle cx="269.3" cy="1142.2" r="2.15"/><circle cx="289.0" cy="1150.8" r="2.15"/><circle cx="291.2" cy="1151.5" r="2.15"/><circle cx="301.7" cy="1141.3" r="2.15"/><circle cx="278.0" cy="1149.9" r="2.15"/><circle cx="289.7" cy="1141.3" r="2.15"/><circle cx="310.2" cy="1149.1" r="2.15"/><circle cx="280.9" cy="1137.0" r="2.15"/><circle cx="280.4" cy="1131.3" r="2.15"/><circle cx="291.0" cy="1147.1" r="2.15"/><circle cx="278.7" cy="1145.9" r="2.15"/><circle cx="284.8" cy="1152.4" r="2.15"/><circle cx="278.7" cy="1140.9" r="2.15"/><circle cx="275.2" cy="1151.6" r="2.15"/><circle cx="295.5" cy="1147.2" r="2.15"/><circle cx="280.2" cy="1150.2" r="2.15"/><circle cx="272.5" cy="1143.6" r="2.15"/><circle cx="281.3" cy="1150.5" r="2.15"/><circle cx="283.0" cy="1145.9" r="2.15"/><circle cx="288.4" cy="1147.6" r="2.15"/><circle cx="296.1" cy="1154.4" r="2.15"/><circle cx="306.3" cy="1131.8" r="2.15"/><circle cx="269.8" cy="1137.6" r="2.15"/><circle cx="281.7" cy="1147.8" r="2.15"/><circle cx="262.5" cy="1133.9" r="2.15"/><circle cx="287.3" cy="1142.3" r="2.15"/><circle cx="291.0" cy="1150.9" r="2.15"/><circle cx="276.6" cy="1150.9" r="2.15"/><circle cx="273.4" cy="1142.2" r="2.15"/><circle cx="272.5" cy="1147.5" r="2.15"/><circle cx="266.3" cy="1137.1" r="2.15"/><circle cx="292.1" cy="1143.3" r="2.15"/><circle cx="307.7" cy="1154.5" r="2.15"/><circle cx="270.6" cy="1149.2" r="2.15"/><circle cx="304.2" cy="1146.2" r="2.15"/><circle cx="283.0" cy="1150.0" r="2.15"/><circle cx="267.4" cy="1147.6" r="2.15"/><circle cx="291.1" cy="1147.9" r="2.15"/><circle cx="293.5" cy="1143.6" r="2.15"/><circle cx="289.0" cy="1138.4" r="2.15"/><circle cx="281.1" cy="1152.1" r="2.15"/><circle cx="304.5" cy="1137.0" r="2.15"/><circle cx="280.7" cy="1154.4" r="2.15"/><circle cx="291.9" cy="1145.3" r="2.15"/><circle cx="292.0" cy="1150.3" r="2.15"/><circle cx="273.2" cy="1143.7" r="2.15"/><circle cx="261.6" cy="1137.9" r="2.15"/><circle cx="263.0" cy="1148.6" r="2.15"/><circle cx="279.2" cy="1139.7" r="2.15"/><circle cx="288.4" cy="1140.5" r="2.15"/><circle cx="262.4" cy="1132.4" r="2.15"/><circle cx="275.2" cy="1136.6" r="2.15"/><circle cx="302.6" cy="1153.7" r="2.15"/><circle cx="262.1" cy="1152.4" r="2.15"/><circle cx="289.6" cy="1152.8" r="2.15"/><circle cx="288.2" cy="1153.4" r="2.15"/><circle cx="293.5" cy="1153.2" r="2.15"/><circle cx="266.0" cy="1140.1" r="2.15"/><circle cx="288.0" cy="1145.8" r="2.15"/><circle cx="267.0" cy="1152.8" r="2.15"/><circle cx="300.1" cy="1152.3" r="2.15"/><circle cx="273.3" cy="1143.7" r="2.15"/><circle cx="288.5" cy="1142.7" r="2.15"/><circle cx="274.1" cy="1143.2" r="2.15"/><circle cx="285.5" cy="1149.4" r="2.15"/><circle cx="265.2" cy="1151.5" r="2.15"/><circle cx="287.3" cy="1144.3" r="2.15"/><circle cx="291.2" cy="1140.5" r="2.15"/><circle cx="283.7" cy="1150.5" r="2.15"/><circle cx="303.5" cy="1133.0" r="2.15"/><circle cx="288.3" cy="1145.0" r="2.15"/><circle cx="293.4" cy="1142.2" r="2.15"/><circle cx="290.0" cy="1142.1" r="2.15"/><circle cx="306.6" cy="1148.6" r="2.15"/><circle cx="275.8" cy="1150.4" r="2.15"/><circle cx="280.5" cy="1137.4" r="2.15"/><circle cx="281.2" cy="1147.8" r="2.15"/><circle cx="291.4" cy="1152.7" r="2.15"/><circle cx="287.0" cy="1140.4" r="2.15"/><circle cx="294.0" cy="1133.4" r="2.15"/><circle cx="287.5" cy="1153.0" r="2.15"/><circle cx="277.6" cy="1146.2" r="2.15"/><circle cx="283.2" cy="1138.8" r="2.15"/><circle cx="289.3" cy="1146.5" r="2.15"/><circle cx="265.1" cy="1153.2" r="2.15"/><circle cx="300.9" cy="1147.9" r="2.15"/><circle cx="277.1" cy="1127.4" r="2.15"/><circle cx="279.7" cy="1154.0" r="2.15"/><circle cx="287.2" cy="1145.9" r="2.15"/><circle cx="281.0" cy="1153.1" r="2.15"/><circle cx="266.4" cy="1139.2" r="2.15"/><circle cx="281.3" cy="1154.4" r="2.15"/><circle cx="301.1" cy="1153.7" r="2.15"/><circle cx="297.0" cy="1141.2" r="2.15"/><circle cx="299.3" cy="1151.2" r="2.15"/><circle cx="277.5" cy="1141.9" r="2.15"/><circle cx="281.6" cy="1143.0" r="2.15"/><circle cx="282.1" cy="1148.2" r="2.15"/><circle cx="294.3" cy="1132.2" r="2.15"/><circle cx="288.0" cy="1145.8" r="2.15"/><circle cx="335.5" cy="1135.2" r="2.15"/><circle cx="299.6" cy="1138.4" r="2.15"/><circle cx="276.4" cy="1143.4" r="2.15"/><circle cx="340.6" cy="1123.8" r="2.15"/><circle cx="319.4" cy="1129.7" r="2.15"/><circle cx="330.9" cy="1136.4" r="2.15"/><circle cx="303.8" cy="1134.3" r="2.15"/><circle cx="323.4" cy="1139.7" r="2.15"/><circle cx="303.0" cy="1129.0" r="2.15"/><circle cx="281.0" cy="1123.8" r="2.15"/><circle cx="308.3" cy="1136.0" r="2.15"/><circle cx="309.3" cy="1139.9" r="2.15"/><circle cx="309.1" cy="1129.0" r="2.15"/><circle cx="327.2" cy="1149.2" r="2.15"/><circle cx="261.1" cy="1144.0" r="2.15"/><circle cx="313.3" cy="1145.6" r="2.15"/><circle cx="285.2" cy="1145.0" r="2.15"/><circle cx="298.5" cy="1128.6" r="2.15"/><circle cx="317.2" cy="1150.9" r="2.15"/><circle cx="307.5" cy="1130.2" r="2.15"/><circle cx="288.6" cy="1141.2" r="2.15"/><circle cx="325.3" cy="1144.8" r="2.15"/><circle cx="304.5" cy="1140.9" r="2.15"/><circle cx="330.0" cy="1139.6" r="2.15"/><circle cx="337.7" cy="1129.6" r="2.15"/><circle cx="296.9" cy="1133.8" r="2.15"/><circle cx="278.0" cy="1138.2" r="2.15"/><circle cx="308.3" cy="1151.0" r="2.15"/><circle cx="327.1" cy="1131.4" r="2.15"/><circle cx="314.4" cy="1145.0" r="2.15"/><circle cx="276.3" cy="1142.5" r="2.15"/><circle cx="262.9" cy="1139.1" r="2.15"/><circle cx="282.2" cy="1132.8" r="2.15"/><circle cx="282.0" cy="1136.9" r="2.15"/><circle cx="322.3" cy="1121.1" r="2.15"/><circle cx="308.0" cy="1139.6" r="2.15"/><circle cx="328.8" cy="1141.8" r="2.15"/><circle cx="304.2" cy="1133.4" r="2.15"/><circle cx="349.3" cy="1143.9" r="2.15"/><circle cx="306.8" cy="1141.9" r="2.15"/><circle cx="320.7" cy="1131.5" r="2.15"/><circle cx="296.1" cy="1147.2" r="2.15"/><circle cx="318.0" cy="1133.5" r="2.15"/><circle cx="334.4" cy="1146.4" r="2.15"/><circle cx="326.4" cy="1128.6" r="2.15"/><circle cx="339.3" cy="1130.8" r="2.15"/><circle cx="291.2" cy="1132.5" r="2.15"/><circle cx="318.3" cy="1141.3" r="2.15"/><circle cx="350.3" cy="1150.5" r="2.15"/><circle cx="313.2" cy="1139.8" r="2.15"/><circle cx="302.6" cy="1134.9" r="2.15"/><circle cx="300.9" cy="1151.5" r="2.15"/><circle cx="293.4" cy="1149.1" r="2.15"/><circle cx="310.5" cy="1136.1" r="2.15"/><circle cx="342.3" cy="1137.7" r="2.15"/><circle cx="318.3" cy="1123.5" r="2.15"/><circle cx="306.2" cy="1139.2" r="2.15"/><circle cx="286.6" cy="1153.4" r="2.15"/><circle cx="277.8" cy="1127.1" r="2.15"/><circle cx="367.5" cy="1124.6" r="2.15"/><circle cx="294.8" cy="1140.1" r="2.15"/><circle cx="309.3" cy="1114.8" r="2.15"/><circle cx="294.4" cy="1152.6" r="2.15"/><circle cx="310.9" cy="1123.5" r="2.15"/><circle cx="295.8" cy="1131.4" r="2.15"/><circle cx="309.3" cy="1137.0" r="2.15"/><circle cx="343.4" cy="1150.5" r="2.15"/><circle cx="287.7" cy="1142.4" r="2.15"/><circle cx="319.9" cy="1119.5" r="2.15"/><circle cx="304.7" cy="1121.5" r="2.15"/><circle cx="324.7" cy="1140.3" r="2.15"/><circle cx="289.0" cy="1117.3" r="2.15"/><circle cx="316.6" cy="1135.2" r="2.15"/><circle cx="281.3" cy="1129.9" r="2.15"/><circle cx="261.4" cy="1146.1" r="2.15"/><circle cx="272.6" cy="1150.1" r="2.15"/><circle cx="281.8" cy="1112.9" r="2.15"/><circle cx="277.3" cy="1142.3" r="2.15"/><circle cx="297.4" cy="1144.3" r="2.15"/><circle cx="333.6" cy="1130.2" r="2.15"/><circle cx="276.6" cy="1131.9" r="2.15"/><circle cx="316.8" cy="1125.8" r="2.15"/><circle cx="309.2" cy="1134.3" r="2.15"/><circle cx="287.4" cy="1141.8" r="2.15"/><circle cx="281.6" cy="1151.1" r="2.15"/><circle cx="316.0" cy="1152.1" r="2.15"/><circle cx="317.3" cy="1134.9" r="2.15"/><circle cx="296.4" cy="1129.4" r="2.15"/><circle cx="301.3" cy="1147.7" r="2.15"/><circle cx="304.9" cy="1110.0" r="2.15"/><circle cx="271.9" cy="1123.6" r="2.15"/><circle cx="307.8" cy="1144.0" r="2.15"/><circle cx="312.8" cy="1149.5" r="2.15"/><circle cx="349.4" cy="1129.8" r="2.15"/><circle cx="272.8" cy="1138.6" r="2.15"/><circle cx="283.1" cy="1126.5" r="2.15"/><circle cx="307.1" cy="1136.9" r="2.15"/><circle cx="290.2" cy="1136.9" r="2.15"/><circle cx="294.8" cy="1130.1" r="2.15"/><circle cx="305.2" cy="1141.6" r="2.15"/><circle cx="297.6" cy="1136.0" r="2.15"/><circle cx="304.2" cy="1142.7" r="2.15"/><circle cx="316.1" cy="1135.7" r="2.15"/><circle cx="264.2" cy="1125.7" r="2.15"/><circle cx="319.2" cy="1139.1" r="2.15"/><circle cx="272.8" cy="1146.3" r="2.15"/><circle cx="347.9" cy="1129.9" r="2.15"/><circle cx="328.4" cy="1151.2" r="2.15"/><circle cx="289.8" cy="1142.3" r="2.15"/><circle cx="330.7" cy="1134.2" r="2.15"/><circle cx="301.4" cy="1138.2" r="2.15"/><circle cx="316.1" cy="1133.6" r="2.15"/><circle cx="324.2" cy="1128.8" r="2.15"/><circle cx="313.9" cy="1147.0" r="2.15"/><circle cx="305.3" cy="1146.9" r="2.15"/><circle cx="320.9" cy="1133.4" r="2.15"/><circle cx="300.5" cy="1136.1" r="2.15"/><circle cx="295.8" cy="1135.8" r="2.15"/><circle cx="281.5" cy="1144.9" r="2.15"/><circle cx="261.3" cy="1152.6" r="2.15"/><circle cx="345.1" cy="1131.3" r="2.15"/><circle cx="325.0" cy="1141.0" r="2.15"/><circle cx="270.2" cy="1137.7" r="2.15"/><circle cx="315.3" cy="1143.6" r="2.15"/><circle cx="310.6" cy="1152.4" r="2.15"/><circle cx="271.1" cy="1129.2" r="2.15"/><circle cx="284.5" cy="1117.4" r="2.15"/><circle cx="302.8" cy="1136.3" r="2.15"/><circle cx="348.6" cy="1122.0" r="2.15"/><circle cx="333.0" cy="1154.6" r="2.15"/><circle cx="337.1" cy="1131.1" r="2.15"/><circle cx="313.5" cy="1135.2" r="2.15"/><circle cx="330.6" cy="1140.5" r="2.15"/><circle cx="276.1" cy="1140.2" r="2.15"/><circle cx="321.0" cy="1133.9" r="2.15"/><circle cx="323.9" cy="1138.1" r="2.15"/><circle cx="273.9" cy="1147.6" r="2.15"/><circle cx="312.0" cy="1135.0" r="2.15"/><circle cx="343.9" cy="1152.7" r="2.15"/><circle cx="354.0" cy="1141.7" r="2.15"/><circle cx="341.3" cy="1114.6" r="2.15"/><circle cx="288.1" cy="1147.1" r="2.15"/><circle cx="303.5" cy="1120.6" r="2.15"/><circle cx="292.9" cy="1141.6" r="2.15"/><circle cx="336.7" cy="1148.6" r="2.15"/><circle cx="284.7" cy="1149.0" r="2.15"/><circle cx="279.7" cy="1126.9" r="2.15"/><circle cx="265.3" cy="1130.1" r="2.15"/><circle cx="310.9" cy="1138.4" r="2.15"/><circle cx="316.9" cy="1152.8" r="2.15"/><circle cx="291.0" cy="1130.9" r="2.15"/><circle cx="287.0" cy="1149.3" r="2.15"/><circle cx="301.3" cy="1141.3" r="2.15"/><circle cx="339.7" cy="1137.3" r="2.15"/><circle cx="272.4" cy="1136.6" r="2.15"/><circle cx="305.0" cy="1154.3" r="2.15"/><circle cx="311.4" cy="1123.2" r="2.15"/><circle cx="315.5" cy="1126.9" r="2.15"/><circle cx="337.6" cy="1147.3" r="2.15"/><circle cx="327.0" cy="1148.2" r="2.15"/><circle cx="313.1" cy="1125.2" r="2.15"/><circle cx="342.8" cy="1129.1" r="2.15"/><circle cx="334.8" cy="1126.7" r="2.15"/><circle cx="313.5" cy="1143.8" r="2.15"/><circle cx="312.2" cy="1131.7" r="2.15"/><circle cx="276.6" cy="1152.5" r="2.15"/><circle cx="309.5" cy="1146.0" r="2.15"/><circle cx="286.6" cy="1140.9" r="2.15"/><circle cx="277.7" cy="1140.3" r="2.15"/><circle cx="299.3" cy="1143.7" r="2.15"/><circle cx="263.0" cy="1146.7" r="2.15"/><circle cx="283.9" cy="1138.4" r="2.15"/><circle cx="293.2" cy="1140.8" r="2.15"/><circle cx="314.4" cy="1146.1" r="2.15"/><circle cx="298.0" cy="1137.5" r="2.15"/><circle cx="315.8" cy="1148.2" r="2.15"/><circle cx="345.5" cy="1136.8" r="2.15"/><circle cx="326.4" cy="1130.5" r="2.15"/><circle cx="276.9" cy="1140.1" r="2.15"/><circle cx="261.2" cy="1154.6" r="2.15"/><circle cx="282.7" cy="1153.2" r="2.15"/><circle cx="283.3" cy="1122.2" r="2.15"/><circle cx="265.4" cy="1141.3" r="2.15"/><circle cx="262.2" cy="1133.2" r="2.15"/><circle cx="262.2" cy="1134.9" r="2.15"/><circle cx="289.9" cy="1134.7" r="2.15"/><circle cx="340.6" cy="1135.8" r="2.15"/><circle cx="347.5" cy="1132.8" r="2.15"/><circle cx="279.0" cy="1135.3" r="2.15"/><circle cx="292.9" cy="1140.3" r="2.15"/><circle cx="269.9" cy="1126.0" r="2.15"/><circle cx="263.3" cy="1125.7" r="2.15"/><circle cx="302.1" cy="1126.8" r="2.15"/><circle cx="304.9" cy="1126.7" r="2.15"/><circle cx="287.7" cy="1144.0" r="2.15"/><circle cx="319.2" cy="1126.9" r="2.15"/><circle cx="294.9" cy="1137.2" r="2.15"/><circle cx="321.9" cy="1109.3" r="2.15"/><circle cx="341.5" cy="1132.7" r="2.15"/><circle cx="320.8" cy="1134.6" r="2.15"/><circle cx="351.7" cy="1138.9" r="2.15"/><circle cx="318.2" cy="1121.7" r="2.15"/><circle cx="327.5" cy="1123.6" r="2.15"/><circle cx="342.8" cy="1113.2" r="2.15"/><circle cx="276.2" cy="1115.4" r="2.15"/><circle cx="331.7" cy="1138.9" r="2.15"/><circle cx="365.4" cy="1151.2" r="2.15"/><circle cx="323.3" cy="1119.4" r="2.15"/><circle cx="312.7" cy="1126.0" r="2.15"/><circle cx="377.1" cy="1139.2" r="2.15"/><circle cx="323.2" cy="1123.0" r="2.15"/><circle cx="357.0" cy="1135.8" r="2.15"/><circle cx="272.5" cy="1126.9" r="2.15"/><circle cx="323.2" cy="1126.9" r="2.15"/><circle cx="304.9" cy="1139.0" r="2.15"/><circle cx="331.5" cy="1127.4" r="2.15"/><circle cx="355.5" cy="1117.2" r="2.15"/><circle cx="315.5" cy="1138.2" r="2.15"/><circle cx="313.3" cy="1130.2" r="2.15"/><circle cx="285.8" cy="1124.4" r="2.15"/><circle cx="343.7" cy="1121.9" r="2.15"/><circle cx="359.9" cy="1135.7" r="2.15"/><circle cx="324.5" cy="1122.7" r="2.15"/><circle cx="305.7" cy="1131.1" r="2.15"/><circle cx="331.0" cy="1140.0" r="2.15"/><circle cx="351.1" cy="1128.9" r="2.15"/><circle cx="339.5" cy="1140.9" r="2.15"/><circle cx="382.5" cy="1116.2" r="2.15"/><circle cx="303.3" cy="1136.0" r="2.15"/><circle cx="279.3" cy="1135.3" r="2.15"/><circle cx="334.8" cy="1148.7" r="2.15"/><circle cx="358.2" cy="1130.2" r="2.15"/><circle cx="306.4" cy="1138.9" r="2.15"/><circle cx="320.2" cy="1128.4" r="2.15"/><circle cx="300.8" cy="1119.3" r="2.15"/><circle cx="282.4" cy="1121.2" r="2.15"/><circle cx="298.0" cy="1122.9" r="2.15"/><circle cx="267.1" cy="1062.7" r="2.15"/><circle cx="271.1" cy="1086.8" r="2.15"/><circle cx="271.5" cy="1100.4" r="2.15"/><circle cx="272.6" cy="1101.5" r="2.15"/><circle cx="320.8" cy="1096.4" r="2.15"/><circle cx="265.0" cy="1108.0" r="2.15"/><circle cx="263.9" cy="1112.4" r="2.15"/><circle cx="279.2" cy="1109.1" r="2.15"/><circle cx="288.6" cy="1108.7" r="2.15"/><circle cx="306.5" cy="1105.8" r="2.15"/><circle cx="311.4" cy="1106.5" r="2.15"/><circle cx="337.2" cy="1110.9" r="2.15"/><circle cx="341.6" cy="1109.1" r="2.15"/><circle cx="346.4" cy="1112.4" r="2.15"/><circle cx="363.9" cy="1113.9" r="2.15"/><circle cx="274.8" cy="1116.8" r="2.15"/><circle cx="323.0" cy="1114.6" r="2.15"/><circle cx="347.1" cy="1120.1" r="2.15"/><circle cx="355.8" cy="1122.3" r="2.15"/><circle cx="350.3" cy="1124.0" r="2.15"/><circle cx="367.9" cy="1123.4" r="2.15"/><circle cx="367.9" cy="1128.8" r="2.15"/><circle cx="348.2" cy="1131.0" r="2.15"/><circle cx="356.9" cy="1133.6" r="2.15"/><circle cx="363.5" cy="1132.1" r="2.15"/><circle cx="370.0" cy="1138.0" r="2.15"/><circle cx="378.8" cy="1139.8" r="2.15"/><circle cx="352.5" cy="1140.2" r="2.15"/><circle cx="360.2" cy="1142.0" r="2.15"/><circle cx="365.7" cy="1148.1" r="2.15"/><circle cx="349.2" cy="1149.6" r="2.15"/><circle cx="371.1" cy="1153.4" r="2.15"/><circle cx="388.6" cy="1153.4" r="2.15"/><circle cx="345.5" cy="1154.7" r="2.15"/><circle cx="417.7" cy="1106.0" r="2.15"/><circle cx="342.0" cy="1109.1" r="2.15"/><circle cx="346.5" cy="1112.6" r="2.15"/><circle cx="346.5" cy="1119.7" r="2.15"/><circle cx="353.3" cy="1123.8" r="2.15"/><circle cx="356.3" cy="1122.8" r="2.15"/><circle cx="368.0" cy="1123.4" r="2.15"/><circle cx="348.2" cy="1131.0" r="2.15"/><circle cx="368.0" cy="1129.5" r="2.15"/><circle cx="363.9" cy="1132.0" r="2.15"/><circle cx="356.8" cy="1134.0" r="2.15"/><circle cx="344.1" cy="1136.1" r="2.15"/><circle cx="343.1" cy="1139.7" r="2.15"/><circle cx="352.7" cy="1140.6" r="2.15"/><circle cx="360.4" cy="1142.2" r="2.15"/><circle cx="370.7" cy="1138.5" r="2.15"/><circle cx="379.2" cy="1140.1" r="2.15"/><circle cx="341.0" cy="1145.2" r="2.15"/><circle cx="346.1" cy="1143.2" r="2.15"/><circle cx="348.6" cy="1149.3" r="2.15"/><circle cx="365.5" cy="1148.3" r="2.15"/><circle cx="370.7" cy="1153.4" r="2.15"/><circle cx="346.1" cy="1154.0" r="2.15"/><circle cx="353.3" cy="1156.1" r="2.15"/></g>
<line x1="450.7" y1="965.3" x2="259.1" y2="1156.2" stroke="#6e6e6e" stroke-width="1.2"/>
<path d="M259.1,965.3V1160.2M254.60000000000002,1156.2H450.7M259.1,965.3h-4.5M259.1,1061.3h-4.5M354.9,1156.2v4M450.7,1156.2v4" stroke="#505050" stroke-width="1.35" fill="none"/>
<ellipse cx="280.1" cy="1085.3" rx="40.1" ry="20.3" transform="rotate(-84.4 280.1 1085.3)" fill="none" stroke="#1a1a1a" stroke-width="1.15" stroke-dasharray="1.2 2.1"/>
<ellipse cx="379.2" cy="1103.5" rx="40.1" ry="89.7" transform="rotate(66.2 379.2 1103.5)" fill="none" stroke="#1a1a1a" stroke-width="1.15" stroke-dasharray="1.2 2.1"/><g opacity="0.995"><text x="107" y="8.8" font-size="12.2" font-weight="bold" text-anchor="start" >Right</text>
<text x="0" y="73.6" font-size="12.2" font-weight="bold" text-anchor="start" >Front</text>
<text x="168" y="73.6" font-size="12.2" font-weight="bold" text-anchor="start" >Back</text>
<text x="115.3" y="131.2" font-size="12.2" font-weight="bold" text-anchor="start" >Left</text>
<text x="350.1" y="8.8" font-size="12.2" font-weight="bold" text-anchor="start" >Right</text>
<text x="249.4" y="73.6" font-size="12.2" font-weight="bold" text-anchor="start" >Front</text>
<text x="419" y="73.6" font-size="12.2" font-weight="bold" text-anchor="start" >Back</text>
<text x="353.5" y="131.2" font-size="12.2" font-weight="bold" text-anchor="start" >Left</text>
<text x="238.2" y="153.4" font-size="16" font-weight="bold" text-anchor="middle" >Monkey K, place-cell</text>
<text x="238.2" y="405" font-size="16" font-weight="bold" text-anchor="middle" >Monkey K, orientation-cell</text>
<text x="367" y="656.3" font-size="16" font-weight="bold" text-anchor="middle" >Monkey K</text>
<text x="271.7" y="929.9" font-size="16" font-weight="bold" text-anchor="middle" >Monkey M</text>
<text x="0" y="175.8" font-size="15.8" font-weight="bold" text-anchor="start" >A</text>
<text x="240.7" y="175.3" font-size="15.8" font-weight="bold" text-anchor="start" >B</text>
<text x="0" y="425.3" font-size="15.8" font-weight="bold" text-anchor="start" >C</text>
<text x="240.8" y="425.2" font-size="15.8" font-weight="bold" text-anchor="start" >D</text>
<text x="-0.5" y="681.6" font-size="15.8" font-weight="bold" text-anchor="start" >E</text>
<text x="244.6" y="681.8" font-size="15.8" font-weight="bold" text-anchor="start" >F</text>
<text x="458" y="681.8" font-size="15.8" font-weight="bold" text-anchor="start" >G</text>
<text x="-0.5" y="952.8" font-size="15.8" font-weight="bold" text-anchor="start" >H</text>
<text x="245.8" y="952.8" font-size="15.8" font-weight="bold" text-anchor="start" >I</text>
<text x="493.8" y="253.6" font-size="13" font-weight="bold" text-anchor="start" >0.6</text>
<text x="493.8" y="289.6" font-size="13" font-weight="bold" text-anchor="start" >0.3</text>
<text x="493.8" y="326.6" font-size="13" font-weight="bold" text-anchor="start" >0.1</text>
<text x="493.8" y="368.6" font-size="13" font-weight="bold" text-anchor="start" >0</text>
<text x="493.8" y="429.0" font-size="13" font-weight="bold" text-anchor="start" >-0.1</text>
<text x="493.8" y="465.6" font-size="13" font-weight="bold" text-anchor="start" >-0.3</text>
<text x="493.8" y="503.0" font-size="13" font-weight="bold" text-anchor="start" >-0.6</text>
<text x="0" y="0" font-size="12.6" font-weight="bold" text-anchor="start" transform="translate(522.2,405.7) rotate(-90)">normalized</text>
<text x="0" y="0" font-size="12.6" font-weight="bold" text-anchor="start" transform="translate(537.2,405.7) rotate(-90)">firing rate</text>
<text x="28.5" y="732.6" font-size="12" font-weight="bold" text-anchor="end" >0.04</text>
<text x="28.5" y="808.7" font-size="12" font-weight="bold" text-anchor="end" >0.02</text>
<text x="24" y="893.4" font-size="12" font-weight="bold" text-anchor="middle" >0</text>
<text x="109" y="893.4" font-size="12" font-weight="bold" text-anchor="middle" >0.02</text>
<text x="186" y="893.4" font-size="12" font-weight="bold" text-anchor="middle" >0.04</text>
<text x="0" y="0" font-size="12" font-weight="bold" text-anchor="middle" transform="translate(27,769.4) rotate(-90)">ori-TD</text>
<text x="126.8" y="681.8" font-size="16.5" text-anchor="middle" >S1</text>
<text x="255" y="734.1" font-size="12" font-weight="bold" text-anchor="end" >0.04</text>
<text x="255" y="808.4" font-size="12" font-weight="bold" text-anchor="end" >0.02</text>
<text x="259.6" y="893.6" font-size="12" font-weight="bold" text-anchor="middle" >0</text>
<text x="297.8" y="893.6" font-size="12" font-weight="bold" text-anchor="middle" >0.02</text>
<text x="336.4" y="893.6" font-size="12" font-weight="bold" text-anchor="middle" >0.04</text>
<text x="374.3" y="893.6" font-size="12" font-weight="bold" text-anchor="middle" >0.06</text>
<text x="412.6" y="893.6" font-size="12" font-weight="bold" text-anchor="middle" >0.08</text>
<text x="450.5" y="893.6" font-size="12" font-weight="bold" text-anchor="middle" >0.1</text>
<text x="353.2" y="909.7" font-size="12" font-weight="bold" text-anchor="middle" >spatial TD</text>
<text x="353.3" y="681.8" font-size="16.5" text-anchor="middle" >M1</text>
<text x="475.5" y="732.2" font-size="12" font-weight="bold" text-anchor="end" >0.04</text>
<text x="475.5" y="808.7" font-size="12" font-weight="bold" text-anchor="end" >0.02</text>
<text x="479.7" y="893.6" font-size="12" font-weight="bold" text-anchor="middle" >0</text>
<text x="517.5" y="893.6" font-size="12" font-weight="bold" text-anchor="middle" >0.02</text>
<text x="555.3" y="893.6" font-size="12" font-weight="bold" text-anchor="middle" >0.04</text>
<text x="593.7" y="893.6" font-size="12" font-weight="bold" text-anchor="middle" >0.06</text>
<text x="632.1" y="893.6" font-size="12" font-weight="bold" text-anchor="middle" >0.08</text>
<text x="670.6" y="893.6" font-size="12" font-weight="bold" text-anchor="middle" >0.1</text>
<text x="572.3" y="681.8" font-size="16.5" text-anchor="middle" >PMd</text>
<text x="28" y="969.7" font-size="12" font-weight="bold" text-anchor="end" >0.02</text>
<text x="28" y="1064.8" font-size="12" font-weight="bold" text-anchor="end" >0.01</text>
<text x="29.3" y="1169.8" font-size="12" font-weight="bold" text-anchor="middle" >0</text>
<text x="126.1" y="1169.8" font-size="12" font-weight="bold" text-anchor="middle" >0.01</text>
<text x="226.3" y="1169.8" font-size="12" font-weight="bold" text-anchor="middle" >0.02</text>
<text x="0" y="0" font-size="12" font-weight="bold" text-anchor="middle" transform="translate(29.4,1018) rotate(-90)">ori-TD</text>
<text x="126" y="952.8" font-size="16.5" text-anchor="middle" >S1</text>
<text x="254.8" y="970" font-size="12" font-weight="bold" text-anchor="end" >0.02</text>
<text x="254.8" y="1065.6" font-size="12" font-weight="bold" text-anchor="end" >0.01</text>
<text x="258" y="1169.8" font-size="12" font-weight="bold" text-anchor="middle" >0</text>
<text x="355.5" y="1169.8" font-size="12" font-weight="bold" text-anchor="middle" >0.01</text>
<text x="451.5" y="1169.8" font-size="12" font-weight="bold" text-anchor="middle" >0.02</text>
<text x="266" y="1191.3" font-size="12" font-weight="bold" text-anchor="middle" >spatial TD</text>
<text x="353.6" y="952.8" font-size="16.5" text-anchor="middle" >M1</text></g></svg></body></html>
